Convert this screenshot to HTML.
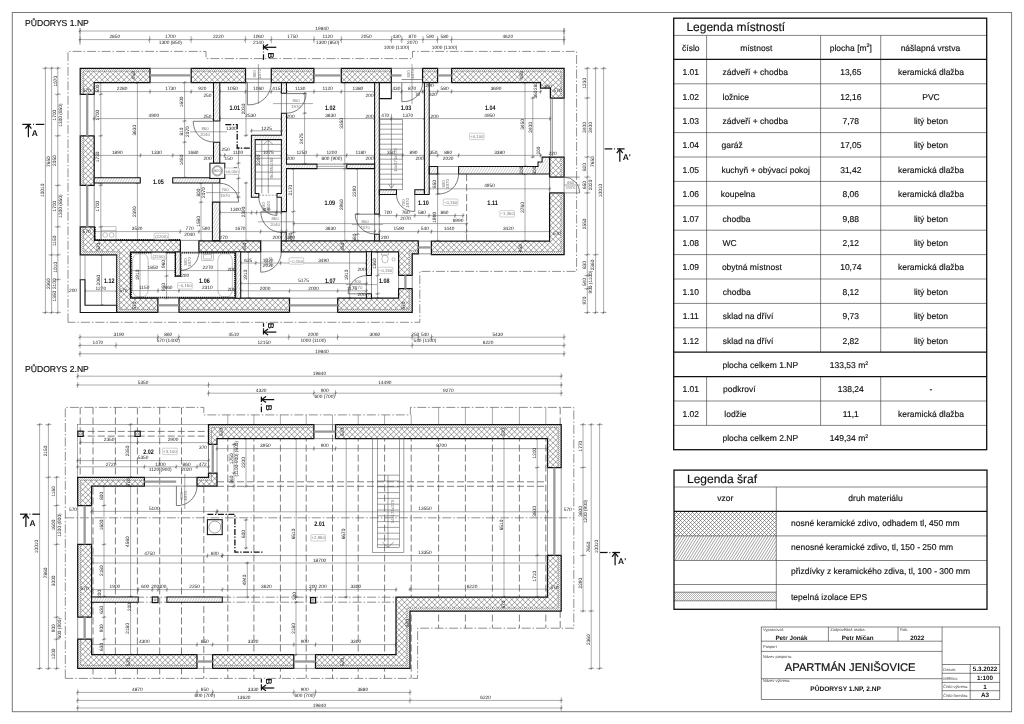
<!DOCTYPE html>
<html lang="cs"><head><meta charset="utf-8"><title>APARTMÁN JENIŠOVICE – PŮDORYSY 1.NP, 2.NP</title>
<style>
html,body{margin:0;padding:0;background:#fff;}
body{width:1024px;height:724px;overflow:hidden;}
svg{display:block;will-change:transform;text-rendering:geometricPrecision;font-family:"Liberation Sans",sans-serif;}
.fr{fill:none;stroke:#777;stroke-width:1;}
.d{stroke:#555;stroke-width:.5;fill:none;}
.tk{stroke:#333;stroke-width:.5;}
.t{font-size:4.8px;fill:#222;}
.tl{font-size:4.3px;fill:#777;}
.lv{fill:#fff;stroke:#888;stroke-width:.4;}
.rm{font-size:6.6px;font-weight:bold;fill:#111;}
.ww{fill:#fff;stroke:#111;stroke-width:1.05;}
.ins{fill:none;stroke:#444;stroke-width:.5;stroke-dasharray:1.3 .6;}
.wl{stroke:#666;stroke-width:.7;}
.gl{stroke:#999;stroke-width:2.3;}
.dr{stroke:#444;stroke-width:.7;fill:none;}
.th{stroke:#444;stroke-width:.5;fill:none;}
.dd{stroke:#444;stroke-width:.6;fill:none;stroke-dasharray:9 2 1.5 2;}
.ds{stroke:#555;stroke-width:.75;fill:none;stroke-dasharray:7 3;}
.ch{stroke:#111;stroke-width:1.3;fill:none;stroke-dasharray:6 1.6 1.3 1.6;}
.tile{stroke:#111;stroke-width:1.5;fill:none;stroke-dasharray:1.2 .7;}
.sec{stroke:#111;stroke-width:1.25;fill:none;}
.sect{font-size:8.4px;font-weight:bold;fill:#111;}
.h1{font-size:8.6px;fill:#111;stroke:#111;stroke-width:.15px;}
.tb{fill:none;stroke:#111;stroke-width:1.3;}
.tg{stroke:#333;stroke-width:.6;fill:none;}
.lt{font-size:12px;fill:#111;stroke:#111;stroke-width:.15px;}
.lc{font-size:8.5px;fill:#111;stroke:#111;stroke-width:.15px;}
.s1{font-size:4px;fill:#444;}
.s2{font-size:6.3px;font-weight:bold;fill:#111;}
.s4{font-size:6.6px;font-weight:bold;fill:#111;}
.s3{font-size:11.2px;fill:#111;stroke:#111;stroke-width:.2px;}
.wl2{fill:none;stroke:#555;stroke-width:.5;}
.fx{fill:none;stroke:#777;stroke-width:.45;}
.ds2{stroke:#444;stroke-width:.5;stroke-dasharray:2 1.2;}
.col{fill:#fff;stroke:#111;stroke-width:1.2;}
.wxs{fill:none;stroke:#111;stroke-width:1.25;}
.wf{fill:#fff;stroke:none;}
.hx{stroke:#555;stroke-width:.55;fill:none;}
.he{stroke:#777;stroke-width:.3;fill:none;}
.hd{stroke:#888;stroke-width:.42;fill:none;}
.mk{stroke:#fff;stroke-width:3;fill:none;}
.wds{fill:none;stroke:#111;stroke-width:1.05;}
.hd2{stroke:#666;stroke-width:.6;fill:none;}
</style></head>
<body>
<svg width="1024" height="724" viewBox="0 0 1024 724">

<rect x="0" y="0" width="1024" height="724" fill="#fff"/>
<rect class="fr" x="12.3" y="12.5" width="999.3" height="699.2"/>
<g id="legenda-mistnosti">
<line class="tg" x1="673.7" y1="35.4" x2="986.7" y2="35.4"/>
<line class="tg" x1="673.7" y1="83.8" x2="986.7" y2="83.8"/>
<line class="tg" x1="673.7" y1="108.2" x2="986.7" y2="108.2"/>
<line class="tg" x1="673.7" y1="132.6" x2="986.7" y2="132.6"/>
<line class="tg" x1="673.7" y1="157" x2="986.7" y2="157"/>
<line class="tg" x1="673.7" y1="181.4" x2="986.7" y2="181.4"/>
<line class="tg" x1="673.7" y1="205.8" x2="986.7" y2="205.8"/>
<line class="tg" x1="673.7" y1="230.2" x2="986.7" y2="230.2"/>
<line class="tg" x1="673.7" y1="254.6" x2="986.7" y2="254.6"/>
<line class="tg" x1="673.7" y1="279" x2="986.7" y2="279"/>
<line class="tg" x1="673.7" y1="303.4" x2="986.7" y2="303.4"/>
<line class="tg" x1="673.7" y1="327.8" x2="986.7" y2="327.8"/>
<line class="tg" x1="673.7" y1="401" x2="986.7" y2="401"/>
<line class="tg" x1="673.7" y1="425.4" x2="986.7" y2="425.4"/>
<line class="tg" x1="706.6" y1="35.4" x2="706.6" y2="352.2"/>
<line class="tg" x1="820.6" y1="35.4" x2="820.6" y2="352.2"/>
<line class="tg" x1="880.7" y1="35.4" x2="880.7" y2="352.2"/>
<line class="tg" x1="706.6" y1="376.6" x2="706.6" y2="425.4"/>
<line class="tg" x1="820.6" y1="376.6" x2="820.6" y2="425.4"/>
<line class="tg" x1="880.7" y1="376.6" x2="880.7" y2="425.4"/>
<rect class="tb" x="673.7" y="18.2" width="313" height="431.5"/>
<line class="tb" x1="673.7" y1="59.4" x2="986.7" y2="59.4"/>
<line class="tb" x1="673.7" y1="352.2" x2="986.7" y2="352.2"/>
<line class="tb" x1="673.7" y1="376.6" x2="986.7" y2="376.6"/>
<text class="lt" x="686.4" y="31.2">Legenda místností</text>
<text class="lc" x="690.8" y="50.6" text-anchor="middle">číslo</text>
<text class="lc" x="756.2" y="50.6" text-anchor="middle">místnost</text>
<text class="lc" x="850.8" y="50.6" text-anchor="middle">plocha [m<tspan font-size="5.2" dy="-3.2">2</tspan><tspan dy="3.2">]</tspan></text>
<text class="lc" x="930.4" y="50.6" text-anchor="middle">nášlapná vrstva</text>
<text class="lc" x="690.8" y="75.1" text-anchor="middle">1.01</text>
<text class="lc" x="722.5" y="75.1">zádveří + chodba</text>
<text class="lc" x="850.8" y="75.1" text-anchor="middle">13,65</text>
<text class="lc" x="931" y="75.1" text-anchor="middle">keramická dlažba</text>
<text class="lc" x="690.8" y="99.5" text-anchor="middle">1.02</text>
<text class="lc" x="722.5" y="99.5">ložnice</text>
<text class="lc" x="850.8" y="99.5" text-anchor="middle">12,16</text>
<text class="lc" x="931" y="99.5" text-anchor="middle">PVC</text>
<text class="lc" x="690.8" y="123.9" text-anchor="middle">1.03</text>
<text class="lc" x="722.5" y="123.9">zádveří + chodba</text>
<text class="lc" x="850.8" y="123.9" text-anchor="middle">7,78</text>
<text class="lc" x="931" y="123.9" text-anchor="middle">litý beton</text>
<text class="lc" x="690.8" y="148.3" text-anchor="middle">1.04</text>
<text class="lc" x="721.5" y="148.3">garáž</text>
<text class="lc" x="850.8" y="148.3" text-anchor="middle">17,05</text>
<text class="lc" x="931" y="148.3" text-anchor="middle">litý beton</text>
<text class="lc" x="690.8" y="172.7" text-anchor="middle">1.05</text>
<text class="lc" x="721.4" y="172.7">kuchyň + obývací pokoj</text>
<text class="lc" x="850.8" y="172.7" text-anchor="middle">31,42</text>
<text class="lc" x="931" y="172.7" text-anchor="middle">keramická dlažba</text>
<text class="lc" x="690.8" y="197.1" text-anchor="middle">1.06</text>
<text class="lc" x="720.8" y="197.1">koupelna</text>
<text class="lc" x="850.8" y="197.1" text-anchor="middle">8,06</text>
<text class="lc" x="931" y="197.1" text-anchor="middle">keramická dlažba</text>
<text class="lc" x="690.8" y="221.5" text-anchor="middle">1.07</text>
<text class="lc" x="722.6" y="221.5">chodba</text>
<text class="lc" x="850.8" y="221.5" text-anchor="middle">9,88</text>
<text class="lc" x="931" y="221.5" text-anchor="middle">litý beton</text>
<text class="lc" x="690.8" y="245.9" text-anchor="middle">1.08</text>
<text class="lc" x="722.6" y="245.9">WC</text>
<text class="lc" x="850.8" y="245.9" text-anchor="middle">2,12</text>
<text class="lc" x="931" y="245.9" text-anchor="middle">litý beton</text>
<text class="lc" x="690.8" y="270.3" text-anchor="middle">1.09</text>
<text class="lc" x="721.9" y="270.3">obytná místnost</text>
<text class="lc" x="850.8" y="270.3" text-anchor="middle">10,74</text>
<text class="lc" x="931" y="270.3" text-anchor="middle">keramická dlažba</text>
<text class="lc" x="690.8" y="294.7" text-anchor="middle">1.10</text>
<text class="lc" x="722.8" y="294.7">chodba</text>
<text class="lc" x="850.8" y="294.7" text-anchor="middle">8,12</text>
<text class="lc" x="931" y="294.7" text-anchor="middle">litý beton</text>
<text class="lc" x="690.8" y="319.1" text-anchor="middle">1.11</text>
<text class="lc" x="722.8" y="319.1">sklad na dříví</text>
<text class="lc" x="850.8" y="319.1" text-anchor="middle">9,73</text>
<text class="lc" x="931" y="319.1" text-anchor="middle">litý beton</text>
<text class="lc" x="690.8" y="343.5" text-anchor="middle">1.12</text>
<text class="lc" x="722.8" y="343.5">sklad na dříví</text>
<text class="lc" x="850.8" y="343.5" text-anchor="middle">2,82</text>
<text class="lc" x="931" y="343.5" text-anchor="middle">litý beton</text>
<text class="lc" x="722.5" y="367.9">plocha celkem 1.NP</text>
<text class="lc" x="829.8" y="367.9">133,53 m<tspan font-size="5.2" dy="-3.2">2</tspan></text>
<text class="lc" x="690.8" y="392.3" text-anchor="middle">1.01</text>
<text class="lc" x="723" y="392.3">podkroví</text>
<text class="lc" x="850.8" y="392.3" text-anchor="middle">138,24</text>
<text class="lc" x="931" y="392.3" text-anchor="middle">-</text>
<text class="lc" x="690.8" y="416.7" text-anchor="middle">1.02</text>
<text class="lc" x="724.3" y="416.7">lodžie</text>
<text class="lc" x="850.8" y="416.7" text-anchor="middle">11,1</text>
<text class="lc" x="931" y="416.7" text-anchor="middle">keramická dlažba</text>
<text class="lc" x="722.5" y="441.1">plocha celkem 2.NP</text>
<text class="lc" x="829.8" y="441.1">149,34 m<tspan font-size="5.2" dy="-3.2">2</tspan></text>
</g>
<g id="legenda-sraf">
<clipPath id="cs1"><rect x="674" y="511.3" width="102.3" height="24.6"/></clipPath>
<path class="hx" clip-path="url(#cs1)" d="M651.3 511.3L675.9 535.9M655.3 511.3L679.9 535.9M659.3 511.3L683.9 535.9M663.3 511.3L687.9 535.9M667.3 511.3L691.9 535.9M671.3 511.3L695.9 535.9M675.3 511.3L699.9 535.9M679.3 511.3L703.9 535.9M683.3 511.3L707.9 535.9M687.3 511.3L711.9 535.9M691.3 511.3L715.9 535.9M695.3 511.3L719.9 535.9M699.3 511.3L723.9 535.9M703.3 511.3L727.9 535.9M707.3 511.3L731.9 535.9M711.3 511.3L735.9 535.9M715.3 511.3L739.9 535.9M719.3 511.3L743.9 535.9M723.3 511.3L747.9 535.9M727.3 511.3L751.9 535.9M731.3 511.3L755.9 535.9M735.3 511.3L759.9 535.9M739.3 511.3L763.9 535.9M743.3 511.3L767.9 535.9M747.3 511.3L771.9 535.9M751.3 511.3L775.9 535.9M755.3 511.3L779.9 535.9M759.3 511.3L783.9 535.9M763.3 511.3L787.9 535.9M767.3 511.3L791.9 535.9M771.3 511.3L795.9 535.9M775.3 511.3L799.9 535.9M677.7 511.3L653.1 535.9M681.7 511.3L657.1 535.9M685.7 511.3L661.1 535.9M689.7 511.3L665.1 535.9M693.7 511.3L669.1 535.9M697.7 511.3L673.1 535.9M701.7 511.3L677.1 535.9M705.7 511.3L681.1 535.9M709.7 511.3L685.1 535.9M713.7 511.3L689.1 535.9M717.7 511.3L693.1 535.9M721.7 511.3L697.1 535.9M725.7 511.3L701.1 535.9M729.7 511.3L705.1 535.9M733.7 511.3L709.1 535.9M737.7 511.3L713.1 535.9M741.7 511.3L717.1 535.9M745.7 511.3L721.1 535.9M749.7 511.3L725.1 535.9M753.7 511.3L729.1 535.9M757.7 511.3L733.1 535.9M761.7 511.3L737.1 535.9M765.7 511.3L741.1 535.9M769.7 511.3L745.1 535.9M773.7 511.3L749.1 535.9M777.7 511.3L753.1 535.9M781.7 511.3L757.1 535.9M785.7 511.3L761.1 535.9M789.7 511.3L765.1 535.9M793.7 511.3L769.1 535.9M797.7 511.3L773.1 535.9"/>
<clipPath id="cs2"><rect x="674" y="535.9" width="102.3" height="24.6"/></clipPath>
<path class="hd2" clip-path="url(#cs2)" d="M655.93 560.5L671.3 535.9M658.63 560.5L674 535.9M661.33 560.5L676.7 535.9M664.03 560.5L679.4 535.9M666.73 560.5L682.1 535.9M669.43 560.5L684.8 535.9M672.13 560.5L687.5 535.9M674.83 560.5L690.2 535.9M677.53 560.5L692.9 535.9M680.23 560.5L695.6 535.9M682.93 560.5L698.3 535.9M685.63 560.5L701 535.9M688.33 560.5L703.7 535.9M691.03 560.5L706.4 535.9M693.73 560.5L709.1 535.9M696.43 560.5L711.8 535.9M699.13 560.5L714.5 535.9M701.83 560.5L717.2 535.9M704.53 560.5L719.9 535.9M707.23 560.5L722.6 535.9M709.93 560.5L725.3 535.9M712.63 560.5L728 535.9M715.33 560.5L730.7 535.9M718.03 560.5L733.4 535.9M720.73 560.5L736.1 535.9M723.43 560.5L738.8 535.9M726.13 560.5L741.5 535.9M728.83 560.5L744.2 535.9M731.53 560.5L746.9 535.9M734.23 560.5L749.6 535.9M736.93 560.5L752.3 535.9M739.63 560.5L755 535.9M742.33 560.5L757.7 535.9M745.03 560.5L760.4 535.9M747.73 560.5L763.1 535.9M750.43 560.5L765.8 535.9M753.13 560.5L768.5 535.9M755.83 560.5L771.2 535.9M758.53 560.5L773.9 535.9M761.23 560.5L776.6 535.9M763.93 560.5L779.3 535.9M766.63 560.5L782 535.9M769.33 560.5L784.7 535.9M772.03 560.5L787.4 535.9M774.73 560.5L790.1 535.9M777.43 560.5L792.8 535.9"/>
<clipPath id="cs3"><rect x="674" y="592.2" width="102.3" height="8.6"/></clipPath>
<path class="he" clip-path="url(#cs3)" d="M666.2 592.2L674.8 600.8M668.2 592.2L676.8 600.8M670.2 592.2L678.8 600.8M672.2 592.2L680.8 600.8M674.2 592.2L682.8 600.8M676.2 592.2L684.8 600.8M678.2 592.2L686.8 600.8M680.2 592.2L688.8 600.8M682.2 592.2L690.8 600.8M684.2 592.2L692.8 600.8M686.2 592.2L694.8 600.8M688.2 592.2L696.8 600.8M690.2 592.2L698.8 600.8M692.2 592.2L700.8 600.8M694.2 592.2L702.8 600.8M696.2 592.2L704.8 600.8M698.2 592.2L706.8 600.8M700.2 592.2L708.8 600.8M702.2 592.2L710.8 600.8M704.2 592.2L712.8 600.8M706.2 592.2L714.8 600.8M708.2 592.2L716.8 600.8M710.2 592.2L718.8 600.8M712.2 592.2L720.8 600.8M714.2 592.2L722.8 600.8M716.2 592.2L724.8 600.8M718.2 592.2L726.8 600.8M720.2 592.2L728.8 600.8M722.2 592.2L730.8 600.8M724.2 592.2L732.8 600.8M726.2 592.2L734.8 600.8M728.2 592.2L736.8 600.8M730.2 592.2L738.8 600.8M732.2 592.2L740.8 600.8M734.2 592.2L742.8 600.8M736.2 592.2L744.8 600.8M738.2 592.2L746.8 600.8M740.2 592.2L748.8 600.8M742.2 592.2L750.8 600.8M744.2 592.2L752.8 600.8M746.2 592.2L754.8 600.8M748.2 592.2L756.8 600.8M750.2 592.2L758.8 600.8M752.2 592.2L760.8 600.8M754.2 592.2L762.8 600.8M756.2 592.2L764.8 600.8M758.2 592.2L766.8 600.8M760.2 592.2L768.8 600.8M762.2 592.2L770.8 600.8M764.2 592.2L772.8 600.8M766.2 592.2L774.8 600.8M768.2 592.2L776.8 600.8M770.2 592.2L778.8 600.8M772.2 592.2L780.8 600.8M774.2 592.2L782.8 600.8M776.2 592.2L784.8 600.8M674.8 592.2L666.2 600.8M676.8 592.2L668.2 600.8M678.8 592.2L670.2 600.8M680.8 592.2L672.2 600.8M682.8 592.2L674.2 600.8M684.8 592.2L676.2 600.8M686.8 592.2L678.2 600.8M688.8 592.2L680.2 600.8M690.8 592.2L682.2 600.8M692.8 592.2L684.2 600.8M694.8 592.2L686.2 600.8M696.8 592.2L688.2 600.8M698.8 592.2L690.2 600.8M700.8 592.2L692.2 600.8M702.8 592.2L694.2 600.8M704.8 592.2L696.2 600.8M706.8 592.2L698.2 600.8M708.8 592.2L700.2 600.8M710.8 592.2L702.2 600.8M712.8 592.2L704.2 600.8M714.8 592.2L706.2 600.8M716.8 592.2L708.2 600.8M718.8 592.2L710.2 600.8M720.8 592.2L712.2 600.8M722.8 592.2L714.2 600.8M724.8 592.2L716.2 600.8M726.8 592.2L718.2 600.8M728.8 592.2L720.2 600.8M730.8 592.2L722.2 600.8M732.8 592.2L724.2 600.8M734.8 592.2L726.2 600.8M736.8 592.2L728.2 600.8M738.8 592.2L730.2 600.8M740.8 592.2L732.2 600.8M742.8 592.2L734.2 600.8M744.8 592.2L736.2 600.8M746.8 592.2L738.2 600.8M748.8 592.2L740.2 600.8M750.8 592.2L742.2 600.8M752.8 592.2L744.2 600.8M754.8 592.2L746.2 600.8M756.8 592.2L748.2 600.8M758.8 592.2L750.2 600.8M760.8 592.2L752.2 600.8M762.8 592.2L754.2 600.8M764.8 592.2L756.2 600.8M766.8 592.2L758.2 600.8M768.8 592.2L760.2 600.8M770.8 592.2L762.2 600.8M772.8 592.2L764.2 600.8M774.8 592.2L766.2 600.8M776.8 592.2L768.2 600.8M778.8 592.2L770.2 600.8M780.8 592.2L772.2 600.8M782.8 592.2L774.2 600.8M784.8 592.2L776.2 600.8"/>
<line class="tg" x1="674" y1="592.2" x2="776.3" y2="592.2"/>
<line class="tg" x1="674" y1="600.8" x2="776.3" y2="600.8"/>
<line class="tg" x1="674" y1="487" x2="987" y2="487"/>
<line class="tg" x1="674" y1="535.9" x2="987" y2="535.9"/>
<line class="tg" x1="674" y1="560.5" x2="987" y2="560.5"/>
<line class="tg" x1="674" y1="584.5" x2="987" y2="584.5"/>
<line class="tg" x1="776.3" y1="487" x2="776.3" y2="609.3"/>
<rect class="tb" x="674" y="470.1" width="313" height="139.2"/>
<line class="tb" x1="674" y1="511.3" x2="987" y2="511.3"/>
<text class="lt" x="687" y="482.7">Legenda šraf</text>
<text class="lc" x="725.3" y="501.3" text-anchor="middle">vzor</text>
<text class="lc" x="875.5" y="501.3" text-anchor="middle">druh materiálu</text>
<text class="lc" x="791" y="525.7">nosné keramické zdivo, odhadem tl, 450 mm</text>
<text class="lc" x="791" y="550.1">nenosné keramické zdivo, tl, 150 - 250 mm</text>
<text class="lc" x="791" y="573.9">přizdívky z keramického zdiva, tl, 100 - 300 mm</text>
<text class="lc" x="791" y="599.8">tepelná izolace EPS</text>
</g>
<g id="rohove-razitko">
<rect class="tg" x="761.2" y="627" width="238.6" height="72.4"/>
<line class="tg" x1="942.1" y1="627" x2="942.1" y2="699.4"/>
<line class="tg" x1="761.2" y1="641.2" x2="942.1" y2="641.2"/>
<line class="tg" x1="761.2" y1="651.4" x2="942.1" y2="651.4"/>
<line class="tg" x1="761.2" y1="678.7" x2="942.1" y2="678.7"/>
<line class="tg" x1="828.4" y1="627" x2="828.4" y2="641.2"/>
<line class="tg" x1="898" y1="627" x2="898" y2="641.2"/>
<line class="tg" x1="942.1" y1="664.5" x2="999.8" y2="664.5"/>
<line class="tg" x1="942.1" y1="673.3" x2="999.8" y2="673.3"/>
<line class="tg" x1="942.1" y1="682.4" x2="999.8" y2="682.4"/>
<line class="tg" x1="942.1" y1="690.7" x2="999.8" y2="690.7"/>
<line class="tg" x1="970.2" y1="664.5" x2="970.2" y2="699.4"/>
<text class="s1" x="763" y="631.4">Vypracoval:</text>
<text class="s2" x="791.5" y="639.7" text-anchor="middle">Petr Jonák</text>
<text class="s1" x="830.3" y="631.4">Zodpovědná osoba:</text>
<text class="s2" x="857.8" y="639.7" text-anchor="middle">Petr Mičan</text>
<text class="s1" x="900" y="631.4">Rok:</text>
<text class="s2" x="917.2" y="639.9" text-anchor="middle">2022</text>
<text class="s1" x="763" y="647.6">Pasport</text>
<text class="s1" x="763" y="657.7">Název pasportu:</text>
<text class="s3" x="850.2" y="670.8" text-anchor="middle">APARTMÁN JENIŠOVICE</text>
<text class="s1" x="763" y="682.4">Název výkresu:</text>
<text class="s4" x="845.6" y="690.8" text-anchor="middle">PŮDORYSY 1.NP, 2.NP</text>
<text class="s1" x="943.3" y="670.9">Datum:</text>
<text class="s2" x="985" y="671.3" text-anchor="middle">5.3.2022</text>
<text class="s1" x="943.3" y="679.7">Měřítko:</text>
<text class="s2" x="985" y="680.1" text-anchor="middle">1:100</text>
<text class="s1" x="943.3" y="688.4">Číslo výkresu:</text>
<text class="s2" x="985" y="688.8" text-anchor="middle">1</text>
<text class="s1" x="943.3" y="696.8">Číslo formátu:</text>
<text class="s2" x="985" y="697.2" text-anchor="middle">A3</text>
</g>
<g id="pudorys-1np">
<text class="h1" x="25" y="26.3">PŮDORYS 1.NP</text>
<polyline class="dd" points="68,322.3 68,51.4 206,51.4 206,58.6 412.5,58.6 412.5,51.4 576.6,51.4 576.6,271.4 419.8,271.4 419.8,322.3 68,322.3"/>
<line class="d" x1="78.5" y1="31" x2="565.5" y2="31"/>
<line class="d" x1="80" y1="28" x2="80" y2="34"/>
<line class="tk" x1="78.9" y1="32.1" x2="81.1" y2="29.9"/>
<line class="d" x1="564" y1="28" x2="564" y2="34"/>
<line class="tk" x1="562.9" y1="32.1" x2="565.1" y2="29.9"/>
<text class="t" x="322" y="29.7" text-anchor="middle">19840</text>
<line class="d" x1="78.5" y1="39.6" x2="565.5" y2="39.6"/>
<line class="d" x1="80" y1="36.1" x2="80" y2="43.1"/>
<line class="tk" x1="78.9" y1="40.7" x2="81.1" y2="38.5"/>
<line class="d" x1="149.6" y1="36.1" x2="149.6" y2="43.1"/>
<line class="tk" x1="148.5" y1="40.7" x2="150.7" y2="38.5"/>
<line class="d" x1="191.1" y1="36.1" x2="191.1" y2="43.1"/>
<line class="tk" x1="190" y1="40.7" x2="192.2" y2="38.5"/>
<line class="d" x1="245.4" y1="36.1" x2="245.4" y2="43.1"/>
<line class="tk" x1="244.3" y1="40.7" x2="246.5" y2="38.5"/>
<line class="d" x1="271.3" y1="36.1" x2="271.3" y2="43.1"/>
<line class="tk" x1="270.2" y1="40.7" x2="272.4" y2="38.5"/>
<line class="d" x1="314" y1="36.1" x2="314" y2="43.1"/>
<line class="tk" x1="312.9" y1="40.7" x2="315.1" y2="38.5"/>
<line class="d" x1="341.3" y1="36.1" x2="341.3" y2="43.1"/>
<line class="tk" x1="340.2" y1="40.7" x2="342.4" y2="38.5"/>
<line class="d" x1="391.4" y1="36.1" x2="391.4" y2="43.1"/>
<line class="tk" x1="390.3" y1="40.7" x2="392.5" y2="38.5"/>
<line class="d" x1="401.8" y1="36.1" x2="401.8" y2="43.1"/>
<line class="tk" x1="400.7" y1="40.7" x2="402.9" y2="38.5"/>
<line class="d" x1="423" y1="36.1" x2="423" y2="43.1"/>
<line class="tk" x1="421.9" y1="40.7" x2="424.1" y2="38.5"/>
<line class="d" x1="437.5" y1="36.1" x2="437.5" y2="43.1"/>
<line class="tk" x1="436.4" y1="40.7" x2="438.6" y2="38.5"/>
<line class="d" x1="451.6" y1="36.1" x2="451.6" y2="43.1"/>
<line class="tk" x1="450.5" y1="40.7" x2="452.7" y2="38.5"/>
<line class="d" x1="564" y1="36.1" x2="564" y2="43.1"/>
<line class="tk" x1="562.9" y1="40.7" x2="565.1" y2="38.5"/>
<text class="t" x="114.8" y="38.3" text-anchor="middle">2850</text>
<text class="t" x="170.35" y="38.3" text-anchor="middle">1700</text>
<text class="t" x="218.25" y="38.3" text-anchor="middle">2220</text>
<text class="t" x="258.35" y="38.3" text-anchor="middle">1060</text>
<text class="t" x="292.65" y="38.3" text-anchor="middle">1750</text>
<text class="t" x="327.65" y="38.3" text-anchor="middle">1120</text>
<text class="t" x="366.35" y="38.3" text-anchor="middle">2050</text>
<text class="t" x="396.6" y="38.3" text-anchor="middle">430</text>
<text class="t" x="412.4" y="38.3" text-anchor="middle">870</text>
<text class="t" x="430.25" y="38.3" text-anchor="middle">590</text>
<text class="t" x="444.55" y="38.3" text-anchor="middle">580</text>
<text class="t" x="507.8" y="38.3" text-anchor="middle">4620</text>
<text class="t" x="170.35" y="44" text-anchor="middle">1300 (850)</text>
<text class="t" x="258.35" y="44" text-anchor="middle">2140</text>
<text class="t" x="327.65" y="44" text-anchor="middle">1300 (850)</text>
<text class="t" x="412.4" y="44" text-anchor="middle">2070</text>
<text class="t" x="396.5" y="48.6" text-anchor="middle">1000 (1100)</text>
<text class="t" x="444.5" y="48.6" text-anchor="middle">1000 (1100)</text>
<line class="d" x1="80" y1="28" x2="80" y2="45"/>
<line class="d" x1="564" y1="28" x2="564" y2="45"/>
<line class="d" x1="78.5" y1="337.2" x2="565.5" y2="337.2"/>
<line class="d" x1="80" y1="334.2" x2="80" y2="340.2"/>
<line class="tk" x1="78.9" y1="338.3" x2="81.1" y2="336.1"/>
<line class="d" x1="157.8" y1="334.2" x2="157.8" y2="340.2"/>
<line class="tk" x1="156.7" y1="338.3" x2="158.9" y2="336.1"/>
<line class="d" x1="178.8" y1="334.2" x2="178.8" y2="340.2"/>
<line class="tk" x1="177.7" y1="338.3" x2="179.9" y2="336.1"/>
<line class="d" x1="288.8" y1="334.2" x2="288.8" y2="340.2"/>
<line class="tk" x1="287.7" y1="338.3" x2="289.9" y2="336.1"/>
<line class="d" x1="337.6" y1="334.2" x2="337.6" y2="340.2"/>
<line class="tk" x1="336.5" y1="338.3" x2="338.7" y2="336.1"/>
<line class="d" x1="412.2" y1="334.2" x2="412.2" y2="340.2"/>
<line class="tk" x1="411.1" y1="338.3" x2="413.3" y2="336.1"/>
<line class="d" x1="418.3" y1="334.2" x2="418.3" y2="340.2"/>
<line class="tk" x1="417.2" y1="338.3" x2="419.4" y2="336.1"/>
<line class="d" x1="431.5" y1="334.2" x2="431.5" y2="340.2"/>
<line class="tk" x1="430.4" y1="338.3" x2="432.6" y2="336.1"/>
<line class="d" x1="564" y1="334.2" x2="564" y2="340.2"/>
<line class="tk" x1="562.9" y1="338.3" x2="565.1" y2="336.1"/>
<text class="t" x="118.9" y="335.9" text-anchor="middle">3190</text>
<text class="t" x="168.3" y="335.9" text-anchor="middle">860</text>
<text class="t" x="233.8" y="335.9" text-anchor="middle">4510</text>
<text class="t" x="313.2" y="335.9" text-anchor="middle">2000</text>
<text class="t" x="374.9" y="335.9" text-anchor="middle">3060</text>
<text class="t" x="415.25" y="335.9" text-anchor="middle">250</text>
<text class="t" x="424.9" y="335.9" text-anchor="middle">540</text>
<text class="t" x="497.75" y="335.9" text-anchor="middle">5430</text>
<text class="t" x="168.3" y="341.6" text-anchor="middle">570 (1400)</text>
<text class="t" x="313.2" y="341.6" text-anchor="middle">1000 (1100)</text>
<text class="t" x="424.9" y="341.6" text-anchor="middle">540 (1100)</text>
<line class="d" x1="78.5" y1="345.4" x2="565.5" y2="345.4"/>
<line class="d" x1="80" y1="342.4" x2="80" y2="348.4"/>
<line class="tk" x1="78.9" y1="346.5" x2="81.1" y2="344.3"/>
<line class="d" x1="115.9" y1="342.4" x2="115.9" y2="348.4"/>
<line class="tk" x1="114.8" y1="346.5" x2="117" y2="344.3"/>
<line class="d" x1="412.2" y1="342.4" x2="412.2" y2="348.4"/>
<line class="tk" x1="411.1" y1="346.5" x2="413.3" y2="344.3"/>
<line class="d" x1="564" y1="342.4" x2="564" y2="348.4"/>
<line class="tk" x1="562.9" y1="346.5" x2="565.1" y2="344.3"/>
<text class="t" x="97.95" y="344.1" text-anchor="middle">1470</text>
<text class="t" x="264.05" y="344.1" text-anchor="middle">12150</text>
<text class="t" x="488.1" y="344.1" text-anchor="middle">6220</text>
<line class="d" x1="78.5" y1="353.8" x2="565.5" y2="353.8"/>
<line class="d" x1="80" y1="350.8" x2="80" y2="356.8"/>
<line class="tk" x1="78.9" y1="354.9" x2="81.1" y2="352.7"/>
<line class="d" x1="564" y1="350.8" x2="564" y2="356.8"/>
<line class="tk" x1="562.9" y1="354.9" x2="565.1" y2="352.7"/>
<text class="t" x="322" y="352.5" text-anchor="middle">19840</text>
<line class="d" x1="57.8" y1="66.7" x2="57.8" y2="314"/>
<line class="d" x1="54.8" y1="68.2" x2="60.8" y2="68.2"/>
<line class="tk" x1="56.7" y1="69.3" x2="58.9" y2="67.1"/>
<line class="d" x1="54.8" y1="94.3" x2="60.8" y2="94.3"/>
<line class="tk" x1="56.7" y1="95.4" x2="58.9" y2="93.2"/>
<line class="d" x1="54.8" y1="135.8" x2="60.8" y2="135.8"/>
<line class="tk" x1="56.7" y1="136.9" x2="58.9" y2="134.7"/>
<line class="d" x1="54.8" y1="185.4" x2="60.8" y2="185.4"/>
<line class="tk" x1="56.7" y1="186.5" x2="58.9" y2="184.3"/>
<line class="d" x1="54.8" y1="226.8" x2="60.8" y2="226.8"/>
<line class="tk" x1="56.7" y1="227.9" x2="58.9" y2="225.7"/>
<line class="d" x1="54.8" y1="254.9" x2="60.8" y2="254.9"/>
<line class="tk" x1="56.7" y1="256" x2="58.9" y2="253.8"/>
<line class="d" x1="54.8" y1="279.6" x2="60.8" y2="279.6"/>
<line class="tk" x1="56.7" y1="280.7" x2="58.9" y2="278.5"/>
<line class="d" x1="54.8" y1="312.5" x2="60.8" y2="312.5"/>
<line class="tk" x1="56.7" y1="313.6" x2="58.9" y2="311.4"/>
<text class="t" x="56.5" y="81.25" text-anchor="middle" transform="rotate(-90 56.5 81.25)">1070</text>
<text class="t" x="56.5" y="115.05" text-anchor="middle" transform="rotate(-90 56.5 115.05)">1700</text>
<text class="t" x="56.5" y="160.6" text-anchor="middle" transform="rotate(-90 56.5 160.6)">2050</text>
<text class="t" x="56.5" y="206.1" text-anchor="middle" transform="rotate(-90 56.5 206.1)">1700</text>
<text class="t" x="56.5" y="240.85" text-anchor="middle" transform="rotate(-90 56.5 240.85)">1150</text>
<text class="t" x="56.5" y="267.25" text-anchor="middle" transform="rotate(-90 56.5 267.25)">1010</text>
<text class="t" x="56.5" y="296.05" text-anchor="middle" transform="rotate(-90 56.5 296.05)">1350</text>
<text class="t" x="62.2" y="115.05" text-anchor="middle" transform="rotate(-90 62.2 115.05)">1300 (850)</text>
<text class="t" x="62.2" y="206.1" text-anchor="middle" transform="rotate(-90 62.2 206.1)">1300 (850)</text>
<line class="d" x1="51.6" y1="66.7" x2="51.6" y2="314"/>
<line class="d" x1="48.6" y1="68.2" x2="54.6" y2="68.2"/>
<line class="tk" x1="50.5" y1="69.3" x2="52.7" y2="67.1"/>
<line class="d" x1="48.6" y1="254.9" x2="54.6" y2="254.9"/>
<line class="tk" x1="50.5" y1="256" x2="52.7" y2="253.8"/>
<line class="d" x1="48.6" y1="312.5" x2="54.6" y2="312.5"/>
<line class="tk" x1="50.5" y1="313.6" x2="52.7" y2="311.4"/>
<text class="t" x="50.3" y="161.55" text-anchor="middle" transform="rotate(-90 50.3 161.55)">7650</text>
<text class="t" x="50.3" y="283.7" text-anchor="middle" transform="rotate(-90 50.3 283.7)">2360</text>
<text class="t" x="56" y="283.7" text-anchor="middle" transform="rotate(-90 56 283.7)">2100</text>
<line class="d" x1="45.4" y1="66.7" x2="45.4" y2="314"/>
<line class="d" x1="42.4" y1="68.2" x2="48.4" y2="68.2"/>
<line class="tk" x1="44.3" y1="69.3" x2="46.5" y2="67.1"/>
<line class="d" x1="42.4" y1="312.5" x2="48.4" y2="312.5"/>
<line class="tk" x1="44.3" y1="313.6" x2="46.5" y2="311.4"/>
<text class="t" x="44.1" y="190.35" text-anchor="middle" transform="rotate(-90 44.1 190.35)">10010</text>
<line class="d" x1="587.3" y1="66.9" x2="587.3" y2="314"/>
<line class="d" x1="584.3" y1="68.4" x2="590.3" y2="68.4"/>
<line class="tk" x1="586.2" y1="69.5" x2="588.4" y2="67.3"/>
<line class="d" x1="584.3" y1="98" x2="590.3" y2="98"/>
<line class="tk" x1="586.2" y1="99.1" x2="588.4" y2="96.9"/>
<line class="d" x1="584.3" y1="157" x2="590.3" y2="157"/>
<line class="tk" x1="586.2" y1="158.1" x2="588.4" y2="155.9"/>
<line class="d" x1="584.3" y1="177.1" x2="590.3" y2="177.1"/>
<line class="tk" x1="586.2" y1="178.2" x2="588.4" y2="176"/>
<line class="d" x1="584.3" y1="192.9" x2="590.3" y2="192.9"/>
<line class="tk" x1="586.2" y1="194" x2="588.4" y2="191.8"/>
<line class="d" x1="584.3" y1="254.7" x2="590.3" y2="254.7"/>
<line class="tk" x1="586.2" y1="255.8" x2="588.4" y2="253.6"/>
<line class="d" x1="584.3" y1="275.4" x2="590.3" y2="275.4"/>
<line class="tk" x1="586.2" y1="276.5" x2="588.4" y2="274.3"/>
<line class="d" x1="584.3" y1="288.7" x2="590.3" y2="288.7"/>
<line class="tk" x1="586.2" y1="289.8" x2="588.4" y2="287.6"/>
<line class="d" x1="584.3" y1="312.5" x2="590.3" y2="312.5"/>
<line class="tk" x1="586.2" y1="313.6" x2="588.4" y2="311.4"/>
<text class="t" x="586" y="83.2" text-anchor="middle" transform="rotate(-90 586 83.2)">1230</text>
<text class="t" x="586" y="127.5" text-anchor="middle" transform="rotate(-90 586 127.5)">2400</text>
<text class="t" x="586" y="167.05" text-anchor="middle" transform="rotate(-90 586 167.05)">820</text>
<text class="t" x="586" y="185" text-anchor="middle" transform="rotate(-90 586 185)">650</text>
<text class="t" x="586" y="223.8" text-anchor="middle" transform="rotate(-90 586 223.8)">2550</text>
<text class="t" x="586" y="265.05" text-anchor="middle" transform="rotate(-90 586 265.05)">830</text>
<text class="t" x="586" y="282.05" text-anchor="middle" transform="rotate(-90 586 282.05)">540</text>
<text class="t" x="586" y="300.6" text-anchor="middle" transform="rotate(-90 586 300.6)">970</text>
<text class="t" x="591.7" y="127.5" text-anchor="middle" transform="rotate(-90 591.7 127.5)">2400</text>
<text class="t" x="591.7" y="185" text-anchor="middle" transform="rotate(-90 591.7 185)">2020</text>
<text class="t" x="591.7" y="282.05" text-anchor="middle" transform="rotate(-90 591.7 282.05)">900 (1100)</text>
<line class="d" x1="595.6" y1="66.9" x2="595.6" y2="314"/>
<line class="d" x1="592.6" y1="68.4" x2="598.6" y2="68.4"/>
<line class="tk" x1="594.5" y1="69.5" x2="596.7" y2="67.3"/>
<line class="d" x1="592.6" y1="254.7" x2="598.6" y2="254.7"/>
<line class="tk" x1="594.5" y1="255.8" x2="596.7" y2="253.6"/>
<line class="d" x1="592.6" y1="312.5" x2="598.6" y2="312.5"/>
<line class="tk" x1="594.5" y1="313.6" x2="596.7" y2="311.4"/>
<text class="t" x="594.3" y="161.55" text-anchor="middle" transform="rotate(-90 594.3 161.55)">7650</text>
<text class="t" x="594.3" y="265" text-anchor="middle" transform="rotate(-90 594.3 265)">2360</text>
<line class="d" x1="603.6" y1="66.9" x2="603.6" y2="314"/>
<line class="d" x1="600.6" y1="68.4" x2="606.6" y2="68.4"/>
<line class="tk" x1="602.5" y1="69.5" x2="604.7" y2="67.3"/>
<line class="d" x1="600.6" y1="312.5" x2="606.6" y2="312.5"/>
<line class="tk" x1="602.5" y1="313.6" x2="604.7" y2="311.4"/>
<text class="t" x="602.3" y="190.45" text-anchor="middle" transform="rotate(-90 602.3 190.45)">10010</text>
<line class="d" x1="92.7" y1="91.6" x2="542" y2="91.6"/>
<line class="d" x1="94.2" y1="89.4" x2="94.2" y2="93.8"/>
<line class="tk" x1="93.1" y1="92.7" x2="95.3" y2="90.5"/>
<line class="d" x1="150" y1="89.4" x2="150" y2="93.8"/>
<line class="tk" x1="148.9" y1="92.7" x2="151.1" y2="90.5"/>
<line class="d" x1="191.2" y1="89.4" x2="191.2" y2="93.8"/>
<line class="tk" x1="190.1" y1="92.7" x2="192.3" y2="90.5"/>
<line class="d" x1="213.5" y1="89.4" x2="213.5" y2="93.8"/>
<line class="tk" x1="212.4" y1="92.7" x2="214.6" y2="90.5"/>
<line class="d" x1="219.8" y1="89.4" x2="219.8" y2="93.8"/>
<line class="tk" x1="218.7" y1="92.7" x2="220.9" y2="90.5"/>
<line class="d" x1="245.5" y1="89.4" x2="245.5" y2="93.8"/>
<line class="tk" x1="244.4" y1="92.7" x2="246.6" y2="90.5"/>
<line class="d" x1="271.3" y1="89.4" x2="271.3" y2="93.8"/>
<line class="tk" x1="270.2" y1="92.7" x2="272.4" y2="90.5"/>
<line class="d" x1="281.4" y1="89.4" x2="281.4" y2="93.8"/>
<line class="tk" x1="280.3" y1="92.7" x2="282.5" y2="90.5"/>
<line class="d" x1="286.5" y1="89.4" x2="286.5" y2="93.8"/>
<line class="tk" x1="285.4" y1="92.7" x2="287.6" y2="90.5"/>
<line class="d" x1="314" y1="89.4" x2="314" y2="93.8"/>
<line class="tk" x1="312.9" y1="92.7" x2="315.1" y2="90.5"/>
<line class="d" x1="341.3" y1="89.4" x2="341.3" y2="93.8"/>
<line class="tk" x1="340.2" y1="92.7" x2="342.4" y2="90.5"/>
<line class="d" x1="374.6" y1="89.4" x2="374.6" y2="93.8"/>
<line class="tk" x1="373.5" y1="92.7" x2="375.7" y2="90.5"/>
<line class="d" x1="379.3" y1="89.4" x2="379.3" y2="93.8"/>
<line class="tk" x1="378.2" y1="92.7" x2="380.4" y2="90.5"/>
<line class="d" x1="391.3" y1="89.4" x2="391.3" y2="93.8"/>
<line class="tk" x1="390.2" y1="92.7" x2="392.4" y2="90.5"/>
<line class="d" x1="401.6" y1="89.4" x2="401.6" y2="93.8"/>
<line class="tk" x1="400.5" y1="92.7" x2="402.7" y2="90.5"/>
<line class="d" x1="422.6" y1="89.4" x2="422.6" y2="93.8"/>
<line class="tk" x1="421.5" y1="92.7" x2="423.7" y2="90.5"/>
<line class="d" x1="424.4" y1="89.4" x2="424.4" y2="93.8"/>
<line class="tk" x1="423.3" y1="92.7" x2="425.5" y2="90.5"/>
<line class="d" x1="429.2" y1="89.4" x2="429.2" y2="93.8"/>
<line class="tk" x1="428.1" y1="92.7" x2="430.3" y2="90.5"/>
<line class="d" x1="437.6" y1="89.4" x2="437.6" y2="93.8"/>
<line class="tk" x1="436.5" y1="92.7" x2="438.7" y2="90.5"/>
<line class="d" x1="451.6" y1="89.4" x2="451.6" y2="93.8"/>
<line class="tk" x1="450.5" y1="92.7" x2="452.7" y2="90.5"/>
<line class="d" x1="540.5" y1="89.4" x2="540.5" y2="93.8"/>
<line class="tk" x1="539.4" y1="92.7" x2="541.6" y2="90.5"/>
<text class="t" x="122.1" y="90.3" text-anchor="middle">2280</text>
<text class="t" x="170.6" y="90.3" text-anchor="middle">1730</text>
<text class="t" x="202.35" y="90.3" text-anchor="middle">920</text>
<text class="t" x="232.65" y="90.3" text-anchor="middle">1050</text>
<text class="t" x="258.4" y="90.3" text-anchor="middle">1060</text>
<text class="t" x="276.35" y="90.3" text-anchor="middle">415</text>
<text class="t" x="300.25" y="90.3" text-anchor="middle">1130</text>
<text class="t" x="327.65" y="90.3" text-anchor="middle">1120</text>
<text class="t" x="357.95" y="90.3" text-anchor="middle">1380</text>
<text class="t" x="385.3" y="90.3" text-anchor="middle">470</text>
<text class="t" x="396.45" y="90.3" text-anchor="middle">430</text>
<text class="t" x="412.1" y="90.3" text-anchor="middle">870</text>
<text class="t" x="444.6" y="90.3" text-anchor="middle">580</text>
<text class="t" x="496.05" y="90.3" text-anchor="middle">3690</text>
<line class="d" x1="92.7" y1="118.6" x2="215" y2="118.6"/>
<line class="d" x1="94.2" y1="116.4" x2="94.2" y2="120.8"/>
<line class="tk" x1="93.1" y1="119.7" x2="95.3" y2="117.5"/>
<line class="d" x1="213.5" y1="116.4" x2="213.5" y2="120.8"/>
<line class="tk" x1="212.4" y1="119.7" x2="214.6" y2="117.5"/>
<text class="t" x="153.85" y="117.3" text-anchor="middle">4900</text>
<line class="d" x1="218.3" y1="118.6" x2="282.9" y2="118.6"/>
<line class="d" x1="219.8" y1="116.4" x2="219.8" y2="120.8"/>
<line class="tk" x1="218.7" y1="119.7" x2="220.9" y2="117.5"/>
<line class="d" x1="281.4" y1="116.4" x2="281.4" y2="120.8"/>
<line class="tk" x1="280.3" y1="119.7" x2="282.5" y2="117.5"/>
<text class="t" x="250.6" y="117.3" text-anchor="middle">2530</text>
<line class="d" x1="285" y1="118.6" x2="376.1" y2="118.6"/>
<line class="d" x1="286.5" y1="116.4" x2="286.5" y2="120.8"/>
<line class="tk" x1="285.4" y1="119.7" x2="287.6" y2="117.5"/>
<line class="d" x1="374.6" y1="116.4" x2="374.6" y2="120.8"/>
<line class="tk" x1="373.5" y1="119.7" x2="375.7" y2="117.5"/>
<text class="t" x="330.55" y="117.3" text-anchor="middle">3630</text>
<line class="d" x1="377.8" y1="118.6" x2="425.9" y2="118.6"/>
<line class="d" x1="379.3" y1="116.4" x2="379.3" y2="120.8"/>
<line class="tk" x1="378.2" y1="119.7" x2="380.4" y2="117.5"/>
<line class="d" x1="391.3" y1="116.4" x2="391.3" y2="120.8"/>
<line class="tk" x1="390.2" y1="119.7" x2="392.4" y2="117.5"/>
<line class="d" x1="424.4" y1="116.4" x2="424.4" y2="120.8"/>
<line class="tk" x1="423.3" y1="119.7" x2="425.5" y2="117.5"/>
<text class="t" x="385.3" y="117.3" text-anchor="middle">470</text>
<text class="t" x="407.85" y="117.3" text-anchor="middle">1370</text>
<line class="d" x1="427.7" y1="118.6" x2="551.5" y2="118.6"/>
<line class="d" x1="429.2" y1="116.4" x2="429.2" y2="120.8"/>
<line class="tk" x1="428.1" y1="119.7" x2="430.3" y2="117.5"/>
<line class="d" x1="550" y1="116.4" x2="550" y2="120.8"/>
<line class="tk" x1="548.9" y1="119.7" x2="551.1" y2="117.5"/>
<text class="t" x="489.6" y="117.3" text-anchor="middle">4950</text>
<line class="d" x1="92.7" y1="155.4" x2="215" y2="155.4"/>
<line class="d" x1="94.2" y1="153.2" x2="94.2" y2="157.6"/>
<line class="tk" x1="93.1" y1="156.5" x2="95.3" y2="154.3"/>
<line class="d" x1="140.4" y1="153.2" x2="140.4" y2="157.6"/>
<line class="tk" x1="139.3" y1="156.5" x2="141.5" y2="154.3"/>
<line class="d" x1="172.8" y1="153.2" x2="172.8" y2="157.6"/>
<line class="tk" x1="171.7" y1="156.5" x2="173.9" y2="154.3"/>
<line class="d" x1="213.5" y1="153.2" x2="213.5" y2="157.6"/>
<line class="tk" x1="212.4" y1="156.5" x2="214.6" y2="154.3"/>
<text class="t" x="117.3" y="154.1" text-anchor="middle">1890</text>
<text class="t" x="156.6" y="154.1" text-anchor="middle">1330</text>
<text class="t" x="193.15" y="154.1" text-anchor="middle">1680</text>
<line class="d" x1="218.3" y1="155.4" x2="252.9" y2="155.4"/>
<line class="d" x1="219.8" y1="153.2" x2="219.8" y2="157.6"/>
<line class="tk" x1="218.7" y1="156.5" x2="220.9" y2="154.3"/>
<line class="d" x1="224.6" y1="153.2" x2="224.6" y2="157.6"/>
<line class="tk" x1="223.5" y1="156.5" x2="225.7" y2="154.3"/>
<line class="d" x1="251.4" y1="153.2" x2="251.4" y2="157.6"/>
<line class="tk" x1="250.3" y1="156.5" x2="252.5" y2="154.3"/>
<text class="t" x="238" y="154.1" text-anchor="middle">1100</text>
<line class="d" x1="253.7" y1="155.4" x2="282.9" y2="155.4"/>
<line class="d" x1="255.2" y1="153.2" x2="255.2" y2="157.6"/>
<line class="tk" x1="254.1" y1="156.5" x2="256.3" y2="154.3"/>
<line class="d" x1="281.4" y1="153.2" x2="281.4" y2="157.6"/>
<line class="tk" x1="280.3" y1="156.5" x2="282.5" y2="154.3"/>
<text class="t" x="268.3" y="154.1" text-anchor="middle">1075</text>
<line class="d" x1="285" y1="155.4" x2="376.1" y2="155.4"/>
<line class="d" x1="286.5" y1="153.2" x2="286.5" y2="157.6"/>
<line class="tk" x1="285.4" y1="156.5" x2="287.6" y2="154.3"/>
<line class="d" x1="317" y1="153.2" x2="317" y2="157.6"/>
<line class="tk" x1="315.9" y1="156.5" x2="318.1" y2="154.3"/>
<line class="d" x1="346.6" y1="153.2" x2="346.6" y2="157.6"/>
<line class="tk" x1="345.5" y1="156.5" x2="347.7" y2="154.3"/>
<line class="d" x1="374.6" y1="153.2" x2="374.6" y2="157.6"/>
<line class="tk" x1="373.5" y1="156.5" x2="375.7" y2="154.3"/>
<text class="t" x="301.75" y="154.1" text-anchor="middle">1250</text>
<text class="t" x="331.8" y="154.1" text-anchor="middle">1200</text>
<text class="t" x="360.6" y="154.1" text-anchor="middle">1180</text>
<text class="t" x="331.8" y="159.8" text-anchor="middle">800 (900)</text>
<line class="d" x1="377.8" y1="155.4" x2="425.9" y2="155.4"/>
<line class="d" x1="379.3" y1="153.2" x2="379.3" y2="157.6"/>
<line class="tk" x1="378.2" y1="156.5" x2="380.4" y2="154.3"/>
<line class="d" x1="402.7" y1="153.2" x2="402.7" y2="157.6"/>
<line class="tk" x1="401.6" y1="156.5" x2="403.8" y2="154.3"/>
<line class="d" x1="424.4" y1="153.2" x2="424.4" y2="157.6"/>
<line class="tk" x1="423.3" y1="156.5" x2="425.5" y2="154.3"/>
<text class="t" x="391" y="154.1" text-anchor="middle">350</text>
<text class="t" x="413.55" y="154.1" text-anchor="middle">890</text>
<line class="d" x1="427.7" y1="155.4" x2="542" y2="155.4"/>
<line class="d" x1="429.2" y1="153.2" x2="429.2" y2="157.6"/>
<line class="tk" x1="428.1" y1="156.5" x2="430.3" y2="154.3"/>
<line class="d" x1="437.7" y1="153.2" x2="437.7" y2="157.6"/>
<line class="tk" x1="436.6" y1="156.5" x2="438.8" y2="154.3"/>
<line class="d" x1="458.6" y1="153.2" x2="458.6" y2="157.6"/>
<line class="tk" x1="457.5" y1="156.5" x2="459.7" y2="154.3"/>
<line class="d" x1="540.5" y1="153.2" x2="540.5" y2="157.6"/>
<line class="tk" x1="539.4" y1="156.5" x2="541.6" y2="154.3"/>
<text class="t" x="433.45" y="154.1" text-anchor="middle">350</text>
<text class="t" x="448.15" y="154.1" text-anchor="middle">860</text>
<text class="t" x="499.55" y="154.1" text-anchor="middle">3380</text>
<text class="t" x="448.15" y="159.8" text-anchor="middle">2020</text>
<line class="d" x1="92.7" y1="231.6" x2="214.9" y2="231.6"/>
<line class="d" x1="94.2" y1="229.4" x2="94.2" y2="233.8"/>
<line class="tk" x1="93.1" y1="232.7" x2="95.3" y2="230.5"/>
<line class="d" x1="180.2" y1="229.4" x2="180.2" y2="233.8"/>
<line class="tk" x1="179.1" y1="232.7" x2="181.3" y2="230.5"/>
<line class="d" x1="199" y1="229.4" x2="199" y2="233.8"/>
<line class="tk" x1="197.9" y1="232.7" x2="200.1" y2="230.5"/>
<line class="d" x1="213.4" y1="229.4" x2="213.4" y2="233.8"/>
<line class="tk" x1="212.3" y1="232.7" x2="214.5" y2="230.5"/>
<text class="t" x="137.2" y="230.3" text-anchor="middle">3520</text>
<text class="t" x="189.6" y="230.3" text-anchor="middle">770</text>
<text class="t" x="206.2" y="230.3" text-anchor="middle">590</text>
<text class="t" x="189.6" y="236" text-anchor="middle">2040</text>
<line class="d" x1="218.3" y1="231.6" x2="282.8" y2="231.6"/>
<line class="d" x1="219.8" y1="229.4" x2="219.8" y2="233.8"/>
<line class="tk" x1="218.7" y1="232.7" x2="220.9" y2="230.5"/>
<line class="d" x1="260.6" y1="229.4" x2="260.6" y2="233.8"/>
<line class="tk" x1="259.5" y1="232.7" x2="261.7" y2="230.5"/>
<line class="d" x1="281.3" y1="229.4" x2="281.3" y2="233.8"/>
<line class="tk" x1="280.2" y1="232.7" x2="282.4" y2="230.5"/>
<text class="t" x="240.2" y="230.3" text-anchor="middle">1670</text>
<line class="d" x1="284.8" y1="231.6" x2="376.2" y2="231.6"/>
<line class="d" x1="286.3" y1="229.4" x2="286.3" y2="233.8"/>
<line class="tk" x1="285.2" y1="232.7" x2="287.4" y2="230.5"/>
<line class="d" x1="374.7" y1="229.4" x2="374.7" y2="233.8"/>
<line class="tk" x1="373.6" y1="232.7" x2="375.8" y2="230.5"/>
<text class="t" x="330.5" y="230.3" text-anchor="middle">3630</text>
<line class="d" x1="378" y1="231.6" x2="551.5" y2="231.6"/>
<line class="d" x1="379.5" y1="229.4" x2="379.5" y2="233.8"/>
<line class="tk" x1="378.4" y1="232.7" x2="380.6" y2="230.5"/>
<line class="d" x1="418.3" y1="229.4" x2="418.3" y2="233.8"/>
<line class="tk" x1="417.2" y1="232.7" x2="419.4" y2="230.5"/>
<line class="d" x1="431.4" y1="229.4" x2="431.4" y2="233.8"/>
<line class="tk" x1="430.3" y1="232.7" x2="432.5" y2="230.5"/>
<line class="d" x1="466.6" y1="229.4" x2="466.6" y2="233.8"/>
<line class="tk" x1="465.5" y1="232.7" x2="467.7" y2="230.5"/>
<line class="d" x1="550" y1="229.4" x2="550" y2="233.8"/>
<line class="tk" x1="548.9" y1="232.7" x2="551.1" y2="230.5"/>
<text class="t" x="398.9" y="230.3" text-anchor="middle">1590</text>
<text class="t" x="424.85" y="230.3" text-anchor="middle">540</text>
<text class="t" x="449" y="230.3" text-anchor="middle">1440</text>
<text class="t" x="508.3" y="230.3" text-anchor="middle">3420</text>
<line class="d" x1="218.3" y1="212.6" x2="282.9" y2="212.6"/>
<line class="d" x1="219.8" y1="210.4" x2="219.8" y2="214.8"/>
<line class="tk" x1="218.7" y1="213.7" x2="220.9" y2="211.5"/>
<line class="d" x1="251.6" y1="210.4" x2="251.6" y2="214.8"/>
<line class="tk" x1="250.5" y1="213.7" x2="252.7" y2="211.5"/>
<line class="d" x1="256.6" y1="210.4" x2="256.6" y2="214.8"/>
<line class="tk" x1="255.5" y1="213.7" x2="257.7" y2="211.5"/>
<line class="d" x1="276.2" y1="210.4" x2="276.2" y2="214.8"/>
<line class="tk" x1="275.1" y1="213.7" x2="277.3" y2="211.5"/>
<line class="d" x1="281.4" y1="210.4" x2="281.4" y2="214.8"/>
<line class="tk" x1="280.3" y1="213.7" x2="282.5" y2="211.5"/>
<text class="t" x="235.7" y="211.3" text-anchor="middle">1300</text>
<text class="t" x="266.4" y="211.3" text-anchor="middle">800</text>
<line class="d" x1="378" y1="215.6" x2="464.5" y2="215.6"/>
<line class="d" x1="379.5" y1="213.4" x2="379.5" y2="217.8"/>
<line class="tk" x1="378.4" y1="216.7" x2="380.6" y2="214.5"/>
<line class="d" x1="396.5" y1="213.4" x2="396.5" y2="217.8"/>
<line class="tk" x1="395.4" y1="216.7" x2="397.6" y2="214.5"/>
<line class="d" x1="414.8" y1="213.4" x2="414.8" y2="217.8"/>
<line class="tk" x1="413.7" y1="216.7" x2="415.9" y2="214.5"/>
<line class="d" x1="429" y1="213.4" x2="429" y2="217.8"/>
<line class="tk" x1="427.9" y1="216.7" x2="430.1" y2="214.5"/>
<line class="d" x1="434" y1="213.4" x2="434" y2="217.8"/>
<line class="tk" x1="432.9" y1="216.7" x2="435.1" y2="214.5"/>
<line class="d" x1="455" y1="213.4" x2="455" y2="217.8"/>
<line class="tk" x1="453.9" y1="216.7" x2="456.1" y2="214.5"/>
<line class="d" x1="463" y1="213.4" x2="463" y2="217.8"/>
<line class="tk" x1="461.9" y1="216.7" x2="464.1" y2="214.5"/>
<text class="t" x="388" y="214.3" text-anchor="middle">700</text>
<text class="t" x="405.65" y="214.3" text-anchor="middle">760</text>
<text class="t" x="421.9" y="214.3" text-anchor="middle">580</text>
<text class="t" x="444.5" y="214.3" text-anchor="middle">860</text>
<text class="t" x="405.65" y="220" text-anchor="middle">2070</text>
<line class="d" x1="292.5" y1="223.6" x2="468.1" y2="223.6"/>
<line class="d" x1="294" y1="221.4" x2="294" y2="225.8"/>
<line class="tk" x1="292.9" y1="224.7" x2="295.1" y2="222.5"/>
<line class="d" x1="466.6" y1="221.4" x2="466.6" y2="225.8"/>
<line class="tk" x1="465.5" y1="224.7" x2="467.7" y2="222.5"/>
<text class="t" x="458" y="222.2" text-anchor="middle">6990</text>
<line class="d" x1="427.7" y1="188.8" x2="551.1" y2="188.8"/>
<line class="d" x1="429.2" y1="186.6" x2="429.2" y2="191"/>
<line class="tk" x1="428.1" y1="189.9" x2="430.3" y2="187.7"/>
<line class="d" x1="549.6" y1="186.6" x2="549.6" y2="191"/>
<line class="tk" x1="548.5" y1="189.9" x2="550.7" y2="187.7"/>
<text class="t" x="489.5" y="187.4" text-anchor="middle">4950</text>
<line class="d" x1="239.2" y1="263" x2="367.9" y2="263"/>
<line class="d" x1="240.7" y1="260.8" x2="240.7" y2="265.2"/>
<line class="tk" x1="239.6" y1="264.1" x2="241.8" y2="261.9"/>
<line class="d" x1="255.8" y1="260.8" x2="255.8" y2="265.2"/>
<line class="tk" x1="254.7" y1="264.1" x2="256.9" y2="261.9"/>
<line class="d" x1="280.6" y1="260.8" x2="280.6" y2="265.2"/>
<line class="tk" x1="279.5" y1="264.1" x2="281.7" y2="261.9"/>
<line class="d" x1="366.4" y1="260.8" x2="366.4" y2="265.2"/>
<line class="tk" x1="365.3" y1="264.1" x2="367.5" y2="261.9"/>
<text class="t" x="248.25" y="261.7" text-anchor="middle">625</text>
<text class="t" x="268.2" y="261.7" text-anchor="middle">1020</text>
<text class="t" x="323.5" y="261.7" text-anchor="middle">3490</text>
<text class="t" x="268.2" y="267.4" text-anchor="middle">2020</text>
<line class="d" x1="239.2" y1="283.6" x2="367.9" y2="283.6"/>
<line class="d" x1="240.7" y1="281.4" x2="240.7" y2="285.8"/>
<line class="tk" x1="239.6" y1="284.7" x2="241.8" y2="282.5"/>
<line class="d" x1="366.4" y1="281.4" x2="366.4" y2="285.8"/>
<line class="tk" x1="365.3" y1="284.7" x2="367.5" y2="282.5"/>
<text class="t" x="303.55" y="282.3" text-anchor="middle">5175</text>
<line class="d" x1="239.2" y1="290.8" x2="367.9" y2="290.8"/>
<line class="d" x1="240.7" y1="288.6" x2="240.7" y2="293"/>
<line class="tk" x1="239.6" y1="291.9" x2="241.8" y2="289.7"/>
<line class="d" x1="289.5" y1="288.6" x2="289.5" y2="293"/>
<line class="tk" x1="288.4" y1="291.9" x2="290.6" y2="289.7"/>
<line class="d" x1="337.7" y1="288.6" x2="337.7" y2="293"/>
<line class="tk" x1="336.6" y1="291.9" x2="338.8" y2="289.7"/>
<line class="d" x1="366.4" y1="288.6" x2="366.4" y2="293"/>
<line class="tk" x1="365.3" y1="291.9" x2="367.5" y2="289.7"/>
<text class="t" x="265.1" y="289.5" text-anchor="middle">2000</text>
<text class="t" x="313.6" y="289.5" text-anchor="middle">2000</text>
<text class="t" x="352.05" y="289.5" text-anchor="middle">1175</text>
<line class="d" x1="128.9" y1="270.6" x2="237" y2="270.6"/>
<line class="d" x1="130.4" y1="268.4" x2="130.4" y2="272.8"/>
<line class="tk" x1="129.3" y1="271.7" x2="131.5" y2="269.5"/>
<line class="d" x1="175.5" y1="268.4" x2="175.5" y2="272.8"/>
<line class="tk" x1="174.4" y1="271.7" x2="176.6" y2="269.5"/>
<line class="d" x1="180.4" y1="268.4" x2="180.4" y2="272.8"/>
<line class="tk" x1="179.3" y1="271.7" x2="181.5" y2="269.5"/>
<line class="d" x1="235.5" y1="268.4" x2="235.5" y2="272.8"/>
<line class="tk" x1="234.4" y1="271.7" x2="236.6" y2="269.5"/>
<text class="t" x="152.95" y="269.3" text-anchor="middle">1850</text>
<text class="t" x="207.95" y="269.3" text-anchor="middle">2270</text>
<line class="d" x1="128.9" y1="290.6" x2="237" y2="290.6"/>
<line class="d" x1="130.4" y1="288.4" x2="130.4" y2="292.8"/>
<line class="tk" x1="129.3" y1="291.7" x2="131.5" y2="289.5"/>
<line class="d" x1="158" y1="288.4" x2="158" y2="292.8"/>
<line class="tk" x1="156.9" y1="291.7" x2="159.1" y2="289.5"/>
<line class="d" x1="179" y1="288.4" x2="179" y2="292.8"/>
<line class="tk" x1="177.9" y1="291.7" x2="180.1" y2="289.5"/>
<line class="d" x1="235.5" y1="288.4" x2="235.5" y2="292.8"/>
<line class="tk" x1="234.4" y1="291.7" x2="236.6" y2="289.5"/>
<text class="t" x="144.2" y="289.3" text-anchor="middle">1150</text>
<text class="t" x="168.5" y="289.3" text-anchor="middle">860</text>
<text class="t" x="207.25" y="289.3" text-anchor="middle">2310</text>
<line class="d" x1="83.5" y1="291" x2="118" y2="291"/>
<line class="d" x1="85" y1="288.8" x2="85" y2="293.2"/>
<line class="tk" x1="83.9" y1="292.1" x2="86.1" y2="289.9"/>
<line class="d" x1="116.5" y1="288.8" x2="116.5" y2="293.2"/>
<line class="tk" x1="115.4" y1="292.1" x2="117.6" y2="289.9"/>
<text class="t" x="100.75" y="289.7" text-anchor="middle">1270</text>
<line class="d" x1="100.8" y1="81.1" x2="100.8" y2="179.3"/>
<line class="d" x1="98.6" y1="82.6" x2="103" y2="82.6"/>
<line class="tk" x1="99.7" y1="83.7" x2="101.9" y2="81.5"/>
<line class="d" x1="98.6" y1="94.3" x2="103" y2="94.3"/>
<line class="tk" x1="99.7" y1="95.4" x2="101.9" y2="93.2"/>
<line class="d" x1="98.6" y1="135.8" x2="103" y2="135.8"/>
<line class="tk" x1="99.7" y1="136.9" x2="101.9" y2="134.7"/>
<line class="d" x1="98.6" y1="177.8" x2="103" y2="177.8"/>
<line class="tk" x1="99.7" y1="178.9" x2="101.9" y2="176.7"/>
<text class="t" x="99.5" y="88.45" text-anchor="middle" transform="rotate(-90 99.5 88.45)">500</text>
<text class="t" x="99.5" y="115.05" text-anchor="middle" transform="rotate(-90 99.5 115.05)">1700</text>
<text class="t" x="99.5" y="156.8" text-anchor="middle" transform="rotate(-90 99.5 156.8)">1730</text>
<line class="d" x1="100.8" y1="181.5" x2="100.8" y2="241.9"/>
<line class="d" x1="98.6" y1="183" x2="103" y2="183"/>
<line class="tk" x1="99.7" y1="184.1" x2="101.9" y2="181.9"/>
<line class="d" x1="98.6" y1="185.3" x2="103" y2="185.3"/>
<line class="tk" x1="99.7" y1="186.4" x2="101.9" y2="184.2"/>
<line class="d" x1="98.6" y1="226.8" x2="103" y2="226.8"/>
<line class="tk" x1="99.7" y1="227.9" x2="101.9" y2="225.7"/>
<line class="d" x1="98.6" y1="240.4" x2="103" y2="240.4"/>
<line class="tk" x1="99.7" y1="241.5" x2="101.9" y2="239.3"/>
<text class="t" x="99.5" y="206.05" text-anchor="middle" transform="rotate(-90 99.5 206.05)">1700</text>
<line class="d" x1="137.4" y1="81.1" x2="137.4" y2="179.3"/>
<line class="d" x1="135.2" y1="82.6" x2="139.6" y2="82.6"/>
<line class="tk" x1="136.3" y1="83.7" x2="138.5" y2="81.5"/>
<line class="d" x1="135.2" y1="177.8" x2="139.6" y2="177.8"/>
<line class="tk" x1="136.3" y1="178.9" x2="138.5" y2="176.7"/>
<text class="t" x="136.1" y="130.2" text-anchor="middle" transform="rotate(-90 136.1 130.2)">3630</text>
<line class="d" x1="137.4" y1="181.5" x2="137.4" y2="241.9"/>
<line class="d" x1="135.2" y1="183" x2="139.6" y2="183"/>
<line class="tk" x1="136.3" y1="184.1" x2="138.5" y2="181.9"/>
<line class="d" x1="135.2" y1="240.4" x2="139.6" y2="240.4"/>
<line class="tk" x1="136.3" y1="241.5" x2="138.5" y2="239.3"/>
<text class="t" x="136.1" y="211.7" text-anchor="middle" transform="rotate(-90 136.1 211.7)">2390</text>
<line class="d" x1="184.6" y1="81.1" x2="184.6" y2="179.3"/>
<line class="d" x1="182.4" y1="82.6" x2="186.8" y2="82.6"/>
<line class="tk" x1="183.5" y1="83.7" x2="185.7" y2="81.5"/>
<line class="d" x1="182.4" y1="121" x2="186.8" y2="121"/>
<line class="tk" x1="183.5" y1="122.1" x2="185.7" y2="119.9"/>
<line class="d" x1="182.4" y1="142.2" x2="186.8" y2="142.2"/>
<line class="tk" x1="183.5" y1="143.3" x2="185.7" y2="141.1"/>
<line class="d" x1="182.4" y1="177.8" x2="186.8" y2="177.8"/>
<line class="tk" x1="183.5" y1="178.9" x2="185.7" y2="176.7"/>
<text class="t" x="183.3" y="101.8" text-anchor="middle" transform="rotate(-90 183.3 101.8)">1600</text>
<text class="t" x="183.3" y="131.6" text-anchor="middle" transform="rotate(-90 183.3 131.6)">810</text>
<text class="t" x="183.3" y="160" text-anchor="middle" transform="rotate(-90 183.3 160)">1480</text>
<text class="t" x="189" y="131.6" text-anchor="middle" transform="rotate(-90 189 131.6)">2070</text>
<line class="d" x1="201" y1="181.5" x2="201" y2="242.1"/>
<line class="d" x1="198.8" y1="183" x2="203.2" y2="183"/>
<line class="tk" x1="199.9" y1="184.1" x2="202.1" y2="181.9"/>
<line class="d" x1="198.8" y1="202.2" x2="203.2" y2="202.2"/>
<line class="tk" x1="199.9" y1="203.3" x2="202.1" y2="201.1"/>
<line class="d" x1="198.8" y1="240.6" x2="203.2" y2="240.6"/>
<line class="tk" x1="199.9" y1="241.7" x2="202.1" y2="239.5"/>
<text class="t" x="199.7" y="192.6" text-anchor="middle" transform="rotate(-90 199.7 192.6)">800</text>
<text class="t" x="199.7" y="221.4" text-anchor="middle" transform="rotate(-90 199.7 221.4)">1580</text>
<text class="t" x="205.4" y="192.6" text-anchor="middle" transform="rotate(-90 205.4 192.6)">2070</text>
<line class="d" x1="246" y1="81.1" x2="246" y2="136.9"/>
<line class="d" x1="243.8" y1="82.6" x2="248.2" y2="82.6"/>
<line class="tk" x1="244.9" y1="83.7" x2="247.1" y2="81.5"/>
<line class="d" x1="243.8" y1="135.4" x2="248.2" y2="135.4"/>
<line class="tk" x1="244.9" y1="136.5" x2="247.1" y2="134.3"/>
<text class="t" x="244.7" y="109" text-anchor="middle" transform="rotate(-90 244.7 109)">2030</text>
<line class="d" x1="238.4" y1="146.7" x2="238.4" y2="198.7"/>
<line class="d" x1="236.2" y1="148.2" x2="240.6" y2="148.2"/>
<line class="tk" x1="237.3" y1="149.3" x2="239.5" y2="147.1"/>
<line class="d" x1="236.2" y1="163.2" x2="240.6" y2="163.2"/>
<line class="tk" x1="237.3" y1="164.3" x2="239.5" y2="162.1"/>
<line class="d" x1="236.2" y1="178.4" x2="240.6" y2="178.4"/>
<line class="tk" x1="237.3" y1="179.5" x2="239.5" y2="177.3"/>
<line class="d" x1="236.2" y1="197.2" x2="240.6" y2="197.2"/>
<line class="tk" x1="237.3" y1="198.3" x2="239.5" y2="196.1"/>
<text class="t" x="237.1" y="170.8" text-anchor="middle" transform="rotate(-90 237.1 170.8)">800</text>
<line class="d" x1="246" y1="181.5" x2="246" y2="242.3"/>
<line class="d" x1="243.8" y1="183" x2="248.2" y2="183"/>
<line class="tk" x1="244.9" y1="184.1" x2="247.1" y2="181.9"/>
<line class="d" x1="243.8" y1="240.8" x2="248.2" y2="240.8"/>
<line class="tk" x1="244.9" y1="241.9" x2="247.1" y2="239.7"/>
<text class="t" x="244.7" y="211.9" text-anchor="middle" transform="rotate(-90 244.7 211.9)">2390</text>
<line class="d" x1="304.6" y1="91.9" x2="304.6" y2="165.5"/>
<line class="d" x1="302.4" y1="93.4" x2="306.8" y2="93.4"/>
<line class="tk" x1="303.5" y1="94.5" x2="305.7" y2="92.3"/>
<line class="d" x1="302.4" y1="113.2" x2="306.8" y2="113.2"/>
<line class="tk" x1="303.5" y1="114.3" x2="305.7" y2="112.1"/>
<line class="d" x1="302.4" y1="164" x2="306.8" y2="164"/>
<line class="tk" x1="303.5" y1="165.1" x2="305.7" y2="162.9"/>
<text class="t" x="303.3" y="138.6" text-anchor="middle" transform="rotate(-90 303.3 138.6)">2475</text>
<line class="d" x1="344.8" y1="81.1" x2="344.8" y2="165.5"/>
<line class="d" x1="342.6" y1="82.6" x2="347" y2="82.6"/>
<line class="tk" x1="343.7" y1="83.7" x2="345.9" y2="81.5"/>
<line class="d" x1="342.6" y1="164" x2="347" y2="164"/>
<line class="tk" x1="343.7" y1="165.1" x2="345.9" y2="162.9"/>
<text class="t" x="343.5" y="123.3" text-anchor="middle" transform="rotate(-90 343.5 123.3)">3350</text>
<line class="d" x1="293.4" y1="167.1" x2="293.4" y2="242.3"/>
<line class="d" x1="291.2" y1="168.6" x2="295.6" y2="168.6"/>
<line class="tk" x1="292.3" y1="169.7" x2="294.5" y2="167.5"/>
<line class="d" x1="291.2" y1="211.6" x2="295.6" y2="211.6"/>
<line class="tk" x1="292.3" y1="212.7" x2="294.5" y2="210.5"/>
<line class="d" x1="291.2" y1="232.4" x2="295.6" y2="232.4"/>
<line class="tk" x1="292.3" y1="233.5" x2="294.5" y2="231.3"/>
<line class="d" x1="291.2" y1="240.8" x2="295.6" y2="240.8"/>
<line class="tk" x1="292.3" y1="241.9" x2="294.5" y2="239.7"/>
<text class="t" x="292.1" y="190.1" text-anchor="middle" transform="rotate(-90 292.1 190.1)">2170</text>
<text class="t" x="292.1" y="236.6" text-anchor="middle" transform="rotate(-90 292.1 236.6)">790</text>
<line class="d" x1="344.8" y1="167.1" x2="344.8" y2="242.3"/>
<line class="d" x1="342.6" y1="168.6" x2="347" y2="168.6"/>
<line class="tk" x1="343.7" y1="169.7" x2="345.9" y2="167.5"/>
<line class="d" x1="342.6" y1="240.8" x2="347" y2="240.8"/>
<line class="tk" x1="343.7" y1="241.9" x2="345.9" y2="239.7"/>
<text class="t" x="343.5" y="204.7" text-anchor="middle" transform="rotate(-90 343.5 204.7)">2960</text>
<line class="d" x1="357.4" y1="167.1" x2="357.4" y2="242.3"/>
<line class="d" x1="355.2" y1="168.6" x2="359.6" y2="168.6"/>
<line class="tk" x1="356.3" y1="169.7" x2="358.5" y2="167.5"/>
<line class="d" x1="355.2" y1="214" x2="359.6" y2="214"/>
<line class="tk" x1="356.3" y1="215.1" x2="358.5" y2="212.9"/>
<line class="d" x1="355.2" y1="234.3" x2="359.6" y2="234.3"/>
<line class="tk" x1="356.3" y1="235.4" x2="358.5" y2="233.2"/>
<line class="d" x1="355.2" y1="240.8" x2="359.6" y2="240.8"/>
<line class="tk" x1="356.3" y1="241.9" x2="358.5" y2="239.7"/>
<text class="t" x="356.1" y="191.3" text-anchor="middle" transform="rotate(-90 356.1 191.3)">2290</text>
<text class="t" x="356.1" y="237.55" text-anchor="middle" transform="rotate(-90 356.1 237.55)">680</text>
<line class="d" x1="525" y1="81.1" x2="525" y2="167.9"/>
<line class="d" x1="522.8" y1="82.6" x2="527.2" y2="82.6"/>
<line class="tk" x1="523.9" y1="83.7" x2="526.1" y2="81.5"/>
<line class="d" x1="522.8" y1="166.4" x2="527.2" y2="166.4"/>
<line class="tk" x1="523.9" y1="167.5" x2="526.1" y2="165.3"/>
<text class="t" x="523.7" y="124.5" text-anchor="middle" transform="rotate(-90 523.7 124.5)">3450</text>
<line class="d" x1="532.8" y1="96.5" x2="532.8" y2="158.5"/>
<line class="d" x1="530.6" y1="98" x2="535" y2="98"/>
<line class="tk" x1="531.7" y1="99.1" x2="533.9" y2="96.9"/>
<line class="d" x1="530.6" y1="157" x2="535" y2="157"/>
<line class="tk" x1="531.7" y1="158.1" x2="533.9" y2="155.9"/>
<text class="t" x="531.5" y="127.5" text-anchor="middle" transform="rotate(-90 531.5 127.5)">2400</text>
<line class="d" x1="525" y1="172.5" x2="525" y2="242.5"/>
<line class="d" x1="522.8" y1="174" x2="527.2" y2="174"/>
<line class="tk" x1="523.9" y1="175.1" x2="526.1" y2="172.9"/>
<line class="d" x1="522.8" y1="241" x2="527.2" y2="241"/>
<line class="tk" x1="523.9" y1="242.1" x2="526.1" y2="239.9"/>
<text class="t" x="523.7" y="207.5" text-anchor="middle" transform="rotate(-90 523.7 207.5)">2760</text>
<line class="d" x1="437.6" y1="172.5" x2="437.6" y2="242.5"/>
<line class="d" x1="435.4" y1="174" x2="439.8" y2="174"/>
<line class="tk" x1="436.5" y1="175.1" x2="438.7" y2="172.9"/>
<line class="d" x1="435.4" y1="194" x2="439.8" y2="194"/>
<line class="tk" x1="436.5" y1="195.1" x2="438.7" y2="192.9"/>
<line class="d" x1="435.4" y1="241" x2="439.8" y2="241"/>
<line class="tk" x1="436.5" y1="242.1" x2="438.7" y2="239.9"/>
<text class="t" x="436.3" y="184" text-anchor="middle" transform="rotate(-90 436.3 184)">850</text>
<text class="t" x="436.3" y="217.5" text-anchor="middle" transform="rotate(-90 436.3 217.5)">1910</text>
<line class="d" x1="248.4" y1="250.3" x2="248.4" y2="299.7"/>
<line class="d" x1="246.2" y1="251.8" x2="250.6" y2="251.8"/>
<line class="tk" x1="247.3" y1="252.9" x2="249.5" y2="250.7"/>
<line class="d" x1="246.2" y1="298.2" x2="250.6" y2="298.2"/>
<line class="tk" x1="247.3" y1="299.3" x2="249.5" y2="297.1"/>
<text class="t" x="247.1" y="275" text-anchor="middle" transform="rotate(-90 247.1 275)">1910</text>
<line class="d" x1="349.6" y1="250.3" x2="349.6" y2="299.7"/>
<line class="d" x1="347.4" y1="251.8" x2="351.8" y2="251.8"/>
<line class="tk" x1="348.5" y1="252.9" x2="350.7" y2="250.7"/>
<line class="d" x1="347.4" y1="298.2" x2="351.8" y2="298.2"/>
<line class="tk" x1="348.5" y1="299.3" x2="350.7" y2="297.1"/>
<text class="t" x="348.3" y="275" text-anchor="middle" transform="rotate(-90 348.3 275)">1910</text>
<line class="d" x1="140" y1="250.5" x2="140" y2="299.5"/>
<line class="d" x1="137.8" y1="252" x2="142.2" y2="252"/>
<line class="tk" x1="138.9" y1="253.1" x2="141.1" y2="250.9"/>
<line class="d" x1="137.8" y1="298" x2="142.2" y2="298"/>
<line class="tk" x1="138.9" y1="299.1" x2="141.1" y2="296.9"/>
<text class="t" x="138.7" y="275" text-anchor="middle" transform="rotate(-90 138.7 275)">1910</text>
<line class="d" x1="166.6" y1="250.5" x2="166.6" y2="299.5"/>
<line class="d" x1="164.4" y1="252" x2="168.8" y2="252"/>
<line class="tk" x1="165.5" y1="253.1" x2="167.7" y2="250.9"/>
<line class="d" x1="164.4" y1="276" x2="168.8" y2="276"/>
<line class="tk" x1="165.5" y1="277.1" x2="167.7" y2="274.9"/>
<line class="d" x1="164.4" y1="298" x2="168.8" y2="298"/>
<line class="tk" x1="165.5" y1="299.1" x2="167.7" y2="296.9"/>
<text class="t" x="165.3" y="264" text-anchor="middle" transform="rotate(-90 165.3 264)">960</text>
<text class="t" x="165.3" y="287" text-anchor="middle" transform="rotate(-90 165.3 287)">950</text>
<line class="d" x1="101.6" y1="253.3" x2="101.6" y2="306.8"/>
<line class="d" x1="99.4" y1="254.8" x2="103.8" y2="254.8"/>
<line class="tk" x1="100.5" y1="255.9" x2="102.7" y2="253.7"/>
<line class="d" x1="99.4" y1="305.3" x2="103.8" y2="305.3"/>
<line class="tk" x1="100.5" y1="306.4" x2="102.7" y2="304.2"/>
<text class="t" x="100.3" y="280.05" text-anchor="middle" transform="rotate(-90 100.3 280.05)">2060</text>
<line class="d" x1="377.6" y1="250.5" x2="377.6" y2="299.7"/>
<line class="d" x1="375.4" y1="252" x2="379.8" y2="252"/>
<line class="tk" x1="376.5" y1="253.1" x2="378.7" y2="250.9"/>
<line class="d" x1="375.4" y1="275.4" x2="379.8" y2="275.4"/>
<line class="tk" x1="376.5" y1="276.5" x2="378.7" y2="274.3"/>
<line class="d" x1="375.4" y1="293.8" x2="379.8" y2="293.8"/>
<line class="tk" x1="376.5" y1="294.9" x2="378.7" y2="292.7"/>
<line class="d" x1="375.4" y1="298.2" x2="379.8" y2="298.2"/>
<line class="tk" x1="376.5" y1="299.3" x2="378.7" y2="297.1"/>
<text class="t" x="376.3" y="263.7" text-anchor="middle" transform="rotate(-90 376.3 263.7)">1360</text>
<polygon class="wf" points="80.2,68.3 150,68.3 150,82.6 94.2,82.6 94.2,94.3 80.2,94.3"/>
<polygon class="wf" points="191.2,68.3 245.5,68.3 245.5,82.6 191.2,82.6"/>
<polygon class="wf" points="271.3,68.3 313.9,68.3 313.9,82.6 271.3,82.6"/>
<polygon class="wf" points="341.3,68.3 391.3,68.3 391.3,82.6 341.3,82.6"/>
<polygon class="wf" points="422.6,68.3 437.6,68.3 437.6,82.6 422.6,82.6"/>
<polygon class="wf" points="451.6,68.3 564.1,68.3 564.1,98 550.4,98 550.4,88 540.5,88 540.5,82.6 451.6,82.6"/>
<polygon class="wf" points="549.6,157.1 564.1,157.1 564.1,177.1 549.6,177.1"/>
<polygon class="wf" points="549.6,192.9 564.1,192.9 564.1,254.7 431.4,254.7 431.4,241.1 549.6,241.1"/>
<polygon class="wf" points="80.2,135.8 94.2,135.8 94.2,185.3 80.2,185.3"/>
<polygon class="wf" points="80.2,226.8 94.4,226.8 94.4,240.4 180.4,240.4 180.4,252 130.4,252 130.4,298.2 157.9,298.2 157.9,312.4 116.6,312.4 116.6,254.8 80.2,254.8"/>
<polygon class="wf" points="198.9,240.8 260.7,240.8 260.7,251.8 198.9,251.8"/>
<polygon class="wf" points="281.3,240.8 418.3,240.8 418.3,253.8 412.2,253.8 412.2,275.4 398.6,275.4 398.6,251.8 281.3,251.8"/>
<polygon class="wf" points="179,298.2 289.5,298.2 289.5,312.4 179,312.4"/>
<polygon class="wf" points="337.7,298.2 398.6,298.2 398.6,288.7 412.2,288.7 412.2,312.4 337.7,312.4"/>
<clipPath id="cx1"><polygon points="80.2,68.3 150,68.3 150,82.6 94.2,82.6 94.2,94.3 80.2,94.3"/><polygon points="191.2,68.3 245.5,68.3 245.5,82.6 191.2,82.6"/><polygon points="271.3,68.3 313.9,68.3 313.9,82.6 271.3,82.6"/><polygon points="341.3,68.3 391.3,68.3 391.3,82.6 341.3,82.6"/><polygon points="422.6,68.3 437.6,68.3 437.6,82.6 422.6,82.6"/><polygon points="451.6,68.3 564.1,68.3 564.1,98 550.4,98 550.4,88 540.5,88 540.5,82.6 451.6,82.6"/><polygon points="549.6,157.1 564.1,157.1 564.1,177.1 549.6,177.1"/><polygon points="549.6,192.9 564.1,192.9 564.1,254.7 431.4,254.7 431.4,241.1 549.6,241.1"/><polygon points="80.2,135.8 94.2,135.8 94.2,185.3 80.2,185.3"/><polygon points="80.2,226.8 94.4,226.8 94.4,240.4 180.4,240.4 180.4,252 130.4,252 130.4,298.2 157.9,298.2 157.9,312.4 116.6,312.4 116.6,254.8 80.2,254.8"/><polygon points="198.9,240.8 260.7,240.8 260.7,251.8 198.9,251.8"/><polygon points="281.3,240.8 418.3,240.8 418.3,253.8 412.2,253.8 412.2,275.4 398.6,275.4 398.6,251.8 281.3,251.8"/><polygon points="179,298.2 289.5,298.2 289.5,312.4 179,312.4"/><polygon points="337.7,298.2 398.6,298.2 398.6,288.7 412.2,288.7 412.2,312.4 337.7,312.4"/></clipPath>
<path class="hx" clip-path="url(#cx1)" d="M-170.25 66L78.75 315M-164.75 66L84.25 315M-159.25 66L89.75 315M-153.75 66L95.25 315M-148.25 66L100.75 315M-142.75 66L106.25 315M-137.25 66L111.75 315M-131.75 66L117.25 315M-126.25 66L122.75 315M-120.75 66L128.25 315M-115.25 66L133.75 315M-109.75 66L139.25 315M-104.25 66L144.75 315M-98.75 66L150.25 315M-93.25 66L155.75 315M-87.75 66L161.25 315M-82.25 66L166.75 315M-76.75 66L172.25 315M-71.25 66L177.75 315M-65.75 66L183.25 315M-60.25 66L188.75 315M-54.75 66L194.25 315M-49.25 66L199.75 315M-43.75 66L205.25 315M-38.25 66L210.75 315M-32.75 66L216.25 315M-27.25 66L221.75 315M-21.75 66L227.25 315M-16.25 66L232.75 315M-10.75 66L238.25 315M-5.25 66L243.75 315M0.25 66L249.25 315M5.75 66L254.75 315M11.25 66L260.25 315M16.75 66L265.75 315M22.25 66L271.25 315M27.75 66L276.75 315M33.25 66L282.25 315M38.75 66L287.75 315M44.25 66L293.25 315M49.75 66L298.75 315M55.25 66L304.25 315M60.75 66L309.75 315M66.25 66L315.25 315M71.75 66L320.75 315M77.25 66L326.25 315M82.75 66L331.75 315M88.25 66L337.25 315M93.75 66L342.75 315M99.25 66L348.25 315M104.75 66L353.75 315M110.25 66L359.25 315M115.75 66L364.75 315M121.25 66L370.25 315M126.75 66L375.75 315M132.25 66L381.25 315M137.75 66L386.75 315M143.25 66L392.25 315M148.75 66L397.75 315M154.25 66L403.25 315M159.75 66L408.75 315M165.25 66L414.25 315M170.75 66L419.75 315M176.25 66L425.25 315M181.75 66L430.75 315M187.25 66L436.25 315M192.75 66L441.75 315M198.25 66L447.25 315M203.75 66L452.75 315M209.25 66L458.25 315M214.75 66L463.75 315M220.25 66L469.25 315M225.75 66L474.75 315M231.25 66L480.25 315M236.75 66L485.75 315M242.25 66L491.25 315M247.75 66L496.75 315M253.25 66L502.25 315M258.75 66L507.75 315M264.25 66L513.25 315M269.75 66L518.75 315M275.25 66L524.25 315M280.75 66L529.75 315M286.25 66L535.25 315M291.75 66L540.75 315M297.25 66L546.25 315M302.75 66L551.75 315M308.25 66L557.25 315M313.75 66L562.75 315M319.25 66L568.25 315M324.75 66L573.75 315M330.25 66L579.25 315M335.75 66L584.75 315M341.25 66L590.25 315M346.75 66L595.75 315M352.25 66L601.25 315M357.75 66L606.75 315M363.25 66L612.25 315M368.75 66L617.75 315M374.25 66L623.25 315M379.75 66L628.75 315M385.25 66L634.25 315M390.75 66L639.75 315M396.25 66L645.25 315M401.75 66L650.75 315M407.25 66L656.25 315M412.75 66L661.75 315M418.25 66L667.25 315M423.75 66L672.75 315M429.25 66L678.25 315M434.75 66L683.75 315M440.25 66L689.25 315M445.75 66L694.75 315M451.25 66L700.25 315M456.75 66L705.75 315M462.25 66L711.25 315M467.75 66L716.75 315M473.25 66L722.25 315M478.75 66L727.75 315M484.25 66L733.25 315M489.75 66L738.75 315M495.25 66L744.25 315M500.75 66L749.75 315M506.25 66L755.25 315M511.75 66L760.75 315M517.25 66L766.25 315M522.75 66L771.75 315M528.25 66L777.25 315M533.75 66L782.75 315M539.25 66L788.25 315M544.75 66L793.75 315M550.25 66L799.25 315M555.75 66L804.75 315M561.25 66L810.25 315M82.75 66L-166.25 315M88.25 66L-160.75 315M93.75 66L-155.25 315M99.25 66L-149.75 315M104.75 66L-144.25 315M110.25 66L-138.75 315M115.75 66L-133.25 315M121.25 66L-127.75 315M126.75 66L-122.25 315M132.25 66L-116.75 315M137.75 66L-111.25 315M143.25 66L-105.75 315M148.75 66L-100.25 315M154.25 66L-94.75 315M159.75 66L-89.25 315M165.25 66L-83.75 315M170.75 66L-78.25 315M176.25 66L-72.75 315M181.75 66L-67.25 315M187.25 66L-61.75 315M192.75 66L-56.25 315M198.25 66L-50.75 315M203.75 66L-45.25 315M209.25 66L-39.75 315M214.75 66L-34.25 315M220.25 66L-28.75 315M225.75 66L-23.25 315M231.25 66L-17.75 315M236.75 66L-12.25 315M242.25 66L-6.75 315M247.75 66L-1.25 315M253.25 66L4.25 315M258.75 66L9.75 315M264.25 66L15.25 315M269.75 66L20.75 315M275.25 66L26.25 315M280.75 66L31.75 315M286.25 66L37.25 315M291.75 66L42.75 315M297.25 66L48.25 315M302.75 66L53.75 315M308.25 66L59.25 315M313.75 66L64.75 315M319.25 66L70.25 315M324.75 66L75.75 315M330.25 66L81.25 315M335.75 66L86.75 315M341.25 66L92.25 315M346.75 66L97.75 315M352.25 66L103.25 315M357.75 66L108.75 315M363.25 66L114.25 315M368.75 66L119.75 315M374.25 66L125.25 315M379.75 66L130.75 315M385.25 66L136.25 315M390.75 66L141.75 315M396.25 66L147.25 315M401.75 66L152.75 315M407.25 66L158.25 315M412.75 66L163.75 315M418.25 66L169.25 315M423.75 66L174.75 315M429.25 66L180.25 315M434.75 66L185.75 315M440.25 66L191.25 315M445.75 66L196.75 315M451.25 66L202.25 315M456.75 66L207.75 315M462.25 66L213.25 315M467.75 66L218.75 315M473.25 66L224.25 315M478.75 66L229.75 315M484.25 66L235.25 315M489.75 66L240.75 315M495.25 66L246.25 315M500.75 66L251.75 315M506.25 66L257.25 315M511.75 66L262.75 315M517.25 66L268.25 315M522.75 66L273.75 315M528.25 66L279.25 315M533.75 66L284.75 315M539.25 66L290.25 315M544.75 66L295.75 315M550.25 66L301.25 315M555.75 66L306.75 315M561.25 66L312.25 315M566.75 66L317.75 315M572.25 66L323.25 315M577.75 66L328.75 315M583.25 66L334.25 315M588.75 66L339.75 315M594.25 66L345.25 315M599.75 66L350.75 315M605.25 66L356.25 315M610.75 66L361.75 315M616.25 66L367.25 315M621.75 66L372.75 315M627.25 66L378.25 315M632.75 66L383.75 315M638.25 66L389.25 315M643.75 66L394.75 315M649.25 66L400.25 315M654.75 66L405.75 315M660.25 66L411.25 315M665.75 66L416.75 315M671.25 66L422.25 315M676.75 66L427.75 315M682.25 66L433.25 315M687.75 66L438.75 315M693.25 66L444.25 315M698.75 66L449.75 315M704.25 66L455.25 315M709.75 66L460.75 315M715.25 66L466.25 315M720.75 66L471.75 315M726.25 66L477.25 315M731.75 66L482.75 315M737.25 66L488.25 315M742.75 66L493.75 315M748.25 66L499.25 315M753.75 66L504.75 315M759.25 66L510.25 315M764.75 66L515.75 315M770.25 66L521.25 315M775.75 66L526.75 315M781.25 66L532.25 315M786.75 66L537.75 315M792.25 66L543.25 315M797.75 66L548.75 315M803.25 66L554.25 315M808.75 66L559.75 315M814.25 66L565.25 315"/>
<mask id="mi1" maskUnits="userSpaceOnUse" x="78" y="66" width="488" height="249">
<polyline class="mk" points="81.7,94.3 81.7,69.8 150,69.8"/>
<polyline class="mk" points="191.2,69.8 245.5,69.8"/>
<polyline class="mk" points="271.3,69.8 313.9,69.8"/>
<polyline class="mk" points="341.3,69.8 391.3,69.8"/>
<polyline class="mk" points="422.6,69.8 437.6,69.8"/>
<polyline class="mk" points="451.6,69.8 562.6,69.8 562.6,98"/>
<polyline class="mk" points="562.6,157.1 562.6,177.1"/>
<polyline class="mk" points="562.6,192.9 562.6,253.2 431.4,253.2"/>
<polyline class="mk" points="81.7,135.8 81.7,185.3"/>
<polyline class="mk" points="81.7,226.8 81.7,253.3 118.1,253.3 118.1,310.9 157.9,310.9"/>
<polyline class="mk" points="179,310.9 289.5,310.9"/>
<polyline class="mk" points="337.7,310.9 410.7,310.9 410.7,288.7"/>
<polyline class="mk" points="410.7,275.4 410.7,252.3 418.3,252.3"/>
</mask>
<g mask="url(#mi1)"><rect x="78" y="66" width="488" height="249" fill="#fff"/><path class="he" d="M-170 66L79 315M-168 66L81 315M-166 66L83 315M-164 66L85 315M-162 66L87 315M-160 66L89 315M-158 66L91 315M-156 66L93 315M-154 66L95 315M-152 66L97 315M-150 66L99 315M-148 66L101 315M-146 66L103 315M-144 66L105 315M-142 66L107 315M-140 66L109 315M-138 66L111 315M-136 66L113 315M-134 66L115 315M-132 66L117 315M-130 66L119 315M-128 66L121 315M-126 66L123 315M-124 66L125 315M-122 66L127 315M-120 66L129 315M-118 66L131 315M-116 66L133 315M-114 66L135 315M-112 66L137 315M-110 66L139 315M-108 66L141 315M-106 66L143 315M-104 66L145 315M-102 66L147 315M-100 66L149 315M-98 66L151 315M-96 66L153 315M-94 66L155 315M-92 66L157 315M-90 66L159 315M-88 66L161 315M-86 66L163 315M-84 66L165 315M-82 66L167 315M-80 66L169 315M-78 66L171 315M-76 66L173 315M-74 66L175 315M-72 66L177 315M-70 66L179 315M-68 66L181 315M-66 66L183 315M-64 66L185 315M-62 66L187 315M-60 66L189 315M-58 66L191 315M-56 66L193 315M-54 66L195 315M-52 66L197 315M-50 66L199 315M-48 66L201 315M-46 66L203 315M-44 66L205 315M-42 66L207 315M-40 66L209 315M-38 66L211 315M-36 66L213 315M-34 66L215 315M-32 66L217 315M-30 66L219 315M-28 66L221 315M-26 66L223 315M-24 66L225 315M-22 66L227 315M-20 66L229 315M-18 66L231 315M-16 66L233 315M-14 66L235 315M-12 66L237 315M-10 66L239 315M-8 66L241 315M-6 66L243 315M-4 66L245 315M-2 66L247 315M0 66L249 315M2 66L251 315M4 66L253 315M6 66L255 315M8 66L257 315M10 66L259 315M12 66L261 315M14 66L263 315M16 66L265 315M18 66L267 315M20 66L269 315M22 66L271 315M24 66L273 315M26 66L275 315M28 66L277 315M30 66L279 315M32 66L281 315M34 66L283 315M36 66L285 315M38 66L287 315M40 66L289 315M42 66L291 315M44 66L293 315M46 66L295 315M48 66L297 315M50 66L299 315M52 66L301 315M54 66L303 315M56 66L305 315M58 66L307 315M60 66L309 315M62 66L311 315M64 66L313 315M66 66L315 315M68 66L317 315M70 66L319 315M72 66L321 315M74 66L323 315M76 66L325 315M78 66L327 315M80 66L329 315M82 66L331 315M84 66L333 315M86 66L335 315M88 66L337 315M90 66L339 315M92 66L341 315M94 66L343 315M96 66L345 315M98 66L347 315M100 66L349 315M102 66L351 315M104 66L353 315M106 66L355 315M108 66L357 315M110 66L359 315M112 66L361 315M114 66L363 315M116 66L365 315M118 66L367 315M120 66L369 315M122 66L371 315M124 66L373 315M126 66L375 315M128 66L377 315M130 66L379 315M132 66L381 315M134 66L383 315M136 66L385 315M138 66L387 315M140 66L389 315M142 66L391 315M144 66L393 315M146 66L395 315M148 66L397 315M150 66L399 315M152 66L401 315M154 66L403 315M156 66L405 315M158 66L407 315M160 66L409 315M162 66L411 315M164 66L413 315M166 66L415 315M168 66L417 315M170 66L419 315M172 66L421 315M174 66L423 315M176 66L425 315M178 66L427 315M180 66L429 315M182 66L431 315M184 66L433 315M186 66L435 315M188 66L437 315M190 66L439 315M192 66L441 315M194 66L443 315M196 66L445 315M198 66L447 315M200 66L449 315M202 66L451 315M204 66L453 315M206 66L455 315M208 66L457 315M210 66L459 315M212 66L461 315M214 66L463 315M216 66L465 315M218 66L467 315M220 66L469 315M222 66L471 315M224 66L473 315M226 66L475 315M228 66L477 315M230 66L479 315M232 66L481 315M234 66L483 315M236 66L485 315M238 66L487 315M240 66L489 315M242 66L491 315M244 66L493 315M246 66L495 315M248 66L497 315M250 66L499 315M252 66L501 315M254 66L503 315M256 66L505 315M258 66L507 315M260 66L509 315M262 66L511 315M264 66L513 315M266 66L515 315M268 66L517 315M270 66L519 315M272 66L521 315M274 66L523 315M276 66L525 315M278 66L527 315M280 66L529 315M282 66L531 315M284 66L533 315M286 66L535 315M288 66L537 315M290 66L539 315M292 66L541 315M294 66L543 315M296 66L545 315M298 66L547 315M300 66L549 315M302 66L551 315M304 66L553 315M306 66L555 315M308 66L557 315M310 66L559 315M312 66L561 315M314 66L563 315M316 66L565 315M318 66L567 315M320 66L569 315M322 66L571 315M324 66L573 315M326 66L575 315M328 66L577 315M330 66L579 315M332 66L581 315M334 66L583 315M336 66L585 315M338 66L587 315M340 66L589 315M342 66L591 315M344 66L593 315M346 66L595 315M348 66L597 315M350 66L599 315M352 66L601 315M354 66L603 315M356 66L605 315M358 66L607 315M360 66L609 315M362 66L611 315M364 66L613 315M366 66L615 315M368 66L617 315M370 66L619 315M372 66L621 315M374 66L623 315M376 66L625 315M378 66L627 315M380 66L629 315M382 66L631 315M384 66L633 315M386 66L635 315M388 66L637 315M390 66L639 315M392 66L641 315M394 66L643 315M396 66L645 315M398 66L647 315M400 66L649 315M402 66L651 315M404 66L653 315M406 66L655 315M408 66L657 315M410 66L659 315M412 66L661 315M414 66L663 315M416 66L665 315M418 66L667 315M420 66L669 315M422 66L671 315M424 66L673 315M426 66L675 315M428 66L677 315M430 66L679 315M432 66L681 315M434 66L683 315M436 66L685 315M438 66L687 315M440 66L689 315M442 66L691 315M444 66L693 315M446 66L695 315M448 66L697 315M450 66L699 315M452 66L701 315M454 66L703 315M456 66L705 315M458 66L707 315M460 66L709 315M462 66L711 315M464 66L713 315M466 66L715 315M468 66L717 315M470 66L719 315M472 66L721 315M474 66L723 315M476 66L725 315M478 66L727 315M480 66L729 315M482 66L731 315M484 66L733 315M486 66L735 315M488 66L737 315M490 66L739 315M492 66L741 315M494 66L743 315M496 66L745 315M498 66L747 315M500 66L749 315M502 66L751 315M504 66L753 315M506 66L755 315M508 66L757 315M510 66L759 315M512 66L761 315M514 66L763 315M516 66L765 315M518 66L767 315M520 66L769 315M522 66L771 315M524 66L773 315M526 66L775 315M528 66L777 315M530 66L779 315M532 66L781 315M534 66L783 315M536 66L785 315M538 66L787 315M540 66L789 315M542 66L791 315M544 66L793 315M546 66L795 315M548 66L797 315M550 66L799 315M552 66L801 315M554 66L803 315M556 66L805 315M558 66L807 315M560 66L809 315M562 66L811 315M564 66L813 315M566 66L815 315M79 66L-170 315M81 66L-168 315M83 66L-166 315M85 66L-164 315M87 66L-162 315M89 66L-160 315M91 66L-158 315M93 66L-156 315M95 66L-154 315M97 66L-152 315M99 66L-150 315M101 66L-148 315M103 66L-146 315M105 66L-144 315M107 66L-142 315M109 66L-140 315M111 66L-138 315M113 66L-136 315M115 66L-134 315M117 66L-132 315M119 66L-130 315M121 66L-128 315M123 66L-126 315M125 66L-124 315M127 66L-122 315M129 66L-120 315M131 66L-118 315M133 66L-116 315M135 66L-114 315M137 66L-112 315M139 66L-110 315M141 66L-108 315M143 66L-106 315M145 66L-104 315M147 66L-102 315M149 66L-100 315M151 66L-98 315M153 66L-96 315M155 66L-94 315M157 66L-92 315M159 66L-90 315M161 66L-88 315M163 66L-86 315M165 66L-84 315M167 66L-82 315M169 66L-80 315M171 66L-78 315M173 66L-76 315M175 66L-74 315M177 66L-72 315M179 66L-70 315M181 66L-68 315M183 66L-66 315M185 66L-64 315M187 66L-62 315M189 66L-60 315M191 66L-58 315M193 66L-56 315M195 66L-54 315M197 66L-52 315M199 66L-50 315M201 66L-48 315M203 66L-46 315M205 66L-44 315M207 66L-42 315M209 66L-40 315M211 66L-38 315M213 66L-36 315M215 66L-34 315M217 66L-32 315M219 66L-30 315M221 66L-28 315M223 66L-26 315M225 66L-24 315M227 66L-22 315M229 66L-20 315M231 66L-18 315M233 66L-16 315M235 66L-14 315M237 66L-12 315M239 66L-10 315M241 66L-8 315M243 66L-6 315M245 66L-4 315M247 66L-2 315M249 66L0 315M251 66L2 315M253 66L4 315M255 66L6 315M257 66L8 315M259 66L10 315M261 66L12 315M263 66L14 315M265 66L16 315M267 66L18 315M269 66L20 315M271 66L22 315M273 66L24 315M275 66L26 315M277 66L28 315M279 66L30 315M281 66L32 315M283 66L34 315M285 66L36 315M287 66L38 315M289 66L40 315M291 66L42 315M293 66L44 315M295 66L46 315M297 66L48 315M299 66L50 315M301 66L52 315M303 66L54 315M305 66L56 315M307 66L58 315M309 66L60 315M311 66L62 315M313 66L64 315M315 66L66 315M317 66L68 315M319 66L70 315M321 66L72 315M323 66L74 315M325 66L76 315M327 66L78 315M329 66L80 315M331 66L82 315M333 66L84 315M335 66L86 315M337 66L88 315M339 66L90 315M341 66L92 315M343 66L94 315M345 66L96 315M347 66L98 315M349 66L100 315M351 66L102 315M353 66L104 315M355 66L106 315M357 66L108 315M359 66L110 315M361 66L112 315M363 66L114 315M365 66L116 315M367 66L118 315M369 66L120 315M371 66L122 315M373 66L124 315M375 66L126 315M377 66L128 315M379 66L130 315M381 66L132 315M383 66L134 315M385 66L136 315M387 66L138 315M389 66L140 315M391 66L142 315M393 66L144 315M395 66L146 315M397 66L148 315M399 66L150 315M401 66L152 315M403 66L154 315M405 66L156 315M407 66L158 315M409 66L160 315M411 66L162 315M413 66L164 315M415 66L166 315M417 66L168 315M419 66L170 315M421 66L172 315M423 66L174 315M425 66L176 315M427 66L178 315M429 66L180 315M431 66L182 315M433 66L184 315M435 66L186 315M437 66L188 315M439 66L190 315M441 66L192 315M443 66L194 315M445 66L196 315M447 66L198 315M449 66L200 315M451 66L202 315M453 66L204 315M455 66L206 315M457 66L208 315M459 66L210 315M461 66L212 315M463 66L214 315M465 66L216 315M467 66L218 315M469 66L220 315M471 66L222 315M473 66L224 315M475 66L226 315M477 66L228 315M479 66L230 315M481 66L232 315M483 66L234 315M485 66L236 315M487 66L238 315M489 66L240 315M491 66L242 315M493 66L244 315M495 66L246 315M497 66L248 315M499 66L250 315M501 66L252 315M503 66L254 315M505 66L256 315M507 66L258 315M509 66L260 315M511 66L262 315M513 66L264 315M515 66L266 315M517 66L268 315M519 66L270 315M521 66L272 315M523 66L274 315M525 66L276 315M527 66L278 315M529 66L280 315M531 66L282 315M533 66L284 315M535 66L286 315M537 66L288 315M539 66L290 315M541 66L292 315M543 66L294 315M545 66L296 315M547 66L298 315M549 66L300 315M551 66L302 315M553 66L304 315M555 66L306 315M557 66L308 315M559 66L310 315M561 66L312 315M563 66L314 315M565 66L316 315M567 66L318 315M569 66L320 315M571 66L322 315M573 66L324 315M575 66L326 315M577 66L328 315M579 66L330 315M581 66L332 315M583 66L334 315M585 66L336 315M587 66L338 315M589 66L340 315M591 66L342 315M593 66L344 315M595 66L346 315M597 66L348 315M599 66L350 315M601 66L352 315M603 66L354 315M605 66L356 315M607 66L358 315M609 66L360 315M611 66L362 315M613 66L364 315M615 66L366 315M617 66L368 315M619 66L370 315M621 66L372 315M623 66L374 315M625 66L376 315M627 66L378 315M629 66L380 315M631 66L382 315M633 66L384 315M635 66L386 315M637 66L388 315M639 66L390 315M641 66L392 315M643 66L394 315M645 66L396 315M647 66L398 315M649 66L400 315M651 66L402 315M653 66L404 315M655 66L406 315M657 66L408 315M659 66L410 315M661 66L412 315M663 66L414 315M665 66L416 315M667 66L418 315M669 66L420 315M671 66L422 315M673 66L424 315M675 66L426 315M677 66L428 315M679 66L430 315M681 66L432 315M683 66L434 315M685 66L436 315M687 66L438 315M689 66L440 315M691 66L442 315M693 66L444 315M695 66L446 315M697 66L448 315M699 66L450 315M701 66L452 315M703 66L454 315M705 66L456 315M707 66L458 315M709 66L460 315M711 66L462 315M713 66L464 315M715 66L466 315M717 66L468 315M719 66L470 315M721 66L472 315M723 66L474 315M725 66L476 315M727 66L478 315M729 66L480 315M731 66L482 315M733 66L484 315M735 66L486 315M737 66L488 315M739 66L490 315M741 66L492 315M743 66L494 315M745 66L496 315M747 66L498 315M749 66L500 315M751 66L502 315M753 66L504 315M755 66L506 315M757 66L508 315M759 66L510 315M761 66L512 315M763 66L514 315M765 66L516 315M767 66L518 315M769 66L520 315M771 66L522 315M773 66L524 315M775 66L526 315M777 66L528 315M779 66L530 315M781 66L532 315M783 66L534 315M785 66L536 315M787 66L538 315M789 66L540 315M791 66L542 315M793 66L544 315M795 66L546 315M797 66L548 315M799 66L550 315M801 66L552 315M803 66L554 315M805 66L556 315M807 66L558 315M809 66L560 315M811 66L562 315M813 66L564 315M815 66L566 315"/></g>
<polyline class="ins" points="83.2,94.3 83.2,71.3 150,71.3"/>
<polyline class="ins" points="191.2,71.3 245.5,71.3"/>
<polyline class="ins" points="271.3,71.3 313.9,71.3"/>
<polyline class="ins" points="341.3,71.3 391.3,71.3"/>
<polyline class="ins" points="422.6,71.3 437.6,71.3"/>
<polyline class="ins" points="451.6,71.3 561.1,71.3 561.1,98"/>
<polyline class="ins" points="561.1,157.1 561.1,177.1"/>
<polyline class="ins" points="561.1,192.9 561.1,251.7 431.4,251.7"/>
<polyline class="ins" points="83.2,135.8 83.2,185.3"/>
<polyline class="ins" points="83.2,226.8 83.2,251.8 119.6,251.8 119.6,309.4 157.9,309.4"/>
<polyline class="ins" points="179,309.4 289.5,309.4"/>
<polyline class="ins" points="337.7,309.4 409.2,309.4 409.2,288.7"/>
<polyline class="ins" points="409.2,275.4 409.2,250.8 418.3,250.8"/>
<polygon class="wxs" points="80.2,68.3 150,68.3 150,82.6 94.2,82.6 94.2,94.3 80.2,94.3"/>
<polygon class="wxs" points="191.2,68.3 245.5,68.3 245.5,82.6 191.2,82.6"/>
<polygon class="wxs" points="271.3,68.3 313.9,68.3 313.9,82.6 271.3,82.6"/>
<polygon class="wxs" points="341.3,68.3 391.3,68.3 391.3,82.6 341.3,82.6"/>
<polygon class="wxs" points="422.6,68.3 437.6,68.3 437.6,82.6 422.6,82.6"/>
<polygon class="wxs" points="451.6,68.3 564.1,68.3 564.1,98 550.4,98 550.4,88 540.5,88 540.5,82.6 451.6,82.6"/>
<polygon class="wxs" points="549.6,157.1 564.1,157.1 564.1,177.1 549.6,177.1"/>
<polygon class="wxs" points="549.6,192.9 564.1,192.9 564.1,254.7 431.4,254.7 431.4,241.1 549.6,241.1"/>
<polygon class="wxs" points="80.2,135.8 94.2,135.8 94.2,185.3 80.2,185.3"/>
<polygon class="wxs" points="80.2,226.8 94.4,226.8 94.4,240.4 180.4,240.4 180.4,252 130.4,252 130.4,298.2 157.9,298.2 157.9,312.4 116.6,312.4 116.6,254.8 80.2,254.8"/>
<polygon class="wxs" points="198.9,240.8 260.7,240.8 260.7,251.8 198.9,251.8"/>
<polygon class="wxs" points="281.3,240.8 418.3,240.8 418.3,253.8 412.2,253.8 412.2,275.4 398.6,275.4 398.6,251.8 281.3,251.8"/>
<polygon class="wxs" points="179,298.2 289.5,298.2 289.5,312.4 179,312.4"/>
<polygon class="wxs" points="337.7,298.2 398.6,298.2 398.6,288.7 412.2,288.7 412.2,312.4 337.7,312.4"/>
<polygon class="ww" points="379.3,82.6 391.3,82.6 391.3,98.6 379.3,98.6"/>
<polygon class="ww" points="80.2,279.8 85,279.8 85,305.3 116.6,305.3 116.6,312.4 80.2,312.4"/>
<polygon class="wf" points="213.5,82.6 219.8,82.6 219.8,121 213.5,121"/>
<polygon class="wf" points="213.5,142.3 219.8,142.3 219.8,163.2 213.5,163.2"/>
<polygon class="wf" points="212.4,202.1 219.8,202.1 219.8,240.6 212.4,240.6"/>
<polygon class="wf" points="281.4,82.6 286.5,82.6 286.5,93.3 281.4,93.3"/>
<polygon class="wf" points="374.6,82.6 379.3,82.6 379.3,214.1 374.6,214.1"/>
<polygon class="wf" points="374.6,234.3 379.3,234.3 379.3,240.8 374.6,240.8"/>
<polygon class="wf" points="424.4,82.6 429.2,82.6 429.2,194.4 424.4,194.4"/>
<polygon class="wf" points="429.2,166.5 437.7,166.5 437.7,174 429.2,174"/>
<polygon class="wf" points="235.7,251.8 240.7,251.8 240.7,298.2 235.7,298.2"/>
<polygon class="wf" points="366.4,251.8 371.5,251.8 371.5,275.4 366.4,275.4"/>
<polygon class="wf" points="366.4,293.8 371.5,293.8 371.5,298.2 366.4,298.2"/>
<polygon class="wf" points="281.3,232 286.2,232 286.2,240.8 281.3,240.8"/>
<polygon class="wf" points="94.2,177.8 140.3,177.8 140.3,183 94.2,183"/>
<polygon class="wf" points="172.7,177.8 209.9,177.8 209.9,178.4 219.8,178.4 219.8,183 172.7,183"/>
<polygon class="wf" points="281.4,113.3 286.5,113.3 286.5,164.1 317,164.1 317,168.6 286.5,168.6 286.5,211.6 281.4,211.6 281.4,197.2 277,197.2 277,193.4 281.4,193.4 281.4,139.6 255.2,139.6 255.2,193.4 258.8,193.4 258.8,197.2 251.4,197.2 251.4,135.3 281.4,135.3"/>
<polygon class="wf" points="346.7,164.1 374.6,164.1 374.6,168.6 346.7,168.6"/>
<polygon class="wf" points="379.3,189.8 396.5,189.8 396.5,194.4 379.3,194.4"/>
<polygon class="wf" points="414.8,189.8 424.4,189.8 424.4,194.4 414.8,194.4"/>
<polygon class="wf" points="458.6,166.5 538,166.5 538,161.9 542.1,161.9 542.1,157.1 549.6,157.1 549.6,174 458.6,174"/>
<polygon class="wf" points="175.5,252 180.4,252 180.4,275.9 175.5,275.9"/>
<clipPath id="cd1"><polygon points="213.5,82.6 219.8,82.6 219.8,121 213.5,121"/><polygon points="213.5,142.3 219.8,142.3 219.8,163.2 213.5,163.2"/><polygon points="212.4,202.1 219.8,202.1 219.8,240.6 212.4,240.6"/><polygon points="281.4,82.6 286.5,82.6 286.5,93.3 281.4,93.3"/><polygon points="374.6,82.6 379.3,82.6 379.3,214.1 374.6,214.1"/><polygon points="374.6,234.3 379.3,234.3 379.3,240.8 374.6,240.8"/><polygon points="424.4,82.6 429.2,82.6 429.2,194.4 424.4,194.4"/><polygon points="429.2,166.5 437.7,166.5 437.7,174 429.2,174"/><polygon points="235.7,251.8 240.7,251.8 240.7,298.2 235.7,298.2"/><polygon points="366.4,251.8 371.5,251.8 371.5,275.4 366.4,275.4"/><polygon points="366.4,293.8 371.5,293.8 371.5,298.2 366.4,298.2"/><polygon points="281.3,232 286.2,232 286.2,240.8 281.3,240.8"/><polygon points="94.2,177.8 140.3,177.8 140.3,183 94.2,183"/><polygon points="172.7,177.8 209.9,177.8 209.9,178.4 219.8,178.4 219.8,183 172.7,183"/><polygon points="281.4,113.3 286.5,113.3 286.5,164.1 317,164.1 317,168.6 286.5,168.6 286.5,211.6 281.4,211.6 281.4,197.2 277,197.2 277,193.4 281.4,193.4 281.4,139.6 255.2,139.6 255.2,193.4 258.8,193.4 258.8,197.2 251.4,197.2 251.4,135.3 281.4,135.3"/><polygon points="346.7,164.1 374.6,164.1 374.6,168.6 346.7,168.6"/><polygon points="379.3,189.8 396.5,189.8 396.5,194.4 379.3,194.4"/><polygon points="414.8,189.8 424.4,189.8 424.4,194.4 414.8,194.4"/><polygon points="458.6,166.5 538,166.5 538,161.9 542.1,161.9 542.1,157.1 549.6,157.1 549.6,174 458.6,174"/><polygon points="175.5,252 180.4,252 180.4,275.9 175.5,275.9"/></clipPath>
<path class="hd" clip-path="url(#cd1)" d="M-68.42 315L75.34 66M-65.76 315L78 66M-63.1 315L80.66 66M-60.44 315L83.32 66M-57.78 315L85.98 66M-55.12 315L88.64 66M-52.46 315L91.3 66M-49.8 315L93.96 66M-47.14 315L96.62 66M-44.48 315L99.28 66M-41.82 315L101.94 66M-39.16 315L104.6 66M-36.5 315L107.26 66M-33.84 315L109.92 66M-31.18 315L112.58 66M-28.52 315L115.24 66M-25.86 315L117.9 66M-23.2 315L120.56 66M-20.54 315L123.22 66M-17.88 315L125.88 66M-15.22 315L128.54 66M-12.56 315L131.2 66M-9.9 315L133.86 66M-7.24 315L136.52 66M-4.58 315L139.18 66M-1.92 315L141.84 66M0.74 315L144.5 66M3.4 315L147.16 66M6.06 315L149.82 66M8.72 315L152.48 66M11.38 315L155.14 66M14.04 315L157.8 66M16.7 315L160.46 66M19.36 315L163.12 66M22.02 315L165.78 66M24.68 315L168.44 66M27.34 315L171.1 66M30 315L173.76 66M32.66 315L176.42 66M35.32 315L179.08 66M37.98 315L181.74 66M40.64 315L184.4 66M43.3 315L187.06 66M45.96 315L189.72 66M48.62 315L192.38 66M51.28 315L195.04 66M53.94 315L197.7 66M56.6 315L200.36 66M59.26 315L203.02 66M61.92 315L205.68 66M64.58 315L208.34 66M67.24 315L211 66M69.9 315L213.66 66M72.56 315L216.32 66M75.22 315L218.98 66M77.88 315L221.64 66M80.54 315L224.3 66M83.2 315L226.96 66M85.86 315L229.62 66M88.52 315L232.28 66M91.18 315L234.94 66M93.84 315L237.6 66M96.5 315L240.26 66M99.16 315L242.92 66M101.82 315L245.58 66M104.48 315L248.24 66M107.14 315L250.9 66M109.8 315L253.56 66M112.46 315L256.22 66M115.12 315L258.88 66M117.78 315L261.54 66M120.44 315L264.2 66M123.1 315L266.86 66M125.76 315L269.52 66M128.42 315L272.18 66M131.08 315L274.84 66M133.74 315L277.5 66M136.4 315L280.16 66M139.06 315L282.82 66M141.72 315L285.48 66M144.38 315L288.14 66M147.04 315L290.8 66M149.7 315L293.46 66M152.36 315L296.12 66M155.02 315L298.78 66M157.68 315L301.44 66M160.34 315L304.1 66M163 315L306.76 66M165.66 315L309.42 66M168.32 315L312.08 66M170.98 315L314.74 66M173.64 315L317.4 66M176.3 315L320.06 66M178.96 315L322.72 66M181.62 315L325.38 66M184.28 315L328.04 66M186.94 315L330.7 66M189.6 315L333.36 66M192.26 315L336.02 66M194.92 315L338.68 66M197.58 315L341.34 66M200.24 315L344 66M202.9 315L346.66 66M205.56 315L349.32 66M208.22 315L351.98 66M210.88 315L354.64 66M213.54 315L357.3 66M216.2 315L359.96 66M218.86 315L362.62 66M221.52 315L365.28 66M224.18 315L367.94 66M226.84 315L370.6 66M229.5 315L373.26 66M232.16 315L375.92 66M234.82 315L378.58 66M237.48 315L381.24 66M240.14 315L383.9 66M242.8 315L386.56 66M245.46 315L389.22 66M248.12 315L391.88 66M250.78 315L394.54 66M253.44 315L397.2 66M256.1 315L399.86 66M258.76 315L402.52 66M261.42 315L405.18 66M264.08 315L407.84 66M266.74 315L410.5 66M269.4 315L413.16 66M272.06 315L415.82 66M274.72 315L418.48 66M277.38 315L421.14 66M280.04 315L423.8 66M282.7 315L426.46 66M285.36 315L429.12 66M288.02 315L431.78 66M290.68 315L434.44 66M293.34 315L437.1 66M296 315L439.76 66M298.66 315L442.42 66M301.32 315L445.08 66M303.98 315L447.74 66M306.64 315L450.4 66M309.3 315L453.06 66M311.96 315L455.72 66M314.62 315L458.38 66M317.28 315L461.04 66M319.94 315L463.7 66M322.6 315L466.36 66M325.26 315L469.02 66M327.92 315L471.68 66M330.58 315L474.34 66M333.24 315L477 66M335.9 315L479.66 66M338.56 315L482.32 66M341.22 315L484.98 66M343.88 315L487.64 66M346.54 315L490.3 66M349.2 315L492.96 66M351.86 315L495.62 66M354.52 315L498.28 66M357.18 315L500.94 66M359.84 315L503.6 66M362.5 315L506.26 66M365.16 315L508.92 66M367.82 315L511.58 66M370.48 315L514.24 66M373.14 315L516.9 66M375.8 315L519.56 66M378.46 315L522.22 66M381.12 315L524.88 66M383.78 315L527.54 66M386.44 315L530.2 66M389.1 315L532.86 66M391.76 315L535.52 66M394.42 315L538.18 66M397.08 315L540.84 66M399.74 315L543.5 66M402.4 315L546.16 66M405.06 315L548.82 66M407.72 315L551.48 66M410.38 315L554.14 66M413.04 315L556.8 66M415.7 315L559.46 66M418.36 315L562.12 66M421.02 315L564.78 66M423.68 315L567.44 66M426.34 315L570.1 66M429 315L572.76 66M431.66 315L575.42 66M434.32 315L578.08 66M436.98 315L580.74 66M439.64 315L583.4 66M442.3 315L586.06 66M444.96 315L588.72 66M447.62 315L591.38 66M450.28 315L594.04 66M452.94 315L596.7 66M455.6 315L599.36 66M458.26 315L602.02 66M460.92 315L604.68 66M463.58 315L607.34 66M466.24 315L610 66M468.9 315L612.66 66M471.56 315L615.32 66M474.22 315L617.98 66M476.88 315L620.64 66M479.54 315L623.3 66M482.2 315L625.96 66M484.86 315L628.62 66M487.52 315L631.28 66M490.18 315L633.94 66M492.84 315L636.6 66M495.5 315L639.26 66M498.16 315L641.92 66M500.82 315L644.58 66M503.48 315L647.24 66M506.14 315L649.9 66M508.8 315L652.56 66M511.46 315L655.22 66M514.12 315L657.88 66M516.78 315L660.54 66M519.44 315L663.2 66M522.1 315L665.86 66M524.76 315L668.52 66M527.42 315L671.18 66M530.08 315L673.84 66M532.74 315L676.5 66M535.4 315L679.16 66M538.06 315L681.82 66M540.72 315L684.48 66M543.38 315L687.14 66M546.04 315L689.8 66M548.7 315L692.46 66M551.36 315L695.12 66M554.02 315L697.78 66M556.68 315L700.44 66M559.34 315L703.1 66M562 315L705.76 66M564.66 315L708.42 66M567.32 315L711.08 66"/>
<polygon class="wds" points="213.5,82.6 219.8,82.6 219.8,121 213.5,121"/>
<polygon class="wds" points="213.5,142.3 219.8,142.3 219.8,163.2 213.5,163.2"/>
<polygon class="wds" points="212.4,202.1 219.8,202.1 219.8,240.6 212.4,240.6"/>
<polygon class="wds" points="281.4,82.6 286.5,82.6 286.5,93.3 281.4,93.3"/>
<polygon class="wds" points="374.6,82.6 379.3,82.6 379.3,214.1 374.6,214.1"/>
<polygon class="wds" points="374.6,234.3 379.3,234.3 379.3,240.8 374.6,240.8"/>
<polygon class="wds" points="424.4,82.6 429.2,82.6 429.2,194.4 424.4,194.4"/>
<polygon class="wds" points="429.2,166.5 437.7,166.5 437.7,174 429.2,174"/>
<polygon class="wds" points="235.7,251.8 240.7,251.8 240.7,298.2 235.7,298.2"/>
<polygon class="wds" points="366.4,251.8 371.5,251.8 371.5,275.4 366.4,275.4"/>
<polygon class="wds" points="366.4,293.8 371.5,293.8 371.5,298.2 366.4,298.2"/>
<polygon class="wds" points="281.3,232 286.2,232 286.2,240.8 281.3,240.8"/>
<polygon class="wds" points="94.2,177.8 140.3,177.8 140.3,183 94.2,183"/>
<polygon class="wds" points="172.7,177.8 209.9,177.8 209.9,178.4 219.8,178.4 219.8,183 172.7,183"/>
<polygon class="wds" points="281.4,113.3 286.5,113.3 286.5,164.1 317,164.1 317,168.6 286.5,168.6 286.5,211.6 281.4,211.6 281.4,197.2 277,197.2 277,193.4 281.4,193.4 281.4,139.6 255.2,139.6 255.2,193.4 258.8,193.4 258.8,197.2 251.4,197.2 251.4,135.3 281.4,135.3"/>
<polygon class="wds" points="346.7,164.1 374.6,164.1 374.6,168.6 346.7,168.6"/>
<polygon class="wds" points="379.3,189.8 396.5,189.8 396.5,194.4 379.3,194.4"/>
<polygon class="wds" points="414.8,189.8 424.4,189.8 424.4,194.4 414.8,194.4"/>
<polygon class="wds" points="458.6,166.5 538,166.5 538,161.9 542.1,161.9 542.1,157.1 549.6,157.1 549.6,174 458.6,174"/>
<polygon class="wds" points="175.5,252 180.4,252 180.4,275.9 175.5,275.9"/>
<rect class="ww" x="209.9" y="163.2" width="14.9" height="15.2"/>
<circle class="th" cx="217.3" cy="170.8" r="5.2"/>
<circle class="th" cx="217.3" cy="170.8" r="4.3"/>
<text class="tl" x="217.3" y="172.2" text-anchor="middle">600</text>
<polyline class="tile" points="175.5,252.8 131.2,252.8 131.2,297.4 234.9,297.4 234.9,252.8 180.4,252.8"/>
<polyline class="tile" points="175.2,252.8 175.2,276.2 180.7,276.2 180.7,252.8"/>
<polyline class="tile" points="95,226.8 95,239.8 180.4,239.8"/>
<line class="wl" x1="150" y1="68.3" x2="191.2" y2="68.3"/>
<line class="wl" x1="150" y1="82.6" x2="191.2" y2="82.6"/>
<line class="gl" x1="150" y1="75.45" x2="191.2" y2="75.45"/>
<line class="wl" x1="313.9" y1="68.3" x2="341.3" y2="68.3"/>
<line class="wl" x1="313.9" y1="82.6" x2="341.3" y2="82.6"/>
<line class="gl" x1="313.9" y1="75.45" x2="341.3" y2="75.45"/>
<line class="wl" x1="391.3" y1="68.3" x2="401.6" y2="68.3"/>
<line class="wl" x1="391.3" y1="82.6" x2="401.6" y2="82.6"/>
<line class="gl" x1="391.3" y1="75.45" x2="401.6" y2="75.45"/>
<line class="wl" x1="437.6" y1="68.3" x2="451.6" y2="68.3"/>
<line class="wl" x1="437.6" y1="82.6" x2="451.6" y2="82.6"/>
<line class="gl" x1="437.6" y1="75.45" x2="451.6" y2="75.45"/>
<line class="wl" x1="80.2" y1="94.3" x2="80.2" y2="135.8"/>
<line class="wl" x1="94.2" y1="94.3" x2="94.2" y2="135.8"/>
<line class="gl" x1="87.2" y1="94.3" x2="87.2" y2="135.8"/>
<line class="wl" x1="80.2" y1="185.3" x2="80.2" y2="226.8"/>
<line class="wl" x1="94.2" y1="185.3" x2="94.2" y2="226.8"/>
<line class="gl" x1="87.2" y1="185.3" x2="87.2" y2="226.8"/>
<line class="wl" x1="157.9" y1="312.4" x2="179" y2="312.4"/>
<line class="wl" x1="157.9" y1="298.2" x2="179" y2="298.2"/>
<line class="gl" x1="157.9" y1="305.3" x2="179" y2="305.3"/>
<line class="wl" x1="289.5" y1="312.4" x2="337.7" y2="312.4"/>
<line class="wl" x1="289.5" y1="298.2" x2="337.7" y2="298.2"/>
<line class="gl" x1="289.5" y1="305.3" x2="337.7" y2="305.3"/>
<line class="wl" x1="398.6" y1="275.4" x2="398.6" y2="288.7"/>
<line class="wl" x1="412.2" y1="275.4" x2="412.2" y2="288.7"/>
<line class="gl" x1="405.4" y1="275.4" x2="405.4" y2="288.7"/>
<line class="wl" x1="418.3" y1="253.8" x2="431.4" y2="253.8"/>
<line class="wl" x1="418.3" y1="241.1" x2="431.4" y2="241.1"/>
<line class="gl" x1="418.3" y1="247.45" x2="431.4" y2="247.45"/>
<line class="wl" x1="317" y1="164.1" x2="346.7" y2="164.1"/>
<line class="wl" x1="317" y1="168.6" x2="346.7" y2="168.6"/>
<line class="d" x1="317" y1="166.4" x2="346.7" y2="166.4"/>
<line class="wl" x1="550.6" y1="98" x2="550.6" y2="157.1"/>
<line class="wl" x1="552.3" y1="98" x2="552.3" y2="157.1"/>
<line class="wl" x1="564.1" y1="98" x2="564.1" y2="157.1"/>
<line class="wl" x1="80.2" y1="254.8" x2="80.2" y2="279.8"/>
<rect class="wl2" x="85" y="254.8" width="31.6" height="50.5"/>
<line class="wl" x1="245.5" y1="68.3" x2="271.3" y2="68.3"/>
<line class="wl" x1="245.5" y1="79" x2="271.3" y2="79"/>
<line class="wl" x1="245.5" y1="82.6" x2="271.3" y2="82.6"/>
<line class="dr" x1="247.4" y1="82.6" x2="247.4" y2="104.8"/>
<path class="dr" d="M247.4 104.8 A22.2 22.2 0 0 0 271.3 82.6"/>
<line class="d" x1="258.4" y1="64" x2="258.4" y2="104"/>
<text class="tl" x="256.2" y="74" text-anchor="middle" transform="rotate(-90 256.2 74)">900</text>
<text class="tl" x="260.6" y="74" text-anchor="middle" transform="rotate(-90 260.6 74)">1970</text>
<line class="wl" x1="401.6" y1="68.3" x2="422.6" y2="68.3"/>
<line class="wl" x1="401.6" y1="79.5" x2="422.6" y2="79.5"/>
<line class="wl" x1="401.6" y1="82.6" x2="422.6" y2="82.6"/>
<line class="dr" x1="401.8" y1="82.6" x2="401.8" y2="101.6"/>
<path class="dr" d="M401.8 101.6 A19 19 0 0 0 422.6 82.6"/>
<line class="d" x1="412" y1="64" x2="412" y2="104"/>
<text class="tl" x="409.8" y="74" text-anchor="middle" transform="rotate(-90 409.8 74)">800</text>
<text class="tl" x="414.2" y="74" text-anchor="middle" transform="rotate(-90 414.2 74)">1970</text>
<line class="dr" x1="286.5" y1="93.6" x2="306" y2="93.6"/>
<path class="dr" d="M306 93.6 A19.5 19.5 0 0 1 286.5 113.2"/>
<line class="wl" x1="281.4" y1="93.3" x2="281.4" y2="113.3"/>
<line class="wl" x1="286.5" y1="93.3" x2="286.5" y2="113.3"/>
<line class="d" x1="273" y1="103.6" x2="313" y2="103.6"/>
<text class="tl" x="296" y="102.2" text-anchor="middle">800</text>
<text class="tl" x="296" y="107.6" text-anchor="middle">1970</text>
<line class="dr" x1="213.5" y1="121.3" x2="193.2" y2="121.3"/>
<path class="dr" d="M193.2 121.3 A20.3 20.3 0 0 0 213.5 142"/>
<line class="wl" x1="213.5" y1="121" x2="213.5" y2="142.3"/>
<line class="wl" x1="219.8" y1="121" x2="219.8" y2="142.3"/>
<line class="d" x1="190" y1="131.8" x2="227" y2="131.8"/>
<text class="tl" x="205" y="130.2" text-anchor="middle">850</text>
<text class="tl" x="205" y="135.8" text-anchor="middle">2040</text>
<line class="dr" x1="219.8" y1="202.1" x2="238.6" y2="202.1"/>
<path class="dr" d="M238.6 202.1 A18.8 18.8 0 0 0 219.8 183.3"/>
<line class="wl" x1="212.4" y1="183" x2="212.4" y2="202.1"/>
<line class="wl" x1="219.8" y1="183" x2="219.8" y2="202.1"/>
<line class="d" x1="206" y1="192.6" x2="240" y2="192.6"/>
<text class="tl" x="225" y="191.2" text-anchor="middle">700</text>
<text class="tl" x="225" y="196.8" text-anchor="middle">1970</text>
<line class="dr" x1="277" y1="197.2" x2="277" y2="215.4"/>
<path class="dr" d="M277 215.4 A18.2 18.2 0 0 1 258.8 197.2"/>
<text class="tl" x="265" y="206" text-anchor="middle" transform="rotate(-90 265 206)">700</text>
<text class="tl" x="270" y="206" text-anchor="middle" transform="rotate(-90 270 206)">1500</text>
<path class="dr" d="M260.8 211.8 A20.6 20.6 0 0 0 281.4 232.4"/>
<line class="dr" x1="260.8" y1="211.8" x2="281.4" y2="211.8"/>
<line class="wl" x1="281.4" y1="211.6" x2="281.4" y2="232"/>
<line class="wl" x1="286.3" y1="211.6" x2="286.3" y2="232"/>
<line class="d" x1="258" y1="221.8" x2="294" y2="221.8"/>
<text class="tl" x="275" y="220.4" text-anchor="middle">850</text>
<text class="tl" x="275" y="226" text-anchor="middle">2040</text>
<path class="dr" d="M355.2 214.2 A19.8 19.8 0 0 0 374.8 234"/>
<line class="dr" x1="355.2" y1="214.2" x2="374.6" y2="214.2"/>
<line class="wl" x1="374.6" y1="214.1" x2="374.6" y2="234.3"/>
<line class="wl" x1="379.3" y1="214.1" x2="379.3" y2="234.3"/>
<line class="d" x1="352" y1="224.6" x2="383" y2="224.6"/>
<text class="tl" x="365" y="223.2" text-anchor="middle">800</text>
<text class="tl" x="365" y="228.8" text-anchor="middle">1970</text>
<line class="dr" x1="414.8" y1="194.4" x2="414.8" y2="211.4"/>
<path class="dr" d="M414.8 211.4 A17 17 0 0 1 396.5 194.4"/>
<text class="tl" x="404.5" y="203" text-anchor="middle" transform="rotate(-90 404.5 203)">700</text>
<text class="tl" x="409" y="203" text-anchor="middle" transform="rotate(-90 409 203)">1970</text>
<line class="dr" x1="437.8" y1="174" x2="437.8" y2="194"/>
<path class="dr" d="M437.8 194 A20 20 0 0 0 458.6 174"/>
<line class="wl" x1="437.7" y1="166.5" x2="458.6" y2="166.5"/>
<line class="wl" x1="437.7" y1="174" x2="458.6" y2="174"/>
<text class="tl" x="444.5" y="184" text-anchor="middle" transform="rotate(-90 444.5 184)">800</text>
<text class="tl" x="449" y="184" text-anchor="middle" transform="rotate(-90 449 184)">1970</text>
<line class="wl" x1="549.6" y1="177.1" x2="579.8" y2="177.1"/>
<line class="wl" x1="549.6" y1="192.9" x2="579.8" y2="192.9"/>
<line class="wl" x1="564.1" y1="177.1" x2="564.1" y2="192.9"/>
<line class="wl" x1="549.6" y1="177.1" x2="549.6" y2="192.9"/>
<path class="dr" d="M564.1 177.1 A15.8 15.8 0 0 1 579.8 192.9"/>
<line class="d" x1="564" y1="185" x2="580" y2="185"/>
<text class="tl" x="570.6" y="183.6" text-anchor="middle">650</text>
<text class="tl" x="570.6" y="189.2" text-anchor="middle">1970</text>
<line class="dr" x1="180.4" y1="252" x2="180.4" y2="270.4"/>
<path class="dr" d="M180.4 270.4 A18.4 18.4 0 0 0 198.9 252"/>
<line class="wl" x1="180.4" y1="240.4" x2="198.9" y2="240.4"/>
<line class="wl" x1="180.4" y1="252" x2="198.9" y2="252"/>
<text class="tl" x="186.5" y="262" text-anchor="middle" transform="rotate(-90 186.5 262)">800</text>
<text class="tl" x="191" y="262" text-anchor="middle" transform="rotate(-90 191 262)">1970</text>
<line class="dr" x1="260.7" y1="251.8" x2="260.7" y2="272.2"/>
<path class="dr" d="M260.7 272.2 A20.4 20.4 0 0 0 281.3 251.8"/>
<line class="wl" x1="260.7" y1="240.8" x2="281.3" y2="240.8"/>
<line class="wl" x1="260.7" y1="251.8" x2="281.3" y2="251.8"/>
<text class="tl" x="267.5" y="262" text-anchor="middle" transform="rotate(-90 267.5 262)">800</text>
<text class="tl" x="272" y="262" text-anchor="middle" transform="rotate(-90 272 262)">1970</text>
<path class="dr" d="M348.2 293.8 A18.2 18.2 0 0 1 366.4 275.6"/>
<line class="dr" x1="348.2" y1="293.8" x2="366.4" y2="293.8"/>
<line class="wl" x1="366.4" y1="275.4" x2="366.4" y2="293.8"/>
<line class="wl" x1="371.5" y1="275.4" x2="371.5" y2="293.8"/>
<line class="d" x1="346" y1="284.6" x2="377" y2="284.6"/>
<text class="tl" x="357.5" y="283.2" text-anchor="middle">700</text>
<text class="tl" x="357.5" y="288.8" text-anchor="middle">1970</text>
<line class="th" x1="255.2" y1="144.4" x2="281.4" y2="144.4"/>
<line class="th" x1="255.2" y1="151.32" x2="281.4" y2="151.32"/>
<line class="th" x1="255.2" y1="158.24" x2="281.4" y2="158.24"/>
<line class="th" x1="255.2" y1="165.16" x2="281.4" y2="165.16"/>
<line class="th" x1="255.2" y1="172.08" x2="281.4" y2="172.08"/>
<line class="th" x1="255.2" y1="179" x2="281.4" y2="179"/>
<line class="th" x1="255.2" y1="185.92" x2="281.4" y2="185.92"/>
<line class="d" x1="250.1" y1="130.8" x2="282.9" y2="130.8"/>
<line class="d" x1="251.6" y1="128.6" x2="251.6" y2="133"/>
<line class="tk" x1="250.5" y1="131.9" x2="252.7" y2="129.7"/>
<line class="d" x1="281.4" y1="128.6" x2="281.4" y2="133"/>
<line class="tk" x1="280.3" y1="131.9" x2="282.5" y2="129.7"/>
<text class="t" x="266.5" y="129.5" text-anchor="middle">1225</text>
<line class="th" x1="268.3" y1="139.6" x2="268.3" y2="193.4"/>
<line class="th" x1="261.8" y1="139.6" x2="261.8" y2="193.4"/>
<polyline class="th" points="263.5,144.6 268.3,140.2 273.1,144.6"/>
<line class="ds2" x1="258.8" y1="195.2" x2="277" y2="195.2"/>
<text class="tl" x="273" y="168" text-anchor="middle" transform="rotate(-90 273 168)">9x185x250</text>
<text class="t" x="259.8" y="160" text-anchor="middle" transform="rotate(-90 259.8 160)">2290</text>
<rect class="th" x="379.9" y="119.2" width="22.8" height="70.6"/>
<line class="th" x1="379.9" y1="124.2" x2="402.7" y2="124.2"/>
<line class="th" x1="379.9" y1="129.2" x2="402.7" y2="129.2"/>
<line class="th" x1="379.9" y1="134.2" x2="402.7" y2="134.2"/>
<line class="th" x1="379.9" y1="139.2" x2="402.7" y2="139.2"/>
<line class="th" x1="379.9" y1="144.2" x2="402.7" y2="144.2"/>
<line class="th" x1="379.9" y1="149.2" x2="402.7" y2="149.2"/>
<line class="th" x1="379.9" y1="154.2" x2="402.7" y2="154.2"/>
<line class="th" x1="379.9" y1="159.2" x2="402.7" y2="159.2"/>
<line class="th" x1="379.9" y1="164.2" x2="402.7" y2="164.2"/>
<line class="th" x1="379.9" y1="169.2" x2="402.7" y2="169.2"/>
<line class="th" x1="379.9" y1="174.2" x2="402.7" y2="174.2"/>
<line class="th" x1="379.9" y1="179.2" x2="402.7" y2="179.2"/>
<line class="th" x1="379.9" y1="184.2" x2="402.7" y2="184.2"/>
<line class="th" x1="391.4" y1="113.8" x2="391.4" y2="188"/>
<polyline class="th" points="388.6,184.2 391.4,188.4 394.2,184.2"/>
<text class="tl" x="396.6" y="160" text-anchor="middle" transform="rotate(-90 396.6 160)">14x171x270</text>
<line class="th" x1="379.3" y1="118.6" x2="379.3" y2="118.6"/>
<rect class="fx" x="101.4" y="226.8" width="14.6" height="12.6"/>
<circle class="fx" cx="105.2" cy="235" r="2.4"/>
<circle class="fx" cx="111.6" cy="235" r="2.4"/>
<line class="fx" x1="101.4" y1="230.6" x2="116" y2="230.6"/>
<rect class="fx" x="132.6" y="253.8" width="15.6" height="42.8" rx="5" ry="7"/>
<rect class="fx" x="217.8" y="253.8" width="14.6" height="42.8" rx="5" ry="7"/>
<rect class="fx" x="201.8" y="253.2" width="11.6" height="7"/>
<rect class="fx" x="203.8" y="254.4" width="7.6" height="4.6"/>
<ellipse class="fx" cx="385" cy="259" rx="3.2" ry="4"/>
<rect class="fx" x="381.6" y="252.4" width="6.8" height="2.6"/>
<circle class="fx" cx="393.6" cy="259.4" r="1.6"/>
<line class="ds" x1="466.6" y1="174" x2="466.6" y2="241.1"/>
<rect class="lv" x="154.1" y="233.2" width="14.6" height="6.4" rx=".8"/>
<text class="tl" x="161.4" y="238" text-anchor="middle">(2200)</text>
<rect class="lv" x="151.4" y="252.8" width="14.6" height="6.4" rx=".8"/>
<text class="tl" x="158.7" y="257.6" text-anchor="middle">(2200)</text>
<polyline class="ch" points="225.3,124.7 237.2,124.7 237.2,148.2 250,148.2"/>
<text class="t" x="231.4" y="129.8" text-anchor="middle">1300</text>
<text class="t" x="86.8" y="91.6" text-anchor="middle">570</text>
<text class="t" x="134.6" y="75.4" text-anchor="middle" transform="rotate(-90 134.6 75.4)">450</text>
<text class="t" x="557.6" y="91.6" text-anchor="middle">570</text>
<text class="t" x="522.6" y="75.4" text-anchor="middle" transform="rotate(-90 522.6 75.4)">450</text>
<text class="t" x="207.4" y="97.4" text-anchor="middle">250</text>
<text class="t" x="207.4" y="118.2" text-anchor="middle">250</text>
<text class="t" x="225.6" y="150.8" text-anchor="middle">250</text>
<text class="t" x="207.6" y="159.6" text-anchor="middle">200</text>
<text class="t" x="228.6" y="159.6" text-anchor="middle">150</text>
<text class="t" x="290.6" y="118.2" text-anchor="middle">200</text>
<text class="t" x="369.6" y="96.6" text-anchor="middle">200</text>
<text class="t" x="369.6" y="118.2" text-anchor="middle">200</text>
<text class="t" x="434.6" y="118.2" text-anchor="middle">200</text>
<text class="t" x="290.6" y="159.6" text-anchor="middle">200</text>
<text class="t" x="369.6" y="159.6" text-anchor="middle">200</text>
<text class="t" x="419.6" y="159.6" text-anchor="middle">200</text>
<text class="t" x="291" y="238.6" text-anchor="middle">200</text>
<text class="t" x="385" y="238.6" text-anchor="middle">200</text>
<text class="t" x="223.6" y="238.6" text-anchor="middle">270</text>
<text class="t" x="276.6" y="238.6" text-anchor="middle">200</text>
<text class="t" x="73" y="291.6" text-anchor="middle">200</text>
<text class="t" x="123.4" y="291.6" text-anchor="middle">570</text>
<text class="t" x="86.6" y="232.6" text-anchor="middle">570</text>
<text class="t" x="245.6" y="246.6" text-anchor="middle" transform="rotate(-90 245.6 246.6)">450</text>
<text class="t" x="343.6" y="246.6" text-anchor="middle" transform="rotate(-90 343.6 246.6)">450</text>
<text class="t" x="521.6" y="248.2" text-anchor="middle" transform="rotate(-90 521.6 248.2)">450</text>
<text class="t" x="557" y="234.6" text-anchor="middle">570</text>
<text class="t" x="99.6" y="246.8" text-anchor="middle" transform="rotate(-90 99.6 246.8)">570</text>
<text class="t" x="135.6" y="305.6" text-anchor="middle" transform="rotate(-90 135.6 305.6)">570</text>
<text class="t" x="404.6" y="305.6" text-anchor="middle" transform="rotate(-90 404.6 305.6)">570</text>
<text class="t" x="361.6" y="270.6" text-anchor="middle">200</text>
<text class="t" x="361.6" y="295.6" text-anchor="middle">200</text>
<text class="t" x="231.4" y="270.6" text-anchor="middle">200</text>
<text class="t" x="231.4" y="290.6" text-anchor="middle">200</text>
<text class="t" x="185.2" y="276.6" text-anchor="middle">200</text>
<text class="t" x="522.6" y="170.6" text-anchor="middle" transform="rotate(-90 522.6 170.6)">200</text>
<text class="t" x="535.6" y="170.6" text-anchor="middle" transform="rotate(-90 535.6 170.6)">300</text>
<text class="t" x="547.6" y="87.6" text-anchor="middle">360</text>
<text class="t" x="537.4" y="86" text-anchor="middle" transform="rotate(-90 537.4 86)">280</text>
<text class="t" x="537.4" y="94.6" text-anchor="middle" transform="rotate(-90 537.4 94.6)">360</text>
<text class="t" x="552.6" y="155" text-anchor="middle">220</text>
<text class="t" x="539.6" y="150.6" text-anchor="middle" transform="rotate(-90 539.6 150.6)">200</text>
<text class="t" x="429.6" y="87.4" text-anchor="middle">200</text>
<text class="t" x="433" y="96.4" text-anchor="middle">320</text>
<text class="t" x="417.6" y="96.4" text-anchor="middle">70</text>
<rect class="lv" x="224.7" y="168" width="14.6" height="6.4" rx=".8"/>
<text class="tl" x="232" y="172.8" text-anchor="middle">±0,000</text>
<rect class="lv" x="469.5" y="133.2" width="14.6" height="6.4" rx=".8"/>
<text class="tl" x="476.8" y="138" text-anchor="middle">+0,100</text>
<rect class="lv" x="177.7" y="282.6" width="14.6" height="6.4" rx=".8"/>
<text class="tl" x="185" y="287.4" text-anchor="middle">−0,150</text>
<rect class="lv" x="289.1" y="257.8" width="14.6" height="6.4" rx=".8"/>
<text class="tl" x="296.4" y="262.6" text-anchor="middle">−0,150</text>
<rect class="lv" x="378.3" y="267.2" width="14.6" height="6.4" rx=".8"/>
<text class="tl" x="385.6" y="272" text-anchor="middle">−0,150</text>
<rect class="lv" x="443.3" y="199" width="14.6" height="6.4" rx=".8"/>
<text class="tl" x="450.6" y="203.8" text-anchor="middle">−0,150</text>
<rect class="lv" x="499.9" y="210.6" width="14.6" height="6.4" rx=".8"/>
<text class="tl" x="507.2" y="215.4" text-anchor="middle">−1,350</text>
<text class="rm" x="234.8" y="110" text-anchor="middle" textLength="10.6" lengthAdjust="spacingAndGlyphs">1.01</text>
<text class="rm" x="330.2" y="110" text-anchor="middle" textLength="10.6" lengthAdjust="spacingAndGlyphs">1.02</text>
<text class="rm" x="406" y="110" text-anchor="middle" textLength="10.6" lengthAdjust="spacingAndGlyphs">1.03</text>
<text class="rm" x="490.2" y="110" text-anchor="middle" textLength="10.6" lengthAdjust="spacingAndGlyphs">1.04</text>
<text class="rm" x="158.4" y="184" text-anchor="middle" textLength="10.6" lengthAdjust="spacingAndGlyphs">1.05</text>
<text class="rm" x="204.4" y="282.6" text-anchor="middle" textLength="10.6" lengthAdjust="spacingAndGlyphs">1.06</text>
<text class="rm" x="330.2" y="283" text-anchor="middle" textLength="10.6" lengthAdjust="spacingAndGlyphs">1.07</text>
<text class="rm" x="384.2" y="283" text-anchor="middle" textLength="10.6" lengthAdjust="spacingAndGlyphs">1.08</text>
<text class="rm" x="329.8" y="204.8" text-anchor="middle" textLength="10.6" lengthAdjust="spacingAndGlyphs">1.09</text>
<text class="rm" x="423.4" y="205.2" text-anchor="middle" textLength="10.6" lengthAdjust="spacingAndGlyphs">1.10</text>
<text class="rm" x="492.6" y="205.2" text-anchor="middle" textLength="10.6" lengthAdjust="spacingAndGlyphs">1.11</text>
<text class="rm" x="109.2" y="282.8" text-anchor="middle" textLength="10.6" lengthAdjust="spacingAndGlyphs">1.12</text>
<line class="sec" x1="22.3" y1="124.4" x2="31.1" y2="124.4"/>
<line class="sec" x1="35.8" y1="124.4" x2="44.3" y2="124.4"/>
<line class="sec" x1="33.05" y1="124.4" x2="33.95" y2="124.4"/>
<line class="sec" x1="28.4" y1="124.4" x2="28.4" y2="137.2"/>
<polyline class="sec" points="25.4,128.7 28.4,124.8 31.4,128.7"/>
<text class="sect" x="31.7" y="135.8">A</text>
<line class="sec" x1="604.6" y1="148.9" x2="612.3" y2="148.9"/>
<line class="sec" x1="617" y1="148.9" x2="624.6" y2="148.9"/>
<line class="sec" x1="614.15" y1="148.9" x2="615.05" y2="148.9"/>
<line class="sec" x1="619.8" y1="148.9" x2="619.8" y2="161.7"/>
<polyline class="sec" points="616.8,153.2 619.8,149.3 622.8,153.2"/>
<text class="sect" x="622.8" y="160.3">A'</text>
<line class="sec" x1="263.5" y1="47.3" x2="276.3" y2="47.3"/>
<polyline class="sec" points="268.1,44.3 263.9,47.3 268.1,50.1"/>
<line class="sec" x1="263.5" y1="44.4" x2="263.5" y2="49.7"/>
<line class="sec" x1="263.5" y1="51.6" x2="263.5" y2="52.4"/>
<line class="sec" x1="263.5" y1="54.3" x2="263.5" y2="59.9"/>
<text class="sect" x="268.4" y="55.5" text-anchor="middle" transform="rotate(90 268.4 55.5)">B</text>
<line class="sec" x1="263.5" y1="332.1" x2="276.3" y2="332.1"/>
<polyline class="sec" points="268.1,329.1 263.9,332.1 268.1,334.9"/>
<line class="sec" x1="263.5" y1="329.2" x2="263.5" y2="334.5"/>
<line class="sec" x1="263.5" y1="328.3" x2="263.5" y2="329.1"/>
<line class="sec" x1="263.5" y1="323.2" x2="263.5" y2="326.7"/>
<text class="sect" x="268.4" y="325.7" text-anchor="middle" transform="rotate(90 268.4 325.7)">B</text>
</g>
<g id="pudorys-2np">
<text class="h1" x="25" y="372">PŮDORYS 2.NP</text>
<polyline class="dd" points="65.3,678.4 65.3,407.4 203.8,407.4 203.8,414.9 410.4,414.9 410.4,407.4 573.8,407.4 573.8,628.2 417.6,628.2 417.6,678.4 65.3,678.4"/>
<line class="ds" x1="80.2" y1="407.4" x2="80.2" y2="477.3"/>
<line class="ds" x1="93" y1="407.4" x2="93" y2="678.4"/>
<line class="ds" x1="115.4" y1="407.4" x2="115.4" y2="678.4"/>
<line class="ds" x1="137.4" y1="407.4" x2="137.4" y2="678.4"/>
<line class="ds" x1="159.7" y1="407.4" x2="159.7" y2="678.4"/>
<line class="ds" x1="181.5" y1="407.4" x2="181.5" y2="678.4"/>
<line class="ds" x1="203.8" y1="486.1" x2="203.8" y2="678.4"/>
<line class="ds" x1="227.8" y1="424.6" x2="227.8" y2="678.4"/>
<line class="d" x1="227.8" y1="414.9" x2="227.8" y2="424.6"/>
<line class="ds" x1="253.9" y1="424.6" x2="253.9" y2="678.4"/>
<line class="d" x1="253.9" y1="414.9" x2="253.9" y2="424.6"/>
<line class="ds" x1="280.4" y1="424.6" x2="280.4" y2="678.4"/>
<line class="d" x1="280.4" y1="414.9" x2="280.4" y2="424.6"/>
<line class="ds" x1="306.2" y1="424.6" x2="306.2" y2="678.4"/>
<line class="d" x1="306.2" y1="414.9" x2="306.2" y2="424.6"/>
<line class="ds" x1="332.5" y1="424.6" x2="332.5" y2="678.4"/>
<line class="d" x1="332.5" y1="414.9" x2="332.5" y2="424.6"/>
<line class="ds" x1="358.2" y1="424.6" x2="358.2" y2="678.4"/>
<line class="d" x1="358.2" y1="414.9" x2="358.2" y2="424.6"/>
<line class="ds" x1="384.6" y1="424.6" x2="384.6" y2="678.4"/>
<line class="d" x1="384.6" y1="414.9" x2="384.6" y2="424.6"/>
<line class="ds" x1="411.2" y1="424.6" x2="411.2" y2="678.4"/>
<line class="d" x1="411.2" y1="414.9" x2="411.2" y2="424.6"/>
<line class="d" x1="438.6" y1="407.4" x2="438.6" y2="424.6"/>
<line class="ds" x1="438.6" y1="424.6" x2="438.6" y2="628.2"/>
<line class="d" x1="465.4" y1="407.4" x2="465.4" y2="424.6"/>
<line class="ds" x1="465.4" y1="424.6" x2="465.4" y2="628.2"/>
<line class="d" x1="492.4" y1="407.4" x2="492.4" y2="424.6"/>
<line class="ds" x1="492.4" y1="424.6" x2="492.4" y2="628.2"/>
<line class="d" x1="519.4" y1="407.4" x2="519.4" y2="424.6"/>
<line class="ds" x1="519.4" y1="424.6" x2="519.4" y2="628.2"/>
<line class="d" x1="545.8" y1="407.4" x2="545.8" y2="424.6"/>
<line class="ds" x1="545.8" y1="424.6" x2="545.8" y2="628.2"/>
<line class="ds" x1="560.2" y1="407.4" x2="560.2" y2="424.6"/>
<line class="ds" x1="77.7" y1="431.4" x2="208.5" y2="431.4"/>
<line class="ds" x1="77.7" y1="436.1" x2="208.5" y2="436.1"/>
<line class="ds" x1="217" y1="481.8" x2="547.5" y2="481.8"/>
<line class="ds" x1="217" y1="486.3" x2="547.5" y2="486.3"/>
<line class="dd" x1="91.6" y1="597.2" x2="396" y2="597.2"/>
<line class="dd" x1="91.6" y1="602.2" x2="396" y2="602.2"/>
<line class="dd" x1="65.3" y1="517.8" x2="573.8" y2="517.8"/>
<line class="d" x1="76.2" y1="376.2" x2="562.7" y2="376.2"/>
<line class="d" x1="77.7" y1="373.2" x2="77.7" y2="379.2"/>
<line class="tk" x1="76.6" y1="377.3" x2="78.8" y2="375.1"/>
<line class="d" x1="561.2" y1="373.2" x2="561.2" y2="379.2"/>
<line class="tk" x1="560.1" y1="377.3" x2="562.3" y2="375.1"/>
<text class="t" x="319.45" y="374.9" text-anchor="middle">19840</text>
<line class="d" x1="76.2" y1="385" x2="562.7" y2="385"/>
<line class="d" x1="77.7" y1="382" x2="77.7" y2="388"/>
<line class="tk" x1="76.6" y1="386.1" x2="78.8" y2="383.9"/>
<line class="d" x1="208.5" y1="382" x2="208.5" y2="388"/>
<line class="tk" x1="207.4" y1="386.1" x2="209.6" y2="383.9"/>
<line class="d" x1="561.2" y1="382" x2="561.2" y2="388"/>
<line class="tk" x1="560.1" y1="386.1" x2="562.3" y2="383.9"/>
<text class="t" x="143.1" y="383.7" text-anchor="middle">5350</text>
<text class="t" x="384.85" y="383.7" text-anchor="middle">14490</text>
<line class="d" x1="207" y1="393.2" x2="562.7" y2="393.2"/>
<line class="d" x1="208.5" y1="390.2" x2="208.5" y2="396.2"/>
<line class="tk" x1="207.4" y1="394.3" x2="209.6" y2="392.1"/>
<line class="d" x1="313.9" y1="390.2" x2="313.9" y2="396.2"/>
<line class="tk" x1="312.8" y1="394.3" x2="315" y2="392.1"/>
<line class="d" x1="335.5" y1="390.2" x2="335.5" y2="396.2"/>
<line class="tk" x1="334.4" y1="394.3" x2="336.6" y2="392.1"/>
<line class="d" x1="561.2" y1="390.2" x2="561.2" y2="396.2"/>
<line class="tk" x1="560.1" y1="394.3" x2="562.3" y2="392.1"/>
<text class="t" x="261.2" y="391.9" text-anchor="middle">4320</text>
<text class="t" x="324.7" y="391.9" text-anchor="middle">900</text>
<text class="t" x="448.35" y="391.9" text-anchor="middle">9270</text>
<text class="t" x="324.7" y="397.6" text-anchor="middle">600 (700)</text>
<line class="d" x1="76.2" y1="692.4" x2="411.5" y2="692.4"/>
<line class="d" x1="77.7" y1="689.4" x2="77.7" y2="695.4"/>
<line class="tk" x1="76.6" y1="693.5" x2="78.8" y2="691.3"/>
<line class="d" x1="197" y1="689.4" x2="197" y2="695.4"/>
<line class="tk" x1="195.9" y1="693.5" x2="198.1" y2="691.3"/>
<line class="d" x1="212.6" y1="689.4" x2="212.6" y2="695.4"/>
<line class="tk" x1="211.5" y1="693.5" x2="213.7" y2="691.3"/>
<line class="d" x1="293.8" y1="689.4" x2="293.8" y2="695.4"/>
<line class="tk" x1="292.7" y1="693.5" x2="294.9" y2="691.3"/>
<line class="d" x1="315.5" y1="689.4" x2="315.5" y2="695.4"/>
<line class="tk" x1="314.4" y1="693.5" x2="316.6" y2="691.3"/>
<line class="d" x1="410" y1="689.4" x2="410" y2="695.4"/>
<line class="tk" x1="408.9" y1="693.5" x2="411.1" y2="691.3"/>
<text class="t" x="137.35" y="691.1" text-anchor="middle">4870</text>
<text class="t" x="204.8" y="691.1" text-anchor="middle">650</text>
<text class="t" x="253.2" y="691.1" text-anchor="middle">3330</text>
<text class="t" x="304.65" y="691.1" text-anchor="middle">900</text>
<text class="t" x="362.75" y="691.1" text-anchor="middle">3880</text>
<text class="t" x="204.8" y="696.8" text-anchor="middle">600 (700)</text>
<text class="t" x="304.65" y="696.8" text-anchor="middle">600 (700)</text>
<line class="d" x1="76.2" y1="700.4" x2="562.7" y2="700.4"/>
<line class="d" x1="77.7" y1="697.4" x2="77.7" y2="703.4"/>
<line class="tk" x1="76.6" y1="701.5" x2="78.8" y2="699.3"/>
<line class="d" x1="410" y1="697.4" x2="410" y2="703.4"/>
<line class="tk" x1="408.9" y1="701.5" x2="411.1" y2="699.3"/>
<line class="d" x1="561.2" y1="697.4" x2="561.2" y2="703.4"/>
<line class="tk" x1="560.1" y1="701.5" x2="562.3" y2="699.3"/>
<text class="t" x="243.85" y="699.1" text-anchor="middle">13620</text>
<text class="t" x="485.6" y="699.1" text-anchor="middle">6220</text>
<line class="d" x1="76.2" y1="708" x2="562.7" y2="708"/>
<line class="d" x1="77.7" y1="705" x2="77.7" y2="711"/>
<line class="tk" x1="76.6" y1="709.1" x2="78.8" y2="706.9"/>
<line class="d" x1="561.2" y1="705" x2="561.2" y2="711"/>
<line class="tk" x1="560.1" y1="709.1" x2="562.3" y2="706.9"/>
<text class="t" x="319.45" y="706.7" text-anchor="middle">19840</text>
<line class="d" x1="56.6" y1="475.8" x2="56.6" y2="669.9"/>
<line class="d" x1="53.6" y1="477.3" x2="59.6" y2="477.3"/>
<line class="tk" x1="55.5" y1="478.4" x2="57.7" y2="476.2"/>
<line class="d" x1="53.6" y1="505.5" x2="59.6" y2="505.5"/>
<line class="tk" x1="55.5" y1="506.6" x2="57.7" y2="504.4"/>
<line class="d" x1="53.6" y1="544.4" x2="59.6" y2="544.4"/>
<line class="tk" x1="55.5" y1="545.5" x2="57.7" y2="543.3"/>
<line class="d" x1="53.6" y1="617.2" x2="59.6" y2="617.2"/>
<line class="tk" x1="55.5" y1="618.3" x2="57.7" y2="616.1"/>
<line class="d" x1="53.6" y1="639.2" x2="59.6" y2="639.2"/>
<line class="tk" x1="55.5" y1="640.3" x2="57.7" y2="638.1"/>
<line class="d" x1="53.6" y1="668.4" x2="59.6" y2="668.4"/>
<line class="tk" x1="55.5" y1="669.5" x2="57.7" y2="667.3"/>
<text class="t" x="55.3" y="491.4" text-anchor="middle" transform="rotate(-90 55.3 491.4)">1160</text>
<text class="t" x="55.3" y="524.95" text-anchor="middle" transform="rotate(-90 55.3 524.95)">1600</text>
<text class="t" x="55.3" y="580.8" text-anchor="middle" transform="rotate(-90 55.3 580.8)">3000</text>
<text class="t" x="55.3" y="628.2" text-anchor="middle" transform="rotate(-90 55.3 628.2)">900</text>
<text class="t" x="55.3" y="653.8" text-anchor="middle" transform="rotate(-90 55.3 653.8)">1200</text>
<text class="t" x="61" y="524.95" text-anchor="middle" transform="rotate(-90 61 524.95)">1200 (900)</text>
<text class="t" x="61" y="628.2" text-anchor="middle" transform="rotate(-90 61 628.2)">600 (900)</text>
<line class="d" x1="48.4" y1="423.1" x2="48.4" y2="669.9"/>
<line class="d" x1="45.4" y1="424.6" x2="51.4" y2="424.6"/>
<line class="tk" x1="47.3" y1="425.7" x2="49.5" y2="423.5"/>
<line class="d" x1="45.4" y1="477.3" x2="51.4" y2="477.3"/>
<line class="tk" x1="47.3" y1="478.4" x2="49.5" y2="476.2"/>
<line class="d" x1="45.4" y1="668.4" x2="51.4" y2="668.4"/>
<line class="tk" x1="47.3" y1="669.5" x2="49.5" y2="667.3"/>
<text class="t" x="47.1" y="450.95" text-anchor="middle" transform="rotate(-90 47.1 450.95)">2150</text>
<text class="t" x="47.1" y="572.85" text-anchor="middle" transform="rotate(-90 47.1 572.85)">7860</text>
<line class="d" x1="39.6" y1="423.1" x2="39.6" y2="669.9"/>
<line class="d" x1="36.6" y1="424.6" x2="42.6" y2="424.6"/>
<line class="tk" x1="38.5" y1="425.7" x2="40.7" y2="423.5"/>
<line class="d" x1="36.6" y1="668.4" x2="42.6" y2="668.4"/>
<line class="tk" x1="38.5" y1="669.5" x2="40.7" y2="667.3"/>
<text class="t" x="38.3" y="546.5" text-anchor="middle" transform="rotate(-90 38.3 546.5)">10010</text>
<line class="d" x1="583" y1="423.1" x2="583" y2="612.5"/>
<line class="d" x1="580" y1="424.6" x2="586" y2="424.6"/>
<line class="tk" x1="581.9" y1="425.7" x2="584.1" y2="423.5"/>
<line class="d" x1="580" y1="467.5" x2="586" y2="467.5"/>
<line class="tk" x1="581.9" y1="468.6" x2="584.1" y2="466.4"/>
<line class="d" x1="580" y1="555.4" x2="586" y2="555.4"/>
<line class="tk" x1="581.9" y1="556.5" x2="584.1" y2="554.3"/>
<line class="d" x1="580" y1="611" x2="586" y2="611"/>
<line class="tk" x1="581.9" y1="612.1" x2="584.1" y2="609.9"/>
<text class="t" x="581.7" y="446.05" text-anchor="middle" transform="rotate(-90 581.7 446.05)">1770</text>
<text class="t" x="581.7" y="511.45" text-anchor="middle" transform="rotate(-90 581.7 511.45)">3600</text>
<text class="t" x="581.7" y="583.2" text-anchor="middle" transform="rotate(-90 581.7 583.2)">2290</text>
<text class="t" x="587.4" y="511.45" text-anchor="middle" transform="rotate(-90 587.4 511.45)">1200 (900)</text>
<line class="d" x1="591.2" y1="423.1" x2="591.2" y2="669.9"/>
<line class="d" x1="588.2" y1="424.6" x2="594.2" y2="424.6"/>
<line class="tk" x1="590.1" y1="425.7" x2="592.3" y2="423.5"/>
<line class="d" x1="588.2" y1="611" x2="594.2" y2="611"/>
<line class="tk" x1="590.1" y1="612.1" x2="592.3" y2="609.9"/>
<line class="d" x1="588.2" y1="668.4" x2="594.2" y2="668.4"/>
<line class="tk" x1="590.1" y1="669.5" x2="592.3" y2="667.3"/>
<text class="t" x="589.9" y="639.7" text-anchor="middle" transform="rotate(-90 589.9 639.7)">2360</text>
<text class="t" x="589.8" y="547" text-anchor="middle" transform="rotate(-90 589.8 547)">7650</text>
<line class="d" x1="599.6" y1="423.1" x2="599.6" y2="669.9"/>
<line class="d" x1="596.6" y1="424.6" x2="602.6" y2="424.6"/>
<line class="tk" x1="598.5" y1="425.7" x2="600.7" y2="423.5"/>
<line class="d" x1="596.6" y1="668.4" x2="602.6" y2="668.4"/>
<line class="tk" x1="598.5" y1="669.5" x2="600.7" y2="667.3"/>
<text class="t" x="598.3" y="546.5" text-anchor="middle" transform="rotate(-90 598.3 546.5)">10010</text>
<line class="d" x1="79.1" y1="442.6" x2="210" y2="442.6"/>
<line class="d" x1="80.6" y1="440.4" x2="80.6" y2="444.8"/>
<line class="tk" x1="79.5" y1="443.7" x2="81.7" y2="441.5"/>
<line class="d" x1="137.6" y1="440.4" x2="137.6" y2="444.8"/>
<line class="tk" x1="136.5" y1="443.7" x2="138.7" y2="441.5"/>
<line class="d" x1="208.5" y1="440.4" x2="208.5" y2="444.8"/>
<line class="tk" x1="207.4" y1="443.7" x2="209.6" y2="441.5"/>
<text class="t" x="109.1" y="441.3" text-anchor="middle">2350</text>
<text class="t" x="173.05" y="441.3" text-anchor="middle">2900</text>
<line class="d" x1="76.2" y1="460.6" x2="210" y2="460.6"/>
<line class="d" x1="77.7" y1="458.4" x2="77.7" y2="462.8"/>
<line class="tk" x1="76.6" y1="461.7" x2="78.8" y2="459.5"/>
<line class="d" x1="208.5" y1="458.4" x2="208.5" y2="462.8"/>
<line class="tk" x1="207.4" y1="461.7" x2="209.6" y2="459.5"/>
<text class="t" x="143.1" y="459.3" text-anchor="middle">5350</text>
<line class="d" x1="76.2" y1="466.8" x2="210" y2="466.8"/>
<line class="d" x1="77.7" y1="464.6" x2="77.7" y2="469"/>
<line class="tk" x1="76.6" y1="467.9" x2="78.8" y2="465.7"/>
<line class="d" x1="144.4" y1="464.6" x2="144.4" y2="469"/>
<line class="tk" x1="143.3" y1="467.9" x2="145.5" y2="465.7"/>
<line class="d" x1="176.2" y1="464.6" x2="176.2" y2="469"/>
<line class="tk" x1="175.1" y1="467.9" x2="177.3" y2="465.7"/>
<line class="d" x1="197" y1="464.6" x2="197" y2="469"/>
<line class="tk" x1="195.9" y1="467.9" x2="198.1" y2="465.7"/>
<line class="d" x1="208.5" y1="464.6" x2="208.5" y2="469"/>
<line class="tk" x1="207.4" y1="467.9" x2="209.6" y2="465.7"/>
<text class="t" x="111.05" y="465.5" text-anchor="middle">2720</text>
<text class="t" x="160.3" y="465.5" text-anchor="middle">1300</text>
<text class="t" x="186.6" y="465.5" text-anchor="middle">860</text>
<text class="t" x="202.75" y="465.5" text-anchor="middle">472</text>
<text class="t" x="160.3" y="471.2" text-anchor="middle">1120 (900)</text>
<text class="t" x="186.6" y="471.2" text-anchor="middle">2020</text>
<line class="d" x1="215.5" y1="448.6" x2="549" y2="448.6"/>
<line class="d" x1="217" y1="446.4" x2="217" y2="450.8"/>
<line class="tk" x1="215.9" y1="449.7" x2="218.1" y2="447.5"/>
<line class="d" x1="313.9" y1="446.4" x2="313.9" y2="450.8"/>
<line class="tk" x1="312.8" y1="449.7" x2="315" y2="447.5"/>
<line class="d" x1="335.5" y1="446.4" x2="335.5" y2="450.8"/>
<line class="tk" x1="334.4" y1="449.7" x2="336.6" y2="447.5"/>
<line class="d" x1="547.5" y1="446.4" x2="547.5" y2="450.8"/>
<line class="tk" x1="546.4" y1="449.7" x2="548.6" y2="447.5"/>
<text class="t" x="265.45" y="447.3" text-anchor="middle">3950</text>
<text class="t" x="324.7" y="447.3" text-anchor="middle">900</text>
<text class="t" x="441.5" y="447.3" text-anchor="middle">8700</text>
<line class="d" x1="90.1" y1="511.4" x2="218.5" y2="511.4"/>
<line class="d" x1="91.6" y1="509.2" x2="91.6" y2="513.6"/>
<line class="tk" x1="90.5" y1="512.5" x2="92.7" y2="510.3"/>
<line class="d" x1="217" y1="509.2" x2="217" y2="513.6"/>
<line class="tk" x1="215.9" y1="512.5" x2="218.1" y2="510.3"/>
<text class="t" x="154.3" y="510.1" text-anchor="middle">5100</text>
<line class="d" x1="215.5" y1="511.8" x2="549" y2="511.8"/>
<line class="d" x1="217" y1="509.6" x2="217" y2="514"/>
<line class="tk" x1="215.9" y1="512.9" x2="218.1" y2="510.7"/>
<line class="d" x1="547.5" y1="509.6" x2="547.5" y2="514"/>
<line class="tk" x1="546.4" y1="512.9" x2="548.6" y2="510.7"/>
<text class="t" x="425" y="510.4" text-anchor="middle">13550</text>
<line class="d" x1="90.1" y1="555.8" x2="223.7" y2="555.8"/>
<line class="d" x1="91.6" y1="553.6" x2="91.6" y2="558"/>
<line class="tk" x1="90.5" y1="556.9" x2="92.7" y2="554.7"/>
<line class="d" x1="207.4" y1="553.6" x2="207.4" y2="558"/>
<line class="tk" x1="206.3" y1="556.9" x2="208.5" y2="554.7"/>
<line class="d" x1="222.2" y1="553.6" x2="222.2" y2="558"/>
<line class="tk" x1="221.1" y1="556.9" x2="223.3" y2="554.7"/>
<text class="t" x="149.5" y="554.5" text-anchor="middle">4750</text>
<text class="t" x="214.8" y="554.5" text-anchor="middle">600</text>
<line class="d" x1="220.7" y1="555.6" x2="549" y2="555.6"/>
<line class="d" x1="222.2" y1="553.4" x2="222.2" y2="557.8"/>
<line class="tk" x1="221.1" y1="556.7" x2="223.3" y2="554.5"/>
<line class="d" x1="547.5" y1="553.4" x2="547.5" y2="557.8"/>
<line class="tk" x1="546.4" y1="556.7" x2="548.6" y2="554.5"/>
<text class="t" x="425" y="554.2" text-anchor="middle">13350</text>
<line class="d" x1="90.1" y1="563" x2="549" y2="563"/>
<line class="d" x1="91.6" y1="560.8" x2="91.6" y2="565.2"/>
<line class="tk" x1="90.5" y1="564.1" x2="92.7" y2="561.9"/>
<line class="d" x1="547.5" y1="560.8" x2="547.5" y2="565.2"/>
<line class="tk" x1="546.4" y1="564.1" x2="548.6" y2="561.9"/>
<text class="t" x="319.55" y="561.7" text-anchor="middle">18700</text>
<line class="d" x1="90.1" y1="589.6" x2="397.5" y2="589.6"/>
<line class="d" x1="91.6" y1="587.4" x2="91.6" y2="591.8"/>
<line class="tk" x1="90.5" y1="590.7" x2="92.7" y2="588.5"/>
<line class="d" x1="138.2" y1="587.4" x2="138.2" y2="591.8"/>
<line class="tk" x1="137.1" y1="590.7" x2="139.3" y2="588.5"/>
<line class="d" x1="152.3" y1="587.4" x2="152.3" y2="591.8"/>
<line class="tk" x1="151.2" y1="590.7" x2="153.4" y2="588.5"/>
<line class="d" x1="158" y1="587.4" x2="158" y2="591.8"/>
<line class="tk" x1="156.9" y1="590.7" x2="159.1" y2="588.5"/>
<line class="d" x1="166.9" y1="587.4" x2="166.9" y2="591.8"/>
<line class="tk" x1="165.8" y1="590.7" x2="168" y2="588.5"/>
<line class="d" x1="222.3" y1="587.4" x2="222.3" y2="591.8"/>
<line class="tk" x1="221.2" y1="590.7" x2="223.4" y2="588.5"/>
<line class="d" x1="310.6" y1="587.4" x2="310.6" y2="591.8"/>
<line class="tk" x1="309.5" y1="590.7" x2="311.7" y2="588.5"/>
<line class="d" x1="315.5" y1="587.4" x2="315.5" y2="591.8"/>
<line class="tk" x1="314.4" y1="590.7" x2="316.6" y2="588.5"/>
<line class="d" x1="396" y1="587.4" x2="396" y2="591.8"/>
<line class="tk" x1="394.9" y1="590.7" x2="397.1" y2="588.5"/>
<text class="t" x="114.9" y="588.3" text-anchor="middle">1900</text>
<text class="t" x="145.25" y="588.3" text-anchor="middle">600</text>
<text class="t" x="162.45" y="588.3" text-anchor="middle">400</text>
<text class="t" x="194.6" y="588.3" text-anchor="middle">2250</text>
<text class="t" x="266.45" y="588.3" text-anchor="middle">3620</text>
<text class="t" x="313.05" y="588.3" text-anchor="middle">200</text>
<text class="t" x="355.75" y="588.3" text-anchor="middle">3300</text>
<line class="d" x1="90.1" y1="644.6" x2="397.5" y2="644.6"/>
<line class="d" x1="91.6" y1="642.4" x2="91.6" y2="646.8"/>
<line class="tk" x1="90.5" y1="645.7" x2="92.7" y2="643.5"/>
<line class="d" x1="197" y1="642.4" x2="197" y2="646.8"/>
<line class="tk" x1="195.9" y1="645.7" x2="198.1" y2="643.5"/>
<line class="d" x1="212.6" y1="642.4" x2="212.6" y2="646.8"/>
<line class="tk" x1="211.5" y1="645.7" x2="213.7" y2="643.5"/>
<line class="d" x1="293.8" y1="642.4" x2="293.8" y2="646.8"/>
<line class="tk" x1="292.7" y1="645.7" x2="294.9" y2="643.5"/>
<line class="d" x1="315.5" y1="642.4" x2="315.5" y2="646.8"/>
<line class="tk" x1="314.4" y1="645.7" x2="316.6" y2="643.5"/>
<line class="d" x1="396" y1="642.4" x2="396" y2="646.8"/>
<line class="tk" x1="394.9" y1="645.7" x2="397.1" y2="643.5"/>
<text class="t" x="144.3" y="643.3" text-anchor="middle">4300</text>
<text class="t" x="204.8" y="643.3" text-anchor="middle">650</text>
<text class="t" x="253.2" y="643.3" text-anchor="middle">3320</text>
<text class="t" x="304.65" y="643.3" text-anchor="middle">900</text>
<text class="t" x="355.75" y="643.3" text-anchor="middle">3300</text>
<line class="d" x1="408.5" y1="589.2" x2="549" y2="589.2"/>
<line class="d" x1="410" y1="587" x2="410" y2="591.4"/>
<line class="tk" x1="408.9" y1="590.3" x2="411.1" y2="588.1"/>
<line class="d" x1="547.5" y1="587" x2="547.5" y2="591.4"/>
<line class="tk" x1="546.4" y1="590.3" x2="548.6" y2="588.1"/>
<text class="t" x="472" y="587.8" text-anchor="middle">6220</text>
<line class="ds" x1="560.2" y1="611" x2="560.2" y2="628.2"/>
<line class="d" x1="130.6" y1="423.1" x2="130.6" y2="478.8"/>
<line class="d" x1="128.4" y1="424.6" x2="132.8" y2="424.6"/>
<line class="tk" x1="129.5" y1="425.7" x2="131.7" y2="423.5"/>
<line class="d" x1="128.4" y1="477.3" x2="132.8" y2="477.3"/>
<line class="tk" x1="129.5" y1="478.4" x2="131.7" y2="476.2"/>
<text class="t" x="129.3" y="450.95" text-anchor="middle" transform="rotate(-90 129.3 450.95)">2350</text>
<line class="d" x1="130.6" y1="484.6" x2="130.6" y2="598.5"/>
<line class="d" x1="128.4" y1="486.1" x2="132.8" y2="486.1"/>
<line class="tk" x1="129.5" y1="487.2" x2="131.7" y2="485"/>
<line class="d" x1="128.4" y1="597" x2="132.8" y2="597"/>
<line class="tk" x1="129.5" y1="598.1" x2="131.7" y2="595.9"/>
<text class="t" x="129.3" y="541.55" text-anchor="middle" transform="rotate(-90 129.3 541.55)">4560</text>
<line class="d" x1="130.6" y1="595.5" x2="130.6" y2="656.1"/>
<line class="d" x1="128.4" y1="597" x2="132.8" y2="597"/>
<line class="tk" x1="129.5" y1="598.1" x2="131.7" y2="595.9"/>
<line class="d" x1="128.4" y1="602.2" x2="132.8" y2="602.2"/>
<line class="tk" x1="129.5" y1="603.3" x2="131.7" y2="601.1"/>
<line class="d" x1="128.4" y1="654.6" x2="132.8" y2="654.6"/>
<line class="tk" x1="129.5" y1="655.7" x2="131.7" y2="653.5"/>
<text class="t" x="129.3" y="628.4" text-anchor="middle" transform="rotate(-90 129.3 628.4)">2180</text>
<line class="d" x1="104" y1="484.6" x2="104" y2="598.5"/>
<line class="d" x1="101.8" y1="486.1" x2="106.2" y2="486.1"/>
<line class="tk" x1="102.9" y1="487.2" x2="105.1" y2="485"/>
<line class="d" x1="101.8" y1="505.5" x2="106.2" y2="505.5"/>
<line class="tk" x1="102.9" y1="506.6" x2="105.1" y2="504.4"/>
<line class="d" x1="101.8" y1="544.4" x2="106.2" y2="544.4"/>
<line class="tk" x1="102.9" y1="545.5" x2="105.1" y2="543.3"/>
<line class="d" x1="101.8" y1="597" x2="106.2" y2="597"/>
<line class="tk" x1="102.9" y1="598.1" x2="105.1" y2="595.9"/>
<text class="t" x="102.7" y="495.8" text-anchor="middle" transform="rotate(-90 102.7 495.8)">800</text>
<text class="t" x="102.7" y="524.95" text-anchor="middle" transform="rotate(-90 102.7 524.95)">1600</text>
<text class="t" x="102.7" y="570.7" text-anchor="middle" transform="rotate(-90 102.7 570.7)">2180</text>
<line class="d" x1="104" y1="595.5" x2="104" y2="656.1"/>
<line class="d" x1="101.8" y1="597" x2="106.2" y2="597"/>
<line class="tk" x1="102.9" y1="598.1" x2="105.1" y2="595.9"/>
<line class="d" x1="101.8" y1="602.2" x2="106.2" y2="602.2"/>
<line class="tk" x1="102.9" y1="603.3" x2="105.1" y2="601.1"/>
<line class="d" x1="101.8" y1="617.2" x2="106.2" y2="617.2"/>
<line class="tk" x1="102.9" y1="618.3" x2="105.1" y2="616.1"/>
<line class="d" x1="101.8" y1="639.2" x2="106.2" y2="639.2"/>
<line class="tk" x1="102.9" y1="640.3" x2="105.1" y2="638.1"/>
<line class="d" x1="101.8" y1="654.6" x2="106.2" y2="654.6"/>
<line class="tk" x1="102.9" y1="655.7" x2="105.1" y2="653.5"/>
<text class="t" x="102.7" y="609.7" text-anchor="middle" transform="rotate(-90 102.7 609.7)">630</text>
<text class="t" x="102.7" y="628.2" text-anchor="middle" transform="rotate(-90 102.7 628.2)">900</text>
<text class="t" x="102.7" y="646.9" text-anchor="middle" transform="rotate(-90 102.7 646.9)">630</text>
<line class="d" x1="246" y1="437.1" x2="246" y2="487.7"/>
<line class="d" x1="243.8" y1="438.6" x2="248.2" y2="438.6"/>
<line class="tk" x1="244.9" y1="439.7" x2="247.1" y2="437.5"/>
<line class="d" x1="243.8" y1="486.2" x2="248.2" y2="486.2"/>
<line class="tk" x1="244.9" y1="487.3" x2="247.1" y2="485.1"/>
<text class="t" x="244.7" y="462.4" text-anchor="middle" transform="rotate(-90 244.7 462.4)">2200</text>
<line class="d" x1="234" y1="442.9" x2="234" y2="487.7"/>
<line class="d" x1="231.8" y1="444.4" x2="236.2" y2="444.4"/>
<line class="tk" x1="232.9" y1="445.5" x2="235.1" y2="443.3"/>
<line class="d" x1="231.8" y1="473" x2="236.2" y2="473"/>
<line class="tk" x1="232.9" y1="474.1" x2="235.1" y2="471.9"/>
<line class="d" x1="231.8" y1="486.2" x2="236.2" y2="486.2"/>
<line class="tk" x1="232.9" y1="487.3" x2="235.1" y2="485.1"/>
<text class="t" x="232.7" y="458.7" text-anchor="middle" transform="rotate(-90 232.7 458.7)">1750</text>
<text class="t" x="232.7" y="479.6" text-anchor="middle" transform="rotate(-90 232.7 479.6)">560</text>
<text class="t" x="238.4" y="458.7" text-anchor="middle" transform="rotate(-90 238.4 458.7)">(1100-900) (600)</text>
<line class="d" x1="246" y1="518.5" x2="246" y2="549.5"/>
<line class="d" x1="243.8" y1="520" x2="248.2" y2="520"/>
<line class="tk" x1="244.9" y1="521.1" x2="247.1" y2="518.9"/>
<line class="d" x1="243.8" y1="548" x2="248.2" y2="548"/>
<line class="tk" x1="244.9" y1="549.1" x2="247.1" y2="546.9"/>
<text class="t" x="244.7" y="534" text-anchor="middle" transform="rotate(-90 244.7 534)">600</text>
<line class="d" x1="247.3" y1="561.5" x2="247.3" y2="598.5"/>
<line class="d" x1="245.1" y1="563" x2="249.5" y2="563"/>
<line class="tk" x1="246.2" y1="564.1" x2="248.4" y2="561.9"/>
<line class="d" x1="245.1" y1="597" x2="249.5" y2="597"/>
<line class="tk" x1="246.2" y1="598.1" x2="248.4" y2="595.9"/>
<text class="t" x="246" y="580" text-anchor="middle" transform="rotate(-90 246 580)">4940</text>
<line class="d" x1="296.2" y1="437.1" x2="296.2" y2="598.5"/>
<line class="d" x1="294" y1="438.6" x2="298.4" y2="438.6"/>
<line class="tk" x1="295.1" y1="439.7" x2="297.3" y2="437.5"/>
<line class="d" x1="294" y1="597" x2="298.4" y2="597"/>
<line class="tk" x1="295.1" y1="598.1" x2="297.3" y2="595.9"/>
<text class="t" x="294.8" y="534" text-anchor="middle" transform="rotate(-90 294.8 534)">6510</text>
<line class="d" x1="346.2" y1="437.1" x2="346.2" y2="598.5"/>
<line class="d" x1="344" y1="438.6" x2="348.4" y2="438.6"/>
<line class="tk" x1="345.1" y1="439.7" x2="347.3" y2="437.5"/>
<line class="d" x1="344" y1="597" x2="348.4" y2="597"/>
<line class="tk" x1="345.1" y1="598.1" x2="347.3" y2="595.9"/>
<text class="t" x="344.8" y="534" text-anchor="middle" transform="rotate(-90 344.8 534)">6670</text>
<line class="d" x1="296" y1="600.7" x2="296" y2="656.1"/>
<line class="d" x1="293.8" y1="602.2" x2="298.2" y2="602.2"/>
<line class="tk" x1="294.9" y1="603.3" x2="297.1" y2="601.1"/>
<line class="d" x1="293.8" y1="654.6" x2="298.2" y2="654.6"/>
<line class="tk" x1="294.9" y1="655.7" x2="297.1" y2="653.5"/>
<text class="t" x="294.7" y="628.4" text-anchor="middle" transform="rotate(-90 294.7 628.4)">2180</text>
<line class="d" x1="504" y1="437.1" x2="504" y2="598.5"/>
<line class="d" x1="501.8" y1="438.6" x2="506.2" y2="438.6"/>
<line class="tk" x1="502.9" y1="439.7" x2="505.1" y2="437.5"/>
<line class="d" x1="501.8" y1="597" x2="506.2" y2="597"/>
<line class="tk" x1="502.9" y1="598.1" x2="505.1" y2="595.9"/>
<text class="t" x="502.6" y="525" text-anchor="middle" transform="rotate(-90 502.6 525)">6510</text>
<line class="d" x1="537.2" y1="437.1" x2="537.2" y2="598.5"/>
<line class="d" x1="535" y1="438.6" x2="539.4" y2="438.6"/>
<line class="tk" x1="536.1" y1="439.7" x2="538.3" y2="437.5"/>
<line class="d" x1="535" y1="467.5" x2="539.4" y2="467.5"/>
<line class="tk" x1="536.1" y1="468.6" x2="538.3" y2="466.4"/>
<line class="d" x1="535" y1="555.4" x2="539.4" y2="555.4"/>
<line class="tk" x1="536.1" y1="556.5" x2="538.3" y2="554.3"/>
<line class="d" x1="535" y1="597" x2="539.4" y2="597"/>
<line class="tk" x1="536.1" y1="598.1" x2="538.3" y2="595.9"/>
<text class="t" x="535.9" y="453.05" text-anchor="middle" transform="rotate(-90 535.9 453.05)">1200</text>
<text class="t" x="535.9" y="511.45" text-anchor="middle" transform="rotate(-90 535.9 511.45)">3600</text>
<text class="t" x="535.9" y="576.2" text-anchor="middle" transform="rotate(-90 535.9 576.2)">1710</text>
<rect class="wl2" x="77.7" y="424.6" width="130.8" height="52.7"/>
<rect class="col" x="77.9" y="431.2" width="5.2" height="5.2"/>
<circle class="th" cx="80.5" cy="433.8" r="1.1"/>
<rect class="col" x="135" y="431.2" width="5.2" height="5.2"/>
<circle class="th" cx="137.6" cy="433.8" r="1.1"/>
<polygon class="wf" points="208.5,424.6 313.9,424.6 313.9,438.6 217,438.6 217,444.4 208.5,444.4"/>
<polygon class="wf" points="335.5,424.6 561.2,424.6 561.2,467.5 547.5,467.5 547.5,438.6 335.5,438.6"/>
<polygon class="wf" points="547.5,555.4 561.2,555.4 561.2,611 410,611 410,668.4 315.5,668.4 315.5,654.6 396,654.6 396,597 547.5,597"/>
<polygon class="wf" points="212.6,654.6 293.8,654.6 293.8,668.4 212.6,668.4"/>
<polygon class="wf" points="77.7,639.2 91.6,639.2 91.6,654.6 197,654.6 197,668.4 77.7,668.4"/>
<polygon class="wf" points="77.7,544.4 91.6,544.4 91.6,617.2 77.7,617.2"/>
<polygon class="wf" points="77.7,477.3 144.4,477.3 144.4,486.1 91.6,486.1 91.6,505.5 77.7,505.5"/>
<polygon class="wf" points="197,477.3 208.5,477.3 208.5,473 217,473 217,486.1 197,486.1"/>
<clipPath id="cx2"><polygon points="208.5,424.6 313.9,424.6 313.9,438.6 217,438.6 217,444.4 208.5,444.4"/><polygon points="335.5,424.6 561.2,424.6 561.2,467.5 547.5,467.5 547.5,438.6 335.5,438.6"/><polygon points="547.5,555.4 561.2,555.4 561.2,611 410,611 410,668.4 315.5,668.4 315.5,654.6 396,654.6 396,597 547.5,597"/><polygon points="212.6,654.6 293.8,654.6 293.8,668.4 212.6,668.4"/><polygon points="77.7,639.2 91.6,639.2 91.6,654.6 197,654.6 197,668.4 77.7,668.4"/><polygon points="77.7,544.4 91.6,544.4 91.6,617.2 77.7,617.2"/><polygon points="77.7,477.3 144.4,477.3 144.4,486.1 91.6,486.1 91.6,505.5 77.7,505.5"/><polygon points="197,477.3 208.5,477.3 208.5,473 217,473 217,486.1 197,486.1"/></clipPath>
<path class="hx" clip-path="url(#cx2)" d="M-171.75 422L77.25 671M-166.25 422L82.75 671M-160.75 422L88.25 671M-155.25 422L93.75 671M-149.75 422L99.25 671M-144.25 422L104.75 671M-138.75 422L110.25 671M-133.25 422L115.75 671M-127.75 422L121.25 671M-122.25 422L126.75 671M-116.75 422L132.25 671M-111.25 422L137.75 671M-105.75 422L143.25 671M-100.25 422L148.75 671M-94.75 422L154.25 671M-89.25 422L159.75 671M-83.75 422L165.25 671M-78.25 422L170.75 671M-72.75 422L176.25 671M-67.25 422L181.75 671M-61.75 422L187.25 671M-56.25 422L192.75 671M-50.75 422L198.25 671M-45.25 422L203.75 671M-39.75 422L209.25 671M-34.25 422L214.75 671M-28.75 422L220.25 671M-23.25 422L225.75 671M-17.75 422L231.25 671M-12.25 422L236.75 671M-6.75 422L242.25 671M-1.25 422L247.75 671M4.25 422L253.25 671M9.75 422L258.75 671M15.25 422L264.25 671M20.75 422L269.75 671M26.25 422L275.25 671M31.75 422L280.75 671M37.25 422L286.25 671M42.75 422L291.75 671M48.25 422L297.25 671M53.75 422L302.75 671M59.25 422L308.25 671M64.75 422L313.75 671M70.25 422L319.25 671M75.75 422L324.75 671M81.25 422L330.25 671M86.75 422L335.75 671M92.25 422L341.25 671M97.75 422L346.75 671M103.25 422L352.25 671M108.75 422L357.75 671M114.25 422L363.25 671M119.75 422L368.75 671M125.25 422L374.25 671M130.75 422L379.75 671M136.25 422L385.25 671M141.75 422L390.75 671M147.25 422L396.25 671M152.75 422L401.75 671M158.25 422L407.25 671M163.75 422L412.75 671M169.25 422L418.25 671M174.75 422L423.75 671M180.25 422L429.25 671M185.75 422L434.75 671M191.25 422L440.25 671M196.75 422L445.75 671M202.25 422L451.25 671M207.75 422L456.75 671M213.25 422L462.25 671M218.75 422L467.75 671M224.25 422L473.25 671M229.75 422L478.75 671M235.25 422L484.25 671M240.75 422L489.75 671M246.25 422L495.25 671M251.75 422L500.75 671M257.25 422L506.25 671M262.75 422L511.75 671M268.25 422L517.25 671M273.75 422L522.75 671M279.25 422L528.25 671M284.75 422L533.75 671M290.25 422L539.25 671M295.75 422L544.75 671M301.25 422L550.25 671M306.75 422L555.75 671M312.25 422L561.25 671M317.75 422L566.75 671M323.25 422L572.25 671M328.75 422L577.75 671M334.25 422L583.25 671M339.75 422L588.75 671M345.25 422L594.25 671M350.75 422L599.75 671M356.25 422L605.25 671M361.75 422L610.75 671M367.25 422L616.25 671M372.75 422L621.75 671M378.25 422L627.25 671M383.75 422L632.75 671M389.25 422L638.25 671M394.75 422L643.75 671M400.25 422L649.25 671M405.75 422L654.75 671M411.25 422L660.25 671M416.75 422L665.75 671M422.25 422L671.25 671M427.75 422L676.75 671M433.25 422L682.25 671M438.75 422L687.75 671M444.25 422L693.25 671M449.75 422L698.75 671M455.25 422L704.25 671M460.75 422L709.75 671M466.25 422L715.25 671M471.75 422L720.75 671M477.25 422L726.25 671M482.75 422L731.75 671M488.25 422L737.25 671M493.75 422L742.75 671M499.25 422L748.25 671M504.75 422L753.75 671M510.25 422L759.25 671M515.75 422L764.75 671M521.25 422L770.25 671M526.75 422L775.75 671M532.25 422L781.25 671M537.75 422L786.75 671M543.25 422L792.25 671M548.75 422L797.75 671M554.25 422L803.25 671M559.75 422L808.75 671M78.75 422L-170.25 671M84.25 422L-164.75 671M89.75 422L-159.25 671M95.25 422L-153.75 671M100.75 422L-148.25 671M106.25 422L-142.75 671M111.75 422L-137.25 671M117.25 422L-131.75 671M122.75 422L-126.25 671M128.25 422L-120.75 671M133.75 422L-115.25 671M139.25 422L-109.75 671M144.75 422L-104.25 671M150.25 422L-98.75 671M155.75 422L-93.25 671M161.25 422L-87.75 671M166.75 422L-82.25 671M172.25 422L-76.75 671M177.75 422L-71.25 671M183.25 422L-65.75 671M188.75 422L-60.25 671M194.25 422L-54.75 671M199.75 422L-49.25 671M205.25 422L-43.75 671M210.75 422L-38.25 671M216.25 422L-32.75 671M221.75 422L-27.25 671M227.25 422L-21.75 671M232.75 422L-16.25 671M238.25 422L-10.75 671M243.75 422L-5.25 671M249.25 422L0.25 671M254.75 422L5.75 671M260.25 422L11.25 671M265.75 422L16.75 671M271.25 422L22.25 671M276.75 422L27.75 671M282.25 422L33.25 671M287.75 422L38.75 671M293.25 422L44.25 671M298.75 422L49.75 671M304.25 422L55.25 671M309.75 422L60.75 671M315.25 422L66.25 671M320.75 422L71.75 671M326.25 422L77.25 671M331.75 422L82.75 671M337.25 422L88.25 671M342.75 422L93.75 671M348.25 422L99.25 671M353.75 422L104.75 671M359.25 422L110.25 671M364.75 422L115.75 671M370.25 422L121.25 671M375.75 422L126.75 671M381.25 422L132.25 671M386.75 422L137.75 671M392.25 422L143.25 671M397.75 422L148.75 671M403.25 422L154.25 671M408.75 422L159.75 671M414.25 422L165.25 671M419.75 422L170.75 671M425.25 422L176.25 671M430.75 422L181.75 671M436.25 422L187.25 671M441.75 422L192.75 671M447.25 422L198.25 671M452.75 422L203.75 671M458.25 422L209.25 671M463.75 422L214.75 671M469.25 422L220.25 671M474.75 422L225.75 671M480.25 422L231.25 671M485.75 422L236.75 671M491.25 422L242.25 671M496.75 422L247.75 671M502.25 422L253.25 671M507.75 422L258.75 671M513.25 422L264.25 671M518.75 422L269.75 671M524.25 422L275.25 671M529.75 422L280.75 671M535.25 422L286.25 671M540.75 422L291.75 671M546.25 422L297.25 671M551.75 422L302.75 671M557.25 422L308.25 671M562.75 422L313.75 671M568.25 422L319.25 671M573.75 422L324.75 671M579.25 422L330.25 671M584.75 422L335.75 671M590.25 422L341.25 671M595.75 422L346.75 671M601.25 422L352.25 671M606.75 422L357.75 671M612.25 422L363.25 671M617.75 422L368.75 671M623.25 422L374.25 671M628.75 422L379.75 671M634.25 422L385.25 671M639.75 422L390.75 671M645.25 422L396.25 671M650.75 422L401.75 671M656.25 422L407.25 671M661.75 422L412.75 671M667.25 422L418.25 671M672.75 422L423.75 671M678.25 422L429.25 671M683.75 422L434.75 671M689.25 422L440.25 671M694.75 422L445.75 671M700.25 422L451.25 671M705.75 422L456.75 671M711.25 422L462.25 671M716.75 422L467.75 671M722.25 422L473.25 671M727.75 422L478.75 671M733.25 422L484.25 671M738.75 422L489.75 671M744.25 422L495.25 671M749.75 422L500.75 671M755.25 422L506.25 671M760.75 422L511.75 671M766.25 422L517.25 671M771.75 422L522.75 671M777.25 422L528.25 671M782.75 422L533.75 671M788.25 422L539.25 671M793.75 422L544.75 671M799.25 422L550.25 671M804.75 422L555.75 671M810.25 422L561.25 671"/>
<mask id="mi2" maskUnits="userSpaceOnUse" x="75" y="422" width="489" height="249">
<polyline class="mk" points="210,444.4 210,426.1 313.9,426.1"/>
<polyline class="mk" points="335.5,426.1 559.7,426.1 559.7,467.5"/>
<polyline class="mk" points="559.7,555.4 559.7,609.5 408.5,609.5 408.5,666.9 315.5,666.9"/>
<polyline class="mk" points="212.6,666.9 293.8,666.9"/>
<polyline class="mk" points="79.2,639.2 79.2,666.9 197,666.9"/>
<polyline class="mk" points="79.2,544.4 79.2,617.2"/>
<polyline class="mk" points="79.2,505.5 79.2,478.8 144.4,478.8"/>
<polyline class="mk" points="197,478.8 210,478.8 210,473"/>
</mask>
<g mask="url(#mi2)"><rect x="75" y="422" width="489" height="249" fill="#fff"/><path class="he" d="M-174 422L75 671M-172 422L77 671M-170 422L79 671M-168 422L81 671M-166 422L83 671M-164 422L85 671M-162 422L87 671M-160 422L89 671M-158 422L91 671M-156 422L93 671M-154 422L95 671M-152 422L97 671M-150 422L99 671M-148 422L101 671M-146 422L103 671M-144 422L105 671M-142 422L107 671M-140 422L109 671M-138 422L111 671M-136 422L113 671M-134 422L115 671M-132 422L117 671M-130 422L119 671M-128 422L121 671M-126 422L123 671M-124 422L125 671M-122 422L127 671M-120 422L129 671M-118 422L131 671M-116 422L133 671M-114 422L135 671M-112 422L137 671M-110 422L139 671M-108 422L141 671M-106 422L143 671M-104 422L145 671M-102 422L147 671M-100 422L149 671M-98 422L151 671M-96 422L153 671M-94 422L155 671M-92 422L157 671M-90 422L159 671M-88 422L161 671M-86 422L163 671M-84 422L165 671M-82 422L167 671M-80 422L169 671M-78 422L171 671M-76 422L173 671M-74 422L175 671M-72 422L177 671M-70 422L179 671M-68 422L181 671M-66 422L183 671M-64 422L185 671M-62 422L187 671M-60 422L189 671M-58 422L191 671M-56 422L193 671M-54 422L195 671M-52 422L197 671M-50 422L199 671M-48 422L201 671M-46 422L203 671M-44 422L205 671M-42 422L207 671M-40 422L209 671M-38 422L211 671M-36 422L213 671M-34 422L215 671M-32 422L217 671M-30 422L219 671M-28 422L221 671M-26 422L223 671M-24 422L225 671M-22 422L227 671M-20 422L229 671M-18 422L231 671M-16 422L233 671M-14 422L235 671M-12 422L237 671M-10 422L239 671M-8 422L241 671M-6 422L243 671M-4 422L245 671M-2 422L247 671M0 422L249 671M2 422L251 671M4 422L253 671M6 422L255 671M8 422L257 671M10 422L259 671M12 422L261 671M14 422L263 671M16 422L265 671M18 422L267 671M20 422L269 671M22 422L271 671M24 422L273 671M26 422L275 671M28 422L277 671M30 422L279 671M32 422L281 671M34 422L283 671M36 422L285 671M38 422L287 671M40 422L289 671M42 422L291 671M44 422L293 671M46 422L295 671M48 422L297 671M50 422L299 671M52 422L301 671M54 422L303 671M56 422L305 671M58 422L307 671M60 422L309 671M62 422L311 671M64 422L313 671M66 422L315 671M68 422L317 671M70 422L319 671M72 422L321 671M74 422L323 671M76 422L325 671M78 422L327 671M80 422L329 671M82 422L331 671M84 422L333 671M86 422L335 671M88 422L337 671M90 422L339 671M92 422L341 671M94 422L343 671M96 422L345 671M98 422L347 671M100 422L349 671M102 422L351 671M104 422L353 671M106 422L355 671M108 422L357 671M110 422L359 671M112 422L361 671M114 422L363 671M116 422L365 671M118 422L367 671M120 422L369 671M122 422L371 671M124 422L373 671M126 422L375 671M128 422L377 671M130 422L379 671M132 422L381 671M134 422L383 671M136 422L385 671M138 422L387 671M140 422L389 671M142 422L391 671M144 422L393 671M146 422L395 671M148 422L397 671M150 422L399 671M152 422L401 671M154 422L403 671M156 422L405 671M158 422L407 671M160 422L409 671M162 422L411 671M164 422L413 671M166 422L415 671M168 422L417 671M170 422L419 671M172 422L421 671M174 422L423 671M176 422L425 671M178 422L427 671M180 422L429 671M182 422L431 671M184 422L433 671M186 422L435 671M188 422L437 671M190 422L439 671M192 422L441 671M194 422L443 671M196 422L445 671M198 422L447 671M200 422L449 671M202 422L451 671M204 422L453 671M206 422L455 671M208 422L457 671M210 422L459 671M212 422L461 671M214 422L463 671M216 422L465 671M218 422L467 671M220 422L469 671M222 422L471 671M224 422L473 671M226 422L475 671M228 422L477 671M230 422L479 671M232 422L481 671M234 422L483 671M236 422L485 671M238 422L487 671M240 422L489 671M242 422L491 671M244 422L493 671M246 422L495 671M248 422L497 671M250 422L499 671M252 422L501 671M254 422L503 671M256 422L505 671M258 422L507 671M260 422L509 671M262 422L511 671M264 422L513 671M266 422L515 671M268 422L517 671M270 422L519 671M272 422L521 671M274 422L523 671M276 422L525 671M278 422L527 671M280 422L529 671M282 422L531 671M284 422L533 671M286 422L535 671M288 422L537 671M290 422L539 671M292 422L541 671M294 422L543 671M296 422L545 671M298 422L547 671M300 422L549 671M302 422L551 671M304 422L553 671M306 422L555 671M308 422L557 671M310 422L559 671M312 422L561 671M314 422L563 671M316 422L565 671M318 422L567 671M320 422L569 671M322 422L571 671M324 422L573 671M326 422L575 671M328 422L577 671M330 422L579 671M332 422L581 671M334 422L583 671M336 422L585 671M338 422L587 671M340 422L589 671M342 422L591 671M344 422L593 671M346 422L595 671M348 422L597 671M350 422L599 671M352 422L601 671M354 422L603 671M356 422L605 671M358 422L607 671M360 422L609 671M362 422L611 671M364 422L613 671M366 422L615 671M368 422L617 671M370 422L619 671M372 422L621 671M374 422L623 671M376 422L625 671M378 422L627 671M380 422L629 671M382 422L631 671M384 422L633 671M386 422L635 671M388 422L637 671M390 422L639 671M392 422L641 671M394 422L643 671M396 422L645 671M398 422L647 671M400 422L649 671M402 422L651 671M404 422L653 671M406 422L655 671M408 422L657 671M410 422L659 671M412 422L661 671M414 422L663 671M416 422L665 671M418 422L667 671M420 422L669 671M422 422L671 671M424 422L673 671M426 422L675 671M428 422L677 671M430 422L679 671M432 422L681 671M434 422L683 671M436 422L685 671M438 422L687 671M440 422L689 671M442 422L691 671M444 422L693 671M446 422L695 671M448 422L697 671M450 422L699 671M452 422L701 671M454 422L703 671M456 422L705 671M458 422L707 671M460 422L709 671M462 422L711 671M464 422L713 671M466 422L715 671M468 422L717 671M470 422L719 671M472 422L721 671M474 422L723 671M476 422L725 671M478 422L727 671M480 422L729 671M482 422L731 671M484 422L733 671M486 422L735 671M488 422L737 671M490 422L739 671M492 422L741 671M494 422L743 671M496 422L745 671M498 422L747 671M500 422L749 671M502 422L751 671M504 422L753 671M506 422L755 671M508 422L757 671M510 422L759 671M512 422L761 671M514 422L763 671M516 422L765 671M518 422L767 671M520 422L769 671M522 422L771 671M524 422L773 671M526 422L775 671M528 422L777 671M530 422L779 671M532 422L781 671M534 422L783 671M536 422L785 671M538 422L787 671M540 422L789 671M542 422L791 671M544 422L793 671M546 422L795 671M548 422L797 671M550 422L799 671M552 422L801 671M554 422L803 671M556 422L805 671M558 422L807 671M560 422L809 671M562 422L811 671M564 422L813 671M75 422L-174 671M77 422L-172 671M79 422L-170 671M81 422L-168 671M83 422L-166 671M85 422L-164 671M87 422L-162 671M89 422L-160 671M91 422L-158 671M93 422L-156 671M95 422L-154 671M97 422L-152 671M99 422L-150 671M101 422L-148 671M103 422L-146 671M105 422L-144 671M107 422L-142 671M109 422L-140 671M111 422L-138 671M113 422L-136 671M115 422L-134 671M117 422L-132 671M119 422L-130 671M121 422L-128 671M123 422L-126 671M125 422L-124 671M127 422L-122 671M129 422L-120 671M131 422L-118 671M133 422L-116 671M135 422L-114 671M137 422L-112 671M139 422L-110 671M141 422L-108 671M143 422L-106 671M145 422L-104 671M147 422L-102 671M149 422L-100 671M151 422L-98 671M153 422L-96 671M155 422L-94 671M157 422L-92 671M159 422L-90 671M161 422L-88 671M163 422L-86 671M165 422L-84 671M167 422L-82 671M169 422L-80 671M171 422L-78 671M173 422L-76 671M175 422L-74 671M177 422L-72 671M179 422L-70 671M181 422L-68 671M183 422L-66 671M185 422L-64 671M187 422L-62 671M189 422L-60 671M191 422L-58 671M193 422L-56 671M195 422L-54 671M197 422L-52 671M199 422L-50 671M201 422L-48 671M203 422L-46 671M205 422L-44 671M207 422L-42 671M209 422L-40 671M211 422L-38 671M213 422L-36 671M215 422L-34 671M217 422L-32 671M219 422L-30 671M221 422L-28 671M223 422L-26 671M225 422L-24 671M227 422L-22 671M229 422L-20 671M231 422L-18 671M233 422L-16 671M235 422L-14 671M237 422L-12 671M239 422L-10 671M241 422L-8 671M243 422L-6 671M245 422L-4 671M247 422L-2 671M249 422L0 671M251 422L2 671M253 422L4 671M255 422L6 671M257 422L8 671M259 422L10 671M261 422L12 671M263 422L14 671M265 422L16 671M267 422L18 671M269 422L20 671M271 422L22 671M273 422L24 671M275 422L26 671M277 422L28 671M279 422L30 671M281 422L32 671M283 422L34 671M285 422L36 671M287 422L38 671M289 422L40 671M291 422L42 671M293 422L44 671M295 422L46 671M297 422L48 671M299 422L50 671M301 422L52 671M303 422L54 671M305 422L56 671M307 422L58 671M309 422L60 671M311 422L62 671M313 422L64 671M315 422L66 671M317 422L68 671M319 422L70 671M321 422L72 671M323 422L74 671M325 422L76 671M327 422L78 671M329 422L80 671M331 422L82 671M333 422L84 671M335 422L86 671M337 422L88 671M339 422L90 671M341 422L92 671M343 422L94 671M345 422L96 671M347 422L98 671M349 422L100 671M351 422L102 671M353 422L104 671M355 422L106 671M357 422L108 671M359 422L110 671M361 422L112 671M363 422L114 671M365 422L116 671M367 422L118 671M369 422L120 671M371 422L122 671M373 422L124 671M375 422L126 671M377 422L128 671M379 422L130 671M381 422L132 671M383 422L134 671M385 422L136 671M387 422L138 671M389 422L140 671M391 422L142 671M393 422L144 671M395 422L146 671M397 422L148 671M399 422L150 671M401 422L152 671M403 422L154 671M405 422L156 671M407 422L158 671M409 422L160 671M411 422L162 671M413 422L164 671M415 422L166 671M417 422L168 671M419 422L170 671M421 422L172 671M423 422L174 671M425 422L176 671M427 422L178 671M429 422L180 671M431 422L182 671M433 422L184 671M435 422L186 671M437 422L188 671M439 422L190 671M441 422L192 671M443 422L194 671M445 422L196 671M447 422L198 671M449 422L200 671M451 422L202 671M453 422L204 671M455 422L206 671M457 422L208 671M459 422L210 671M461 422L212 671M463 422L214 671M465 422L216 671M467 422L218 671M469 422L220 671M471 422L222 671M473 422L224 671M475 422L226 671M477 422L228 671M479 422L230 671M481 422L232 671M483 422L234 671M485 422L236 671M487 422L238 671M489 422L240 671M491 422L242 671M493 422L244 671M495 422L246 671M497 422L248 671M499 422L250 671M501 422L252 671M503 422L254 671M505 422L256 671M507 422L258 671M509 422L260 671M511 422L262 671M513 422L264 671M515 422L266 671M517 422L268 671M519 422L270 671M521 422L272 671M523 422L274 671M525 422L276 671M527 422L278 671M529 422L280 671M531 422L282 671M533 422L284 671M535 422L286 671M537 422L288 671M539 422L290 671M541 422L292 671M543 422L294 671M545 422L296 671M547 422L298 671M549 422L300 671M551 422L302 671M553 422L304 671M555 422L306 671M557 422L308 671M559 422L310 671M561 422L312 671M563 422L314 671M565 422L316 671M567 422L318 671M569 422L320 671M571 422L322 671M573 422L324 671M575 422L326 671M577 422L328 671M579 422L330 671M581 422L332 671M583 422L334 671M585 422L336 671M587 422L338 671M589 422L340 671M591 422L342 671M593 422L344 671M595 422L346 671M597 422L348 671M599 422L350 671M601 422L352 671M603 422L354 671M605 422L356 671M607 422L358 671M609 422L360 671M611 422L362 671M613 422L364 671M615 422L366 671M617 422L368 671M619 422L370 671M621 422L372 671M623 422L374 671M625 422L376 671M627 422L378 671M629 422L380 671M631 422L382 671M633 422L384 671M635 422L386 671M637 422L388 671M639 422L390 671M641 422L392 671M643 422L394 671M645 422L396 671M647 422L398 671M649 422L400 671M651 422L402 671M653 422L404 671M655 422L406 671M657 422L408 671M659 422L410 671M661 422L412 671M663 422L414 671M665 422L416 671M667 422L418 671M669 422L420 671M671 422L422 671M673 422L424 671M675 422L426 671M677 422L428 671M679 422L430 671M681 422L432 671M683 422L434 671M685 422L436 671M687 422L438 671M689 422L440 671M691 422L442 671M693 422L444 671M695 422L446 671M697 422L448 671M699 422L450 671M701 422L452 671M703 422L454 671M705 422L456 671M707 422L458 671M709 422L460 671M711 422L462 671M713 422L464 671M715 422L466 671M717 422L468 671M719 422L470 671M721 422L472 671M723 422L474 671M725 422L476 671M727 422L478 671M729 422L480 671M731 422L482 671M733 422L484 671M735 422L486 671M737 422L488 671M739 422L490 671M741 422L492 671M743 422L494 671M745 422L496 671M747 422L498 671M749 422L500 671M751 422L502 671M753 422L504 671M755 422L506 671M757 422L508 671M759 422L510 671M761 422L512 671M763 422L514 671M765 422L516 671M767 422L518 671M769 422L520 671M771 422L522 671M773 422L524 671M775 422L526 671M777 422L528 671M779 422L530 671M781 422L532 671M783 422L534 671M785 422L536 671M787 422L538 671M789 422L540 671M791 422L542 671M793 422L544 671M795 422L546 671M797 422L548 671M799 422L550 671M801 422L552 671M803 422L554 671M805 422L556 671M807 422L558 671M809 422L560 671M811 422L562 671M813 422L564 671"/></g>
<polyline class="ins" points="211.5,444.4 211.5,427.6 313.9,427.6"/>
<polyline class="ins" points="335.5,427.6 558.2,427.6 558.2,467.5"/>
<polyline class="ins" points="558.2,555.4 558.2,608 407,608 407,665.4 315.5,665.4"/>
<polyline class="ins" points="212.6,665.4 293.8,665.4"/>
<polyline class="ins" points="80.7,639.2 80.7,665.4 197,665.4"/>
<polyline class="ins" points="80.7,544.4 80.7,617.2"/>
<polyline class="ins" points="80.7,505.5 80.7,480.3 144.4,480.3"/>
<polyline class="ins" points="197,480.3 211.5,480.3 211.5,473"/>
<polygon class="wxs" points="208.5,424.6 313.9,424.6 313.9,438.6 217,438.6 217,444.4 208.5,444.4"/>
<polygon class="wxs" points="335.5,424.6 561.2,424.6 561.2,467.5 547.5,467.5 547.5,438.6 335.5,438.6"/>
<polygon class="wxs" points="547.5,555.4 561.2,555.4 561.2,611 410,611 410,668.4 315.5,668.4 315.5,654.6 396,654.6 396,597 547.5,597"/>
<polygon class="wxs" points="212.6,654.6 293.8,654.6 293.8,668.4 212.6,668.4"/>
<polygon class="wxs" points="77.7,639.2 91.6,639.2 91.6,654.6 197,654.6 197,668.4 77.7,668.4"/>
<polygon class="wxs" points="77.7,544.4 91.6,544.4 91.6,617.2 77.7,617.2"/>
<polygon class="wxs" points="77.7,477.3 144.4,477.3 144.4,486.1 91.6,486.1 91.6,505.5 77.7,505.5"/>
<polygon class="wxs" points="197,477.3 208.5,477.3 208.5,473 217,473 217,486.1 197,486.1"/>
<rect class="col" x="152.3" y="597" width="5.7" height="5.6"/>
<circle class="th" cx="155.1" cy="599.8" r="1.1"/>
<rect class="col" x="310.6" y="597.6" width="5" height="5.4"/>
<circle class="th" cx="313.1" cy="600.3" r="1.1"/>
<polygon class="wf" points="91.6,597 138.2,597 138.2,602.2 91.6,602.2"/>
<polygon class="wf" points="166.9,597 222.3,597 222.3,602.2 166.9,602.2"/>
<clipPath id="cd2"><polygon points="91.6,597 138.2,597 138.2,602.2 91.6,602.2"/><polygon points="166.9,597 222.3,597 222.3,602.2 166.9,602.2"/></clipPath>
<path class="hd" clip-path="url(#cd2)" d="M-71.42 671L72.34 422M-68.76 671L75 422M-66.1 671L77.66 422M-63.44 671L80.32 422M-60.78 671L82.98 422M-58.12 671L85.64 422M-55.46 671L88.3 422M-52.8 671L90.96 422M-50.14 671L93.62 422M-47.48 671L96.28 422M-44.82 671L98.94 422M-42.16 671L101.6 422M-39.5 671L104.26 422M-36.84 671L106.92 422M-34.18 671L109.58 422M-31.52 671L112.24 422M-28.86 671L114.9 422M-26.2 671L117.56 422M-23.54 671L120.22 422M-20.88 671L122.88 422M-18.22 671L125.54 422M-15.56 671L128.2 422M-12.9 671L130.86 422M-10.24 671L133.52 422M-7.58 671L136.18 422M-4.92 671L138.84 422M-2.26 671L141.5 422M0.4 671L144.16 422M3.06 671L146.82 422M5.72 671L149.48 422M8.38 671L152.14 422M11.04 671L154.8 422M13.7 671L157.46 422M16.36 671L160.12 422M19.02 671L162.78 422M21.68 671L165.44 422M24.34 671L168.1 422M27 671L170.76 422M29.66 671L173.42 422M32.32 671L176.08 422M34.98 671L178.74 422M37.64 671L181.4 422M40.3 671L184.06 422M42.96 671L186.72 422M45.62 671L189.38 422M48.28 671L192.04 422M50.94 671L194.7 422M53.6 671L197.36 422M56.26 671L200.02 422M58.92 671L202.68 422M61.58 671L205.34 422M64.24 671L208 422M66.9 671L210.66 422M69.56 671L213.32 422M72.22 671L215.98 422M74.88 671L218.64 422M77.54 671L221.3 422M80.2 671L223.96 422M82.86 671L226.62 422M85.52 671L229.28 422M88.18 671L231.94 422M90.84 671L234.6 422M93.5 671L237.26 422M96.16 671L239.92 422M98.82 671L242.58 422M101.48 671L245.24 422M104.14 671L247.9 422M106.8 671L250.56 422M109.46 671L253.22 422M112.12 671L255.88 422M114.78 671L258.54 422M117.44 671L261.2 422M120.1 671L263.86 422M122.76 671L266.52 422M125.42 671L269.18 422M128.08 671L271.84 422M130.74 671L274.5 422M133.4 671L277.16 422M136.06 671L279.82 422M138.72 671L282.48 422M141.38 671L285.14 422M144.04 671L287.8 422M146.7 671L290.46 422M149.36 671L293.12 422M152.02 671L295.78 422M154.68 671L298.44 422M157.34 671L301.1 422M160 671L303.76 422M162.66 671L306.42 422M165.32 671L309.08 422M167.98 671L311.74 422M170.64 671L314.4 422M173.3 671L317.06 422M175.96 671L319.72 422M178.62 671L322.38 422M181.28 671L325.04 422M183.94 671L327.7 422M186.6 671L330.36 422M189.26 671L333.02 422M191.92 671L335.68 422M194.58 671L338.34 422M197.24 671L341 422M199.9 671L343.66 422M202.56 671L346.32 422M205.22 671L348.98 422M207.88 671L351.64 422M210.54 671L354.3 422M213.2 671L356.96 422M215.86 671L359.62 422M218.52 671L362.28 422M221.18 671L364.94 422M223.84 671L367.6 422M226.5 671L370.26 422M229.16 671L372.92 422M231.82 671L375.58 422M234.48 671L378.24 422M237.14 671L380.9 422M239.8 671L383.56 422M242.46 671L386.22 422M245.12 671L388.88 422M247.78 671L391.54 422M250.44 671L394.2 422M253.1 671L396.86 422M255.76 671L399.52 422M258.42 671L402.18 422M261.08 671L404.84 422M263.74 671L407.5 422M266.4 671L410.16 422M269.06 671L412.82 422M271.72 671L415.48 422M274.38 671L418.14 422M277.04 671L420.8 422M279.7 671L423.46 422M282.36 671L426.12 422M285.02 671L428.78 422M287.68 671L431.44 422M290.34 671L434.1 422M293 671L436.76 422M295.66 671L439.42 422M298.32 671L442.08 422M300.98 671L444.74 422M303.64 671L447.4 422M306.3 671L450.06 422M308.96 671L452.72 422M311.62 671L455.38 422M314.28 671L458.04 422M316.94 671L460.7 422M319.6 671L463.36 422M322.26 671L466.02 422M324.92 671L468.68 422M327.58 671L471.34 422M330.24 671L474 422M332.9 671L476.66 422M335.56 671L479.32 422M338.22 671L481.98 422M340.88 671L484.64 422M343.54 671L487.3 422M346.2 671L489.96 422M348.86 671L492.62 422M351.52 671L495.28 422M354.18 671L497.94 422M356.84 671L500.6 422M359.5 671L503.26 422M362.16 671L505.92 422M364.82 671L508.58 422M367.48 671L511.24 422M370.14 671L513.9 422M372.8 671L516.56 422M375.46 671L519.22 422M378.12 671L521.88 422M380.78 671L524.54 422M383.44 671L527.2 422M386.1 671L529.86 422M388.76 671L532.52 422M391.42 671L535.18 422M394.08 671L537.84 422M396.74 671L540.5 422M399.4 671L543.16 422M402.06 671L545.82 422M404.72 671L548.48 422M407.38 671L551.14 422M410.04 671L553.8 422M412.7 671L556.46 422M415.36 671L559.12 422M418.02 671L561.78 422M420.68 671L564.44 422M423.34 671L567.1 422M426 671L569.76 422M428.66 671L572.42 422M431.32 671L575.08 422M433.98 671L577.74 422M436.64 671L580.4 422M439.3 671L583.06 422M441.96 671L585.72 422M444.62 671L588.38 422M447.28 671L591.04 422M449.94 671L593.7 422M452.6 671L596.36 422M455.26 671L599.02 422M457.92 671L601.68 422M460.58 671L604.34 422M463.24 671L607 422M465.9 671L609.66 422M468.56 671L612.32 422M471.22 671L614.98 422M473.88 671L617.64 422M476.54 671L620.3 422M479.2 671L622.96 422M481.86 671L625.62 422M484.52 671L628.28 422M487.18 671L630.94 422M489.84 671L633.6 422M492.5 671L636.26 422M495.16 671L638.92 422M497.82 671L641.58 422M500.48 671L644.24 422M503.14 671L646.9 422M505.8 671L649.56 422M508.46 671L652.22 422M511.12 671L654.88 422M513.78 671L657.54 422M516.44 671L660.2 422M519.1 671L662.86 422M521.76 671L665.52 422M524.42 671L668.18 422M527.08 671L670.84 422M529.74 671L673.5 422M532.4 671L676.16 422M535.06 671L678.82 422M537.72 671L681.48 422M540.38 671L684.14 422M543.04 671L686.8 422M545.7 671L689.46 422M548.36 671L692.12 422M551.02 671L694.78 422M553.68 671L697.44 422M556.34 671L700.1 422M559 671L702.76 422M561.66 671L705.42 422M564.32 671L708.08 422"/>
<polygon class="wds" points="91.6,597 138.2,597 138.2,602.2 91.6,602.2"/>
<polygon class="wds" points="166.9,597 222.3,597 222.3,602.2 166.9,602.2"/>
<rect class="ww" x="207.4" y="519.7" width="14.8" height="14.9"/>
<circle class="th" cx="214.8" cy="527.1" r="6"/>
<polyline class="ch" points="207.4,514.4 234.9,514.4 234.9,552.2 264,552.2"/>
<line class="wl" x1="313.9" y1="424.6" x2="335.5" y2="424.6"/>
<line class="wl" x1="313.9" y1="438.6" x2="335.5" y2="438.6"/>
<line class="gl" x1="313.9" y1="431.6" x2="335.5" y2="431.6"/>
<line class="wl" x1="197" y1="668.4" x2="212.6" y2="668.4"/>
<line class="wl" x1="197" y1="654.6" x2="212.6" y2="654.6"/>
<line class="gl" x1="197" y1="661.5" x2="212.6" y2="661.5"/>
<line class="wl" x1="293.8" y1="668.4" x2="315.5" y2="668.4"/>
<line class="wl" x1="293.8" y1="654.6" x2="315.5" y2="654.6"/>
<line class="gl" x1="293.8" y1="661.5" x2="315.5" y2="661.5"/>
<line class="wl" x1="77.7" y1="505.5" x2="77.7" y2="544.4"/>
<line class="wl" x1="91.6" y1="505.5" x2="91.6" y2="544.4"/>
<line class="gl" x1="84.65" y1="505.5" x2="84.65" y2="544.4"/>
<line class="wl" x1="77.7" y1="617.2" x2="77.7" y2="639.2"/>
<line class="wl" x1="91.6" y1="617.2" x2="91.6" y2="639.2"/>
<line class="gl" x1="84.65" y1="617.2" x2="84.65" y2="639.2"/>
<line class="wl" x1="561.2" y1="467.5" x2="561.2" y2="555.4"/>
<line class="wl" x1="547.5" y1="467.5" x2="547.5" y2="555.4"/>
<line class="gl" x1="554.35" y1="467.5" x2="554.35" y2="555.4"/>
<line class="wl" x1="208.5" y1="444.4" x2="208.5" y2="473"/>
<line class="wl" x1="217" y1="444.4" x2="217" y2="473"/>
<line class="gl" x1="212.75" y1="444.4" x2="212.75" y2="473"/>
<line class="wl" x1="144.4" y1="477.3" x2="176.2" y2="477.3"/>
<line class="wl" x1="144.4" y1="486.1" x2="176.2" y2="486.1"/>
<line class="gl" x1="144.4" y1="481.7" x2="176.2" y2="481.7"/>
<line class="wl" x1="176.2" y1="477.3" x2="197" y2="477.3"/>
<line class="wl" x1="176.2" y1="486.1" x2="197" y2="486.1"/>
<line class="dr" x1="176.4" y1="486.1" x2="176.4" y2="505.6"/>
<path class="dr" d="M176.4 505.6 A19.5 19.5 0 0 0 197 486.1"/>
<text class="tl" x="182.6" y="496" text-anchor="middle" transform="rotate(-90 182.6 496)">800</text>
<text class="tl" x="187" y="496" text-anchor="middle" transform="rotate(-90 187 496)">1970</text>
<line class="d" x1="184.8" y1="474" x2="184.8" y2="509"/>
<rect class="th" x="372.4" y="438.6" width="31.5" height="113.9"/>
<rect class="th" x="377.3" y="438.6" width="22" height="108.9"/>
<line class="th" x1="377.3" y1="475.2" x2="399.3" y2="475.2"/>
<line class="th" x1="377.3" y1="481" x2="399.3" y2="481"/>
<line class="th" x1="377.3" y1="486.8" x2="399.3" y2="486.8"/>
<line class="th" x1="377.3" y1="492.6" x2="399.3" y2="492.6"/>
<line class="th" x1="377.3" y1="498.4" x2="399.3" y2="498.4"/>
<line class="th" x1="377.3" y1="504.2" x2="399.3" y2="504.2"/>
<line class="th" x1="377.3" y1="510" x2="399.3" y2="510"/>
<line class="th" x1="377.3" y1="515.8" x2="399.3" y2="515.8"/>
<line class="th" x1="377.3" y1="521.6" x2="399.3" y2="521.6"/>
<line class="th" x1="377.3" y1="527.4" x2="399.3" y2="527.4"/>
<line class="th" x1="377.3" y1="533.2" x2="399.3" y2="533.2"/>
<line class="th" x1="377.3" y1="539" x2="399.3" y2="539"/>
<line class="th" x1="377.3" y1="544.8" x2="399.3" y2="544.8"/>
<line class="th" x1="388" y1="475.2" x2="388" y2="547"/>
<polyline class="th" points="382.4,542 388,547.4 393.8,542"/>
<text class="tl" x="393.6" y="511.6" text-anchor="middle" transform="rotate(-90 393.6 511.6)">14x171x270</text>
<text class="t" x="222.6" y="432" text-anchor="middle" transform="rotate(-90 222.6 432)">570</text>
<text class="t" x="343.6" y="432" text-anchor="middle" transform="rotate(-90 343.6 432)">570</text>
<text class="t" x="504.6" y="432" text-anchor="middle" transform="rotate(-90 504.6 432)">570</text>
<text class="t" x="554.4" y="588.6" text-anchor="middle">570</text>
<text class="t" x="504.6" y="604.6" text-anchor="middle" transform="rotate(-90 504.6 604.6)">570</text>
<text class="t" x="130" y="482.4" text-anchor="middle" transform="rotate(-90 130 482.4)">570</text>
<text class="t" x="130" y="662" text-anchor="middle" transform="rotate(-90 130 662)">570</text>
<text class="t" x="343.6" y="662" text-anchor="middle" transform="rotate(-90 343.6 662)">570</text>
<text class="t" x="84.6" y="589.6" text-anchor="middle">570</text>
<text class="t" x="203" y="448.6" text-anchor="middle">370</text>
<text class="t" x="100.6" y="593.8" text-anchor="middle" transform="rotate(-90 100.6 593.8)">200</text>
<text class="t" x="130.6" y="607" text-anchor="middle" transform="rotate(-90 130.6 607)">200</text>
<text class="t" x="296.2" y="596" text-anchor="middle" transform="rotate(-90 296.2 596)">200</text>
<text class="t" x="155.2" y="588" text-anchor="middle">200</text>
<text class="t" x="322.6" y="588.2" text-anchor="middle">200</text>
<text class="t" x="408.6" y="623" text-anchor="middle" transform="rotate(-90 408.6 623)">570</text>
<text class="rm" x="148.6" y="453.6" text-anchor="middle" textLength="10.6" lengthAdjust="spacingAndGlyphs">2.02</text>
<rect class="lv" x="162.7" y="448.2" width="14.6" height="6.4" rx=".8"/>
<text class="tl" x="170" y="453" text-anchor="middle">+3,100</text>
<text class="rm" x="319.6" y="526.4" text-anchor="middle" textLength="10.6" lengthAdjust="spacingAndGlyphs">2.01</text>
<rect class="lv" x="310.9" y="534.6" width="14.6" height="6.4" rx=".8"/>
<text class="tl" x="318.2" y="539.4" text-anchor="middle">+2,850</text>
<text class="t" x="73" y="511" text-anchor="middle">570</text>
<text class="t" x="567.8" y="511" text-anchor="middle">570</text>
<line class="sec" x1="20" y1="514.2" x2="27.6" y2="514.2"/>
<line class="sec" x1="32.3" y1="514.2" x2="39.9" y2="514.2"/>
<line class="sec" x1="29.45" y1="514.2" x2="30.35" y2="514.2"/>
<line class="sec" x1="25.9" y1="514.2" x2="25.9" y2="527"/>
<polyline class="sec" points="22.9,518.5 25.9,514.6 28.9,518.5"/>
<text class="sect" x="29.5" y="525.6">A</text>
<line class="sec" x1="600" y1="552.5" x2="607.6" y2="552.5"/>
<line class="sec" x1="612.3" y1="552.5" x2="620" y2="552.5"/>
<line class="sec" x1="609.45" y1="552.5" x2="610.35" y2="552.5"/>
<line class="sec" x1="615.1" y1="552.5" x2="615.1" y2="565.3"/>
<polyline class="sec" points="612.1,556.8 615.1,552.9 618.1,556.8"/>
<text class="sect" x="618.1" y="563.9">A'</text>
<line class="sec" x1="261.4" y1="399.6" x2="274.2" y2="399.6"/>
<polyline class="sec" points="266,396.6 261.8,399.6 266,402.4"/>
<line class="sec" x1="261.4" y1="396.7" x2="261.4" y2="402"/>
<line class="sec" x1="261.4" y1="403.9" x2="261.4" y2="404.7"/>
<line class="sec" x1="261.4" y1="406.6" x2="261.4" y2="412.2"/>
<text class="sect" x="266.3" y="407.8" text-anchor="middle" transform="rotate(90 266.3 407.8)">B</text>
<line class="sec" x1="261.4" y1="688" x2="274.2" y2="688"/>
<polyline class="sec" points="266,685 261.8,688 266,690.8"/>
<line class="sec" x1="261.4" y1="685.1" x2="261.4" y2="690.4"/>
<line class="sec" x1="261.4" y1="684.2" x2="261.4" y2="685"/>
<line class="sec" x1="261.4" y1="679.1" x2="261.4" y2="682.6"/>
<text class="sect" x="266.3" y="681.6" text-anchor="middle" transform="rotate(90 266.3 681.6)">B</text>
</g>
</svg>
</body></html>
